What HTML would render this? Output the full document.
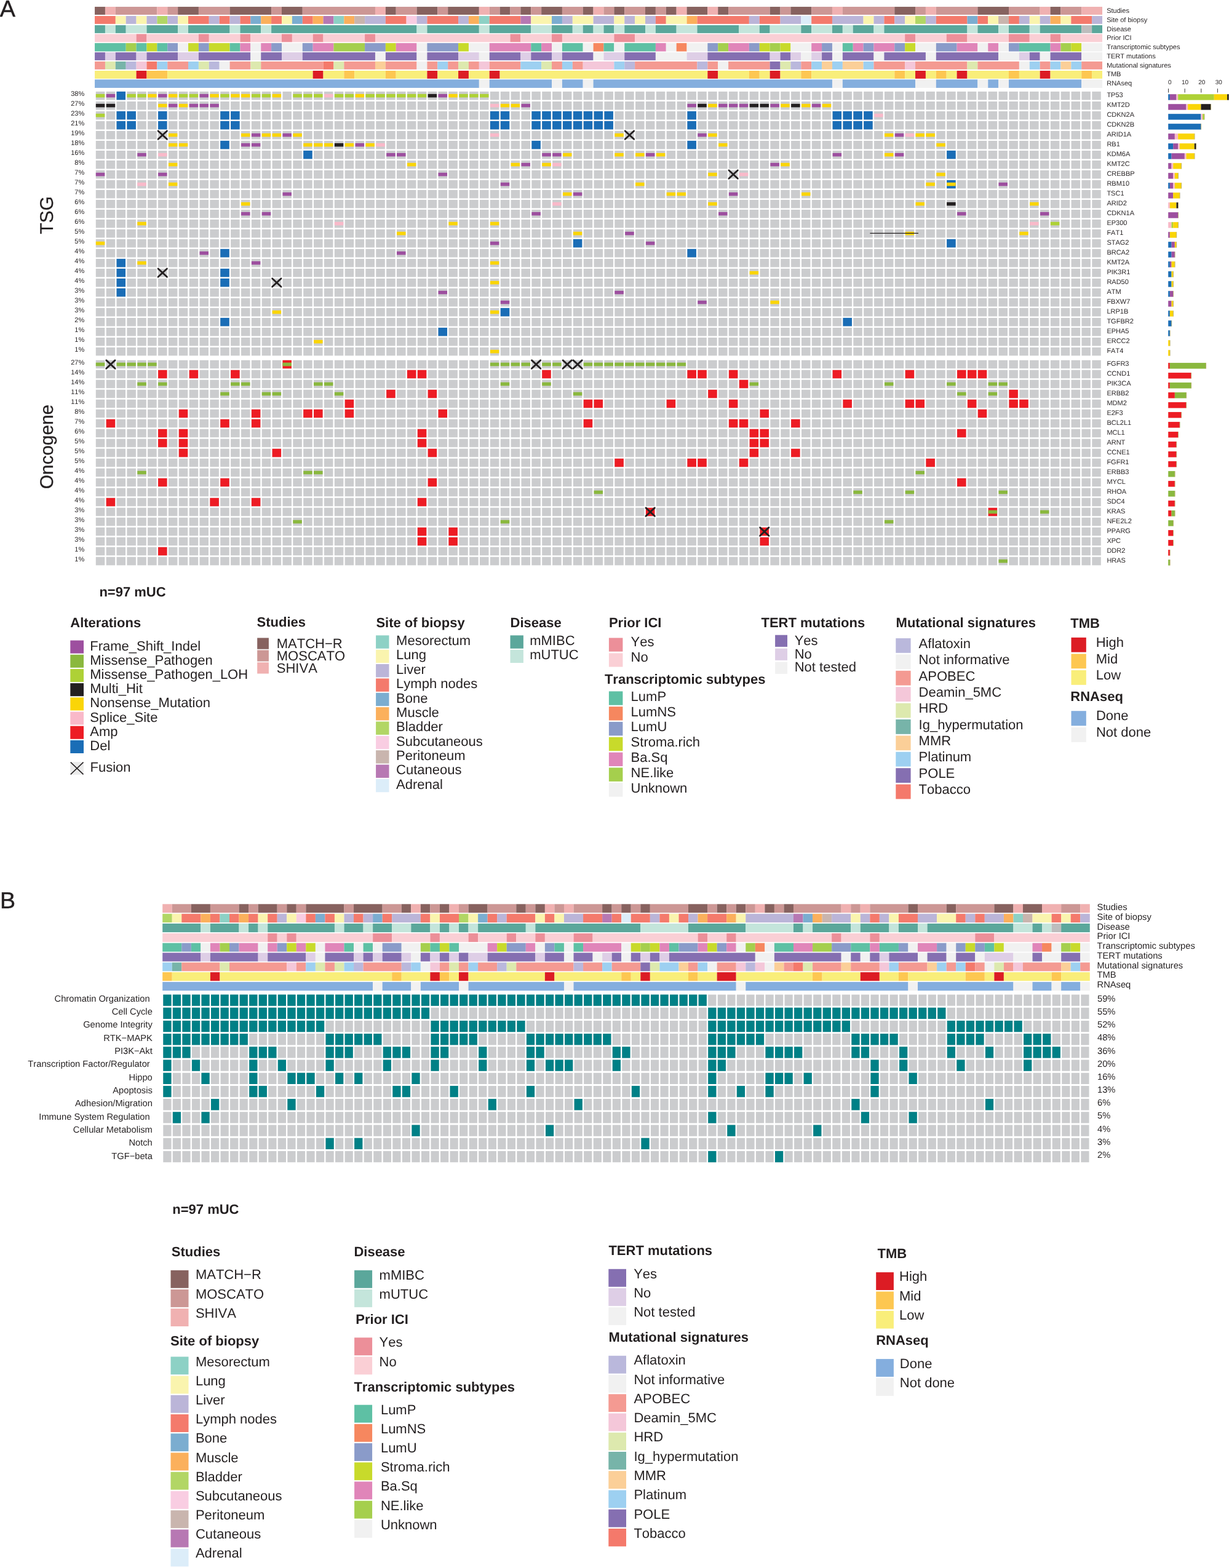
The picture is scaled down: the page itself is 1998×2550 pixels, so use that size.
<!DOCTYPE html>
<html lang="en"><head><meta charset="utf-8"><title>mUC oncoprint</title>
<style>
html,body{margin:0;padding:0;background:#fff}
body{width:1998px;height:2550px;overflow:hidden}
svg{display:block;text-rendering:geometricPrecision;font-kerning:none;font-variant-ligatures:none;font-family:"Liberation Sans",Arial,Helvetica,sans-serif;fill:#231F20}
</style></head><body>
<svg width="1998" height="2550" viewBox="0 0 1998 2550">
<rect width="1998" height="2550" fill="#fff"/>
<g id="panelA">
<text x="-0.3" y="27.2" font-size="37.8" stroke="#231F20" stroke-width="0.5">A</text>
<rect x="154.05" y="11.05" width="16.89" height="12.9" fill="#87625F"/>
<rect x="170.94" y="11.05" width="16.89" height="12.9" fill="#F0B1B1"/>
<rect x="187.82" y="11.05" width="67.54" height="12.9" fill="#CC9795"/>
<rect x="255.37" y="11.05" width="16.89" height="12.9" fill="#F0B1B1"/>
<rect x="272.25" y="11.05" width="16.89" height="12.9" fill="#CC9795"/>
<rect x="289.14" y="11.05" width="33.77" height="12.9" fill="#87625F"/>
<rect x="322.91" y="11.05" width="50.66" height="12.9" fill="#CC9795"/>
<rect x="373.57" y="11.05" width="67.54" height="12.9" fill="#87625F"/>
<rect x="441.11" y="11.05" width="16.89" height="12.9" fill="#CC9795"/>
<rect x="458" y="11.05" width="33.77" height="12.9" fill="#87625F"/>
<rect x="491.77" y="11.05" width="118.2" height="12.9" fill="#CC9795"/>
<rect x="609.97" y="11.05" width="16.89" height="12.9" fill="#F0B1B1"/>
<rect x="626.86" y="11.05" width="16.89" height="12.9" fill="#87625F"/>
<rect x="643.74" y="11.05" width="33.77" height="12.9" fill="#CC9795"/>
<rect x="677.52" y="11.05" width="33.77" height="12.9" fill="#87625F"/>
<rect x="711.29" y="11.05" width="16.89" height="12.9" fill="#CC9795"/>
<rect x="728.17" y="11.05" width="50.66" height="12.9" fill="#87625F"/>
<rect x="778.83" y="11.05" width="16.89" height="12.9" fill="#F0B1B1"/>
<rect x="795.72" y="11.05" width="16.89" height="12.9" fill="#CC9795"/>
<rect x="812.6" y="11.05" width="16.89" height="12.9" fill="#87625F"/>
<rect x="829.49" y="11.05" width="16.89" height="12.9" fill="#CC9795"/>
<rect x="846.38" y="11.05" width="16.89" height="12.9" fill="#87625F"/>
<rect x="863.26" y="11.05" width="16.89" height="12.9" fill="#CC9795"/>
<rect x="880.15" y="11.05" width="33.77" height="12.9" fill="#87625F"/>
<rect x="913.92" y="11.05" width="33.77" height="12.9" fill="#CC9795"/>
<rect x="947.69" y="11.05" width="16.89" height="12.9" fill="#87625F"/>
<rect x="964.58" y="11.05" width="16.89" height="12.9" fill="#F0B1B1"/>
<rect x="981.46" y="11.05" width="16.89" height="12.9" fill="#CC9795"/>
<rect x="998.35" y="11.05" width="16.89" height="12.9" fill="#87625F"/>
<rect x="1015.24" y="11.05" width="33.77" height="12.9" fill="#CC9795"/>
<rect x="1049.01" y="11.05" width="16.89" height="12.9" fill="#87625F"/>
<rect x="1065.89" y="11.05" width="16.89" height="12.9" fill="#CC9795"/>
<rect x="1082.78" y="11.05" width="16.89" height="12.9" fill="#87625F"/>
<rect x="1099.67" y="11.05" width="16.89" height="12.9" fill="#F0B1B1"/>
<rect x="1116.55" y="11.05" width="33.77" height="12.9" fill="#87625F"/>
<rect x="1150.32" y="11.05" width="16.89" height="12.9" fill="#F0B1B1"/>
<rect x="1167.21" y="11.05" width="16.89" height="12.9" fill="#87625F"/>
<rect x="1184.1" y="11.05" width="67.54" height="12.9" fill="#CC9795"/>
<rect x="1251.64" y="11.05" width="16.89" height="12.9" fill="#87625F"/>
<rect x="1268.53" y="11.05" width="16.89" height="12.9" fill="#CC9795"/>
<rect x="1285.41" y="11.05" width="33.77" height="12.9" fill="#87625F"/>
<rect x="1319.18" y="11.05" width="33.77" height="12.9" fill="#CC9795"/>
<rect x="1352.96" y="11.05" width="16.89" height="12.9" fill="#F0B1B1"/>
<rect x="1369.84" y="11.05" width="84.43" height="12.9" fill="#CC9795"/>
<rect x="1454.27" y="11.05" width="33.77" height="12.9" fill="#87625F"/>
<rect x="1488.04" y="11.05" width="16.89" height="12.9" fill="#CC9795"/>
<rect x="1504.93" y="11.05" width="16.89" height="12.9" fill="#F0B1B1"/>
<rect x="1521.82" y="11.05" width="67.54" height="12.9" fill="#CC9795"/>
<rect x="1589.36" y="11.05" width="50.66" height="12.9" fill="#87625F"/>
<rect x="1640.02" y="11.05" width="50.66" height="12.9" fill="#CC9795"/>
<rect x="1690.68" y="11.05" width="16.89" height="12.9" fill="#F0B1B1"/>
<rect x="1707.56" y="11.05" width="16.89" height="12.9" fill="#87625F"/>
<rect x="1724.45" y="11.05" width="33.77" height="12.9" fill="#CC9795"/>
<rect x="1758.22" y="11.05" width="33.77" height="12.9" fill="#F0B1B1"/>
<text x="1799.2" y="21.1" font-size="11">Studies</text>
<rect x="154.05" y="26" width="33.77" height="12.9" fill="#F47A6C"/>
<rect x="187.82" y="26" width="16.89" height="12.9" fill="#FAF4AE"/>
<rect x="204.71" y="26" width="16.89" height="12.9" fill="#BBB5D8"/>
<rect x="221.59" y="26" width="16.89" height="12.9" fill="#FAF4AE"/>
<rect x="238.48" y="26" width="16.89" height="12.9" fill="#BBB5D8"/>
<rect x="255.37" y="26" width="16.89" height="12.9" fill="#B2D665"/>
<rect x="272.25" y="26" width="16.89" height="12.9" fill="#BBB5D8"/>
<rect x="289.14" y="26" width="16.89" height="12.9" fill="#FAF4AE"/>
<rect x="306.02" y="26" width="33.77" height="12.9" fill="#F47A6C"/>
<rect x="339.8" y="26" width="16.89" height="12.9" fill="#BBB5D8"/>
<rect x="356.68" y="26" width="16.89" height="12.9" fill="#F47A6C"/>
<rect x="373.57" y="26" width="16.89" height="12.9" fill="#BBB5D8"/>
<rect x="390.45" y="26" width="16.89" height="12.9" fill="#F47A6C"/>
<rect x="407.34" y="26" width="16.89" height="12.9" fill="#7BADD0"/>
<rect x="424.23" y="26" width="16.89" height="12.9" fill="#FBB05C"/>
<rect x="441.11" y="26" width="16.89" height="12.9" fill="#F47A6C"/>
<rect x="458" y="26" width="16.89" height="12.9" fill="#FAF4AE"/>
<rect x="474.88" y="26" width="16.89" height="12.9" fill="#7BADD0"/>
<rect x="491.77" y="26" width="16.89" height="12.9" fill="#F47A6C"/>
<rect x="508.66" y="26" width="16.89" height="12.9" fill="#FBB05C"/>
<rect x="525.54" y="26" width="16.89" height="12.9" fill="#B778B3"/>
<rect x="542.43" y="26" width="16.89" height="12.9" fill="#8DD1C5"/>
<rect x="559.31" y="26" width="16.89" height="12.9" fill="#FBB05C"/>
<rect x="576.2" y="26" width="16.89" height="12.9" fill="#C9B5AE"/>
<rect x="593.09" y="26" width="33.77" height="12.9" fill="#BBB5D8"/>
<rect x="626.86" y="26" width="33.77" height="12.9" fill="#F47A6C"/>
<rect x="660.63" y="26" width="16.89" height="12.9" fill="#F9CDE2"/>
<rect x="677.52" y="26" width="16.89" height="12.9" fill="#BBB5D8"/>
<rect x="694.4" y="26" width="50.66" height="12.9" fill="#F47A6C"/>
<rect x="745.06" y="26" width="16.89" height="12.9" fill="#BBB5D8"/>
<rect x="761.95" y="26" width="16.89" height="12.9" fill="#FBB05C"/>
<rect x="778.83" y="26" width="16.89" height="12.9" fill="#8DD1C5"/>
<rect x="795.72" y="26" width="50.66" height="12.9" fill="#F47A6C"/>
<rect x="846.38" y="26" width="16.89" height="12.9" fill="#B778B3"/>
<rect x="863.26" y="26" width="33.77" height="12.9" fill="#FAF4AE"/>
<rect x="897.03" y="26" width="16.89" height="12.9" fill="#7BADD0"/>
<rect x="913.92" y="26" width="16.89" height="12.9" fill="#BBB5D8"/>
<rect x="930.81" y="26" width="33.77" height="12.9" fill="#FAF4AE"/>
<rect x="964.58" y="26" width="33.77" height="12.9" fill="#BBB5D8"/>
<rect x="998.35" y="26" width="16.89" height="12.9" fill="#FAF4AE"/>
<rect x="1015.24" y="26" width="16.89" height="12.9" fill="#BBB5D8"/>
<rect x="1032.12" y="26" width="16.89" height="12.9" fill="#FAF4AE"/>
<rect x="1049.01" y="26" width="16.89" height="12.9" fill="#BBB5D8"/>
<rect x="1065.89" y="26" width="16.89" height="12.9" fill="#F47A6C"/>
<rect x="1082.78" y="26" width="33.77" height="12.9" fill="#FAF4AE"/>
<rect x="1116.55" y="26" width="16.89" height="12.9" fill="#FBB05C"/>
<rect x="1133.44" y="26" width="84.43" height="12.9" fill="#F47A6C"/>
<rect x="1217.87" y="26" width="16.89" height="12.9" fill="#BBB5D8"/>
<rect x="1234.75" y="26" width="33.77" height="12.9" fill="#F47A6C"/>
<rect x="1268.53" y="26" width="33.77" height="12.9" fill="#BBB5D8"/>
<rect x="1302.3" y="26" width="16.89" height="12.9" fill="#DCEDF9"/>
<rect x="1319.18" y="26" width="33.77" height="12.9" fill="#F47A6C"/>
<rect x="1352.96" y="26" width="50.66" height="12.9" fill="#BBB5D8"/>
<rect x="1403.61" y="26" width="16.89" height="12.9" fill="#FAF4AE"/>
<rect x="1420.5" y="26" width="16.89" height="12.9" fill="#BBB5D8"/>
<rect x="1437.39" y="26" width="16.89" height="12.9" fill="#F47A6C"/>
<rect x="1454.27" y="26" width="16.89" height="12.9" fill="#BBB5D8"/>
<rect x="1471.16" y="26" width="16.89" height="12.9" fill="#FAF4AE"/>
<rect x="1488.04" y="26" width="16.89" height="12.9" fill="#B2D665"/>
<rect x="1504.93" y="26" width="16.89" height="12.9" fill="#BBB5D8"/>
<rect x="1521.82" y="26" width="50.66" height="12.9" fill="#F47A6C"/>
<rect x="1572.47" y="26" width="16.89" height="12.9" fill="#7BADD0"/>
<rect x="1589.36" y="26" width="16.89" height="12.9" fill="#F47A6C"/>
<rect x="1606.25" y="26" width="16.89" height="12.9" fill="#FAF4AE"/>
<rect x="1623.13" y="26" width="16.89" height="12.9" fill="#C9B5AE"/>
<rect x="1640.02" y="26" width="16.89" height="12.9" fill="#F47A6C"/>
<rect x="1656.9" y="26" width="16.89" height="12.9" fill="#BBB5D8"/>
<rect x="1673.79" y="26" width="16.89" height="12.9" fill="#FAF4AE"/>
<rect x="1690.68" y="26" width="16.89" height="12.9" fill="#BBB5D8"/>
<rect x="1707.56" y="26" width="16.89" height="12.9" fill="#FBB05C"/>
<rect x="1724.45" y="26" width="16.89" height="12.9" fill="#FAF4AE"/>
<rect x="1741.33" y="26" width="33.77" height="12.9" fill="#F47A6C"/>
<rect x="1775.11" y="26" width="16.89" height="12.9" fill="#BBB5D8"/>
<text x="1799.2" y="35.85" font-size="11">Site of biopsy</text>
<rect x="154.05" y="41" width="16.89" height="12.9" fill="#5BA79B"/>
<rect x="170.94" y="41" width="16.89" height="12.9" fill="#C4E5DB"/>
<rect x="187.82" y="41" width="16.89" height="12.9" fill="#5BA79B"/>
<rect x="204.71" y="41" width="33.77" height="12.9" fill="#C4E5DB"/>
<rect x="238.48" y="41" width="50.66" height="12.9" fill="#5BA79B"/>
<rect x="289.14" y="41" width="16.89" height="12.9" fill="#C4E5DB"/>
<rect x="306.02" y="41" width="67.54" height="12.9" fill="#5BA79B"/>
<rect x="373.57" y="41" width="16.89" height="12.9" fill="#C4E5DB"/>
<rect x="390.45" y="41" width="33.77" height="12.9" fill="#5BA79B"/>
<rect x="424.23" y="41" width="16.89" height="12.9" fill="#C4E5DB"/>
<rect x="441.11" y="41" width="236.4" height="12.9" fill="#5BA79B"/>
<rect x="677.52" y="41" width="16.89" height="12.9" fill="#C4E5DB"/>
<rect x="694.4" y="41" width="84.43" height="12.9" fill="#5BA79B"/>
<rect x="778.83" y="41" width="16.89" height="12.9" fill="#C4E5DB"/>
<rect x="795.72" y="41" width="67.54" height="12.9" fill="#5BA79B"/>
<rect x="863.26" y="41" width="33.77" height="12.9" fill="#C4E5DB"/>
<rect x="897.03" y="41" width="33.77" height="12.9" fill="#5BA79B"/>
<rect x="930.81" y="41" width="16.89" height="12.9" fill="#C4E5DB"/>
<rect x="947.69" y="41" width="16.89" height="12.9" fill="#5BA79B"/>
<rect x="964.58" y="41" width="16.89" height="12.9" fill="#C4E5DB"/>
<rect x="981.46" y="41" width="16.89" height="12.9" fill="#5BA79B"/>
<rect x="998.35" y="41" width="16.89" height="12.9" fill="#C4E5DB"/>
<rect x="1015.24" y="41" width="33.77" height="12.9" fill="#5BA79B"/>
<rect x="1049.01" y="41" width="16.89" height="12.9" fill="#C4E5DB"/>
<rect x="1065.89" y="41" width="33.77" height="12.9" fill="#5BA79B"/>
<rect x="1099.67" y="41" width="33.77" height="12.9" fill="#C4E5DB"/>
<rect x="1133.44" y="41" width="67.54" height="12.9" fill="#5BA79B"/>
<rect x="1200.98" y="41" width="33.77" height="12.9" fill="#C4E5DB"/>
<rect x="1234.75" y="41" width="16.89" height="12.9" fill="#5BA79B"/>
<rect x="1251.64" y="41" width="50.66" height="12.9" fill="#C4E5DB"/>
<rect x="1302.3" y="41" width="16.89" height="12.9" fill="#5BA79B"/>
<rect x="1319.18" y="41" width="33.77" height="12.9" fill="#C4E5DB"/>
<rect x="1352.96" y="41" width="16.89" height="12.9" fill="#5BA79B"/>
<rect x="1369.84" y="41" width="16.89" height="12.9" fill="#C4E5DB"/>
<rect x="1386.73" y="41" width="33.77" height="12.9" fill="#5BA79B"/>
<rect x="1420.5" y="41" width="16.89" height="12.9" fill="#C4E5DB"/>
<rect x="1437.39" y="41" width="135.09" height="12.9" fill="#5BA79B"/>
<rect x="1572.47" y="41" width="16.89" height="12.9" fill="#C4E5DB"/>
<rect x="1589.36" y="41" width="33.77" height="12.9" fill="#5BA79B"/>
<rect x="1623.13" y="41" width="16.89" height="12.9" fill="#C4E5DB"/>
<rect x="1640.02" y="41" width="33.77" height="12.9" fill="#5BA79B"/>
<rect x="1673.79" y="41" width="16.89" height="12.9" fill="#C4E5DB"/>
<rect x="1690.68" y="41" width="67.54" height="12.9" fill="#5BA79B"/>
<rect x="1758.22" y="41" width="16.89" height="12.9" fill="#BDBDBD"/>
<rect x="1775.11" y="41" width="16.89" height="12.9" fill="#5BA79B"/>
<text x="1799.2" y="50.6" font-size="11">Disease</text>
<rect x="154.05" y="55.3" width="67.54" height="13.1" fill="#FACFD5"/>
<rect x="221.59" y="55.3" width="16.89" height="13.1" fill="#EC8F99"/>
<rect x="238.48" y="55.3" width="84.43" height="13.1" fill="#FACFD5"/>
<rect x="322.91" y="55.3" width="16.89" height="13.1" fill="#EC8F99"/>
<rect x="339.8" y="55.3" width="50.66" height="13.1" fill="#FACFD5"/>
<rect x="390.45" y="55.3" width="16.89" height="13.1" fill="#EC8F99"/>
<rect x="407.34" y="55.3" width="50.66" height="13.1" fill="#FACFD5"/>
<rect x="458" y="55.3" width="16.89" height="13.1" fill="#EC8F99"/>
<rect x="474.88" y="55.3" width="33.77" height="13.1" fill="#FACFD5"/>
<rect x="508.66" y="55.3" width="16.89" height="13.1" fill="#EC8F99"/>
<rect x="525.54" y="55.3" width="67.54" height="13.1" fill="#FACFD5"/>
<rect x="593.09" y="55.3" width="16.89" height="13.1" fill="#EC8F99"/>
<rect x="609.97" y="55.3" width="219.52" height="13.1" fill="#FACFD5"/>
<rect x="829.49" y="55.3" width="16.89" height="13.1" fill="#EC8F99"/>
<rect x="846.38" y="55.3" width="50.66" height="13.1" fill="#FACFD5"/>
<rect x="897.03" y="55.3" width="16.89" height="13.1" fill="#EC8F99"/>
<rect x="913.92" y="55.3" width="84.43" height="13.1" fill="#FACFD5"/>
<rect x="998.35" y="55.3" width="33.77" height="13.1" fill="#EC8F99"/>
<rect x="1032.12" y="55.3" width="439.04" height="13.1" fill="#FACFD5"/>
<rect x="1471.16" y="55.3" width="16.89" height="13.1" fill="#EC8F99"/>
<rect x="1488.04" y="55.3" width="50.66" height="13.1" fill="#FACFD5"/>
<rect x="1538.7" y="55.3" width="33.77" height="13.1" fill="#EC8F99"/>
<rect x="1572.47" y="55.3" width="67.54" height="13.1" fill="#FACFD5"/>
<rect x="1640.02" y="55.3" width="33.77" height="13.1" fill="#EC8F99"/>
<rect x="1673.79" y="55.3" width="33.77" height="13.1" fill="#FACFD5"/>
<rect x="1707.56" y="55.3" width="16.89" height="13.1" fill="#EC8F99"/>
<rect x="1724.45" y="55.3" width="67.54" height="13.1" fill="#FACFD5"/>
<text x="1799.2" y="65.35" font-size="11">Prior ICI</text>
<rect x="154.05" y="70.1" width="50.66" height="13.5" fill="#5EC0A4"/>
<rect x="204.71" y="70.1" width="16.89" height="13.5" fill="#A5CF4D"/>
<rect x="221.59" y="70.1" width="16.89" height="13.5" fill="#5EC0A4"/>
<rect x="238.48" y="70.1" width="16.89" height="13.5" fill="#C8DA2B"/>
<rect x="255.37" y="70.1" width="16.89" height="13.5" fill="#5EC0A4"/>
<rect x="272.25" y="70.1" width="16.89" height="13.5" fill="#8A9BC9"/>
<rect x="289.14" y="70.1" width="16.89" height="13.5" fill="#F1F1F1"/>
<rect x="306.02" y="70.1" width="16.89" height="13.5" fill="#C8DA2B"/>
<rect x="322.91" y="70.1" width="16.89" height="13.5" fill="#8A9BC9"/>
<rect x="339.8" y="70.1" width="33.77" height="13.5" fill="#C8DA2B"/>
<rect x="373.57" y="70.1" width="16.89" height="13.5" fill="#5EC0A4"/>
<rect x="390.45" y="70.1" width="16.89" height="13.5" fill="#E085B9"/>
<rect x="407.34" y="70.1" width="16.89" height="13.5" fill="#F1F1F1"/>
<rect x="424.23" y="70.1" width="16.89" height="13.5" fill="#E085B9"/>
<rect x="441.11" y="70.1" width="16.89" height="13.5" fill="#8A9BC9"/>
<rect x="458" y="70.1" width="33.77" height="13.5" fill="#F1F1F1"/>
<rect x="491.77" y="70.1" width="16.89" height="13.5" fill="#8A9BC9"/>
<rect x="508.66" y="70.1" width="33.77" height="13.5" fill="#E085B9"/>
<rect x="542.43" y="70.1" width="50.66" height="13.5" fill="#A5CF4D"/>
<rect x="593.09" y="70.1" width="33.77" height="13.5" fill="#8A9BC9"/>
<rect x="626.86" y="70.1" width="16.89" height="13.5" fill="#C8DA2B"/>
<rect x="643.74" y="70.1" width="33.77" height="13.5" fill="#E085B9"/>
<rect x="677.52" y="70.1" width="16.89" height="13.5" fill="#F1F1F1"/>
<rect x="694.4" y="70.1" width="50.66" height="13.5" fill="#8A9BC9"/>
<rect x="745.06" y="70.1" width="16.89" height="13.5" fill="#C8DA2B"/>
<rect x="761.95" y="70.1" width="33.77" height="13.5" fill="#F1F1F1"/>
<rect x="795.72" y="70.1" width="67.54" height="13.5" fill="#E085B9"/>
<rect x="863.26" y="70.1" width="16.89" height="13.5" fill="#5EC0A4"/>
<rect x="880.15" y="70.1" width="16.89" height="13.5" fill="#E085B9"/>
<rect x="897.03" y="70.1" width="16.89" height="13.5" fill="#F1F1F1"/>
<rect x="913.92" y="70.1" width="33.77" height="13.5" fill="#5EC0A4"/>
<rect x="947.69" y="70.1" width="16.89" height="13.5" fill="#F1F1F1"/>
<rect x="964.58" y="70.1" width="16.89" height="13.5" fill="#F6875F"/>
<rect x="981.46" y="70.1" width="16.89" height="13.5" fill="#5EC0A4"/>
<rect x="998.35" y="70.1" width="16.89" height="13.5" fill="#F1F1F1"/>
<rect x="1015.24" y="70.1" width="50.66" height="13.5" fill="#5EC0A4"/>
<rect x="1065.89" y="70.1" width="16.89" height="13.5" fill="#E085B9"/>
<rect x="1082.78" y="70.1" width="16.89" height="13.5" fill="#F1F1F1"/>
<rect x="1099.67" y="70.1" width="16.89" height="13.5" fill="#F6875F"/>
<rect x="1116.55" y="70.1" width="33.77" height="13.5" fill="#F1F1F1"/>
<rect x="1150.32" y="70.1" width="16.89" height="13.5" fill="#8A9BC9"/>
<rect x="1167.21" y="70.1" width="16.89" height="13.5" fill="#A5CF4D"/>
<rect x="1184.1" y="70.1" width="33.77" height="13.5" fill="#E085B9"/>
<rect x="1217.87" y="70.1" width="16.89" height="13.5" fill="#8A9BC9"/>
<rect x="1234.75" y="70.1" width="16.89" height="13.5" fill="#C8DA2B"/>
<rect x="1251.64" y="70.1" width="16.89" height="13.5" fill="#A5CF4D"/>
<rect x="1268.53" y="70.1" width="16.89" height="13.5" fill="#C8DA2B"/>
<rect x="1285.41" y="70.1" width="33.77" height="13.5" fill="#F1F1F1"/>
<rect x="1319.18" y="70.1" width="16.89" height="13.5" fill="#E085B9"/>
<rect x="1336.07" y="70.1" width="16.89" height="13.5" fill="#8A9BC9"/>
<rect x="1352.96" y="70.1" width="16.89" height="13.5" fill="#F1F1F1"/>
<rect x="1369.84" y="70.1" width="16.89" height="13.5" fill="#5EC0A4"/>
<rect x="1386.73" y="70.1" width="16.89" height="13.5" fill="#E085B9"/>
<rect x="1403.61" y="70.1" width="16.89" height="13.5" fill="#8A9BC9"/>
<rect x="1420.5" y="70.1" width="33.77" height="13.5" fill="#E085B9"/>
<rect x="1454.27" y="70.1" width="16.89" height="13.5" fill="#8A9BC9"/>
<rect x="1471.16" y="70.1" width="16.89" height="13.5" fill="#C8DA2B"/>
<rect x="1488.04" y="70.1" width="33.77" height="13.5" fill="#F1F1F1"/>
<rect x="1521.82" y="70.1" width="33.77" height="13.5" fill="#8A9BC9"/>
<rect x="1555.59" y="70.1" width="33.77" height="13.5" fill="#E085B9"/>
<rect x="1589.36" y="70.1" width="16.89" height="13.5" fill="#F1F1F1"/>
<rect x="1606.25" y="70.1" width="16.89" height="13.5" fill="#E085B9"/>
<rect x="1623.13" y="70.1" width="16.89" height="13.5" fill="#F1F1F1"/>
<rect x="1640.02" y="70.1" width="16.89" height="13.5" fill="#8A9BC9"/>
<rect x="1656.9" y="70.1" width="50.66" height="13.5" fill="#5EC0A4"/>
<rect x="1707.56" y="70.1" width="16.89" height="13.5" fill="#E085B9"/>
<rect x="1724.45" y="70.1" width="16.89" height="13.5" fill="#A5CF4D"/>
<rect x="1741.33" y="70.1" width="16.89" height="13.5" fill="#C8DA2B"/>
<rect x="1758.22" y="70.1" width="33.77" height="13.5" fill="#F1F1F1"/>
<text x="1799.2" y="80.1" font-size="11">Transcriptomic subtypes</text>
<rect x="154.05" y="85.1" width="16.89" height="13" fill="#856FB1"/>
<rect x="170.94" y="85.1" width="16.89" height="13" fill="#DECEE6"/>
<rect x="187.82" y="85.1" width="33.77" height="13" fill="#856FB1"/>
<rect x="221.59" y="85.1" width="16.89" height="13" fill="#DECEE6"/>
<rect x="238.48" y="85.1" width="50.66" height="13" fill="#856FB1"/>
<rect x="289.14" y="85.1" width="33.77" height="13" fill="#DECEE6"/>
<rect x="322.91" y="85.1" width="84.43" height="13" fill="#856FB1"/>
<rect x="407.34" y="85.1" width="16.89" height="13" fill="#F1F1F1"/>
<rect x="424.23" y="85.1" width="33.77" height="13" fill="#856FB1"/>
<rect x="458" y="85.1" width="33.77" height="13" fill="#DECEE6"/>
<rect x="491.77" y="85.1" width="118.2" height="13" fill="#856FB1"/>
<rect x="609.97" y="85.1" width="16.89" height="13" fill="#F1F1F1"/>
<rect x="626.86" y="85.1" width="50.66" height="13" fill="#856FB1"/>
<rect x="677.52" y="85.1" width="16.89" height="13" fill="#F1F1F1"/>
<rect x="694.4" y="85.1" width="50.66" height="13" fill="#856FB1"/>
<rect x="745.06" y="85.1" width="33.77" height="13" fill="#DECEE6"/>
<rect x="778.83" y="85.1" width="16.89" height="13" fill="#F1F1F1"/>
<rect x="795.72" y="85.1" width="50.66" height="13" fill="#856FB1"/>
<rect x="846.38" y="85.1" width="16.89" height="13" fill="#DECEE6"/>
<rect x="863.26" y="85.1" width="33.77" height="13" fill="#856FB1"/>
<rect x="897.03" y="85.1" width="16.89" height="13" fill="#DECEE6"/>
<rect x="913.92" y="85.1" width="50.66" height="13" fill="#856FB1"/>
<rect x="964.58" y="85.1" width="16.89" height="13" fill="#F1F1F1"/>
<rect x="981.46" y="85.1" width="33.77" height="13" fill="#DECEE6"/>
<rect x="1015.24" y="85.1" width="50.66" height="13" fill="#856FB1"/>
<rect x="1065.89" y="85.1" width="50.66" height="13" fill="#F1F1F1"/>
<rect x="1116.55" y="85.1" width="33.77" height="13" fill="#DECEE6"/>
<rect x="1150.32" y="85.1" width="101.32" height="13" fill="#856FB1"/>
<rect x="1251.64" y="85.1" width="16.89" height="13" fill="#DECEE6"/>
<rect x="1268.53" y="85.1" width="16.89" height="13" fill="#856FB1"/>
<rect x="1285.41" y="85.1" width="16.89" height="13" fill="#DECEE6"/>
<rect x="1302.3" y="85.1" width="16.89" height="13" fill="#F1F1F1"/>
<rect x="1319.18" y="85.1" width="16.89" height="13" fill="#DECEE6"/>
<rect x="1336.07" y="85.1" width="16.89" height="13" fill="#856FB1"/>
<rect x="1352.96" y="85.1" width="16.89" height="13" fill="#F1F1F1"/>
<rect x="1369.84" y="85.1" width="50.66" height="13" fill="#856FB1"/>
<rect x="1420.5" y="85.1" width="16.89" height="13" fill="#F1F1F1"/>
<rect x="1437.39" y="85.1" width="67.54" height="13" fill="#856FB1"/>
<rect x="1504.93" y="85.1" width="16.89" height="13" fill="#F1F1F1"/>
<rect x="1521.82" y="85.1" width="101.32" height="13" fill="#856FB1"/>
<rect x="1623.13" y="85.1" width="33.77" height="13" fill="#F1F1F1"/>
<rect x="1656.9" y="85.1" width="16.89" height="13" fill="#DECEE6"/>
<rect x="1673.79" y="85.1" width="16.89" height="13" fill="#856FB1"/>
<rect x="1690.68" y="85.1" width="16.89" height="13" fill="#F1F1F1"/>
<rect x="1707.56" y="85.1" width="50.66" height="13" fill="#856FB1"/>
<rect x="1758.22" y="85.1" width="33.77" height="13" fill="#F1F1F1"/>
<text x="1799.2" y="94.85" font-size="11">TERT mutations</text>
<rect x="154.05" y="100" width="16.89" height="12.9" fill="#F49A92"/>
<rect x="170.94" y="100" width="16.89" height="12.9" fill="#DDE9AE"/>
<rect x="187.82" y="100" width="16.89" height="12.9" fill="#77B4A9"/>
<rect x="204.71" y="100" width="16.89" height="12.9" fill="#BAB8DC"/>
<rect x="221.59" y="100" width="16.89" height="12.9" fill="#F4C7D9"/>
<rect x="238.48" y="100" width="16.89" height="12.9" fill="#F4796B"/>
<rect x="255.37" y="100" width="16.89" height="12.9" fill="#9DD0F1"/>
<rect x="272.25" y="100" width="33.77" height="12.9" fill="#F49A92"/>
<rect x="306.02" y="100" width="16.89" height="12.9" fill="#9DD0F1"/>
<rect x="322.91" y="100" width="16.89" height="12.9" fill="#DDE9AE"/>
<rect x="339.8" y="100" width="16.89" height="12.9" fill="#BAB8DC"/>
<rect x="356.68" y="100" width="16.89" height="12.9" fill="#F1F1F1"/>
<rect x="373.57" y="100" width="33.77" height="12.9" fill="#F49A92"/>
<rect x="407.34" y="100" width="16.89" height="12.9" fill="#DDE9AE"/>
<rect x="424.23" y="100" width="101.32" height="12.9" fill="#F49A92"/>
<rect x="525.54" y="100" width="16.89" height="12.9" fill="#F4796B"/>
<rect x="542.43" y="100" width="16.89" height="12.9" fill="#DDE9AE"/>
<rect x="559.31" y="100" width="50.66" height="12.9" fill="#F49A92"/>
<rect x="609.97" y="100" width="16.89" height="12.9" fill="#FBCF98"/>
<rect x="626.86" y="100" width="50.66" height="12.9" fill="#F49A92"/>
<rect x="677.52" y="100" width="16.89" height="12.9" fill="#F1F1F1"/>
<rect x="694.4" y="100" width="16.89" height="12.9" fill="#F49A92"/>
<rect x="711.29" y="100" width="16.89" height="12.9" fill="#9DD0F1"/>
<rect x="728.17" y="100" width="16.89" height="12.9" fill="#F49A92"/>
<rect x="745.06" y="100" width="16.89" height="12.9" fill="#DDE9AE"/>
<rect x="761.95" y="100" width="16.89" height="12.9" fill="#F49A92"/>
<rect x="778.83" y="100" width="16.89" height="12.9" fill="#F4C7D9"/>
<rect x="795.72" y="100" width="50.66" height="12.9" fill="#F49A92"/>
<rect x="846.38" y="100" width="33.77" height="12.9" fill="#9DD0F1"/>
<rect x="880.15" y="100" width="16.89" height="12.9" fill="#DDE9AE"/>
<rect x="897.03" y="100" width="16.89" height="12.9" fill="#F49A92"/>
<rect x="913.92" y="100" width="16.89" height="12.9" fill="#9DD0F1"/>
<rect x="930.81" y="100" width="16.89" height="12.9" fill="#F49A92"/>
<rect x="947.69" y="100" width="50.66" height="12.9" fill="#F4C7D9"/>
<rect x="998.35" y="100" width="16.89" height="12.9" fill="#9DD0F1"/>
<rect x="1015.24" y="100" width="16.89" height="12.9" fill="#BAB8DC"/>
<rect x="1032.12" y="100" width="101.32" height="12.9" fill="#F49A92"/>
<rect x="1133.44" y="100" width="16.89" height="12.9" fill="#BAB8DC"/>
<rect x="1150.32" y="100" width="16.89" height="12.9" fill="#F49A92"/>
<rect x="1167.21" y="100" width="16.89" height="12.9" fill="#F1F1F1"/>
<rect x="1184.1" y="100" width="67.54" height="12.9" fill="#F49A92"/>
<rect x="1251.64" y="100" width="16.89" height="12.9" fill="#856FB1"/>
<rect x="1268.53" y="100" width="16.89" height="12.9" fill="#DDE9AE"/>
<rect x="1285.41" y="100" width="16.89" height="12.9" fill="#BAB8DC"/>
<rect x="1302.3" y="100" width="16.89" height="12.9" fill="#F49A92"/>
<rect x="1319.18" y="100" width="16.89" height="12.9" fill="#9DD0F1"/>
<rect x="1336.07" y="100" width="16.89" height="12.9" fill="#FBCF98"/>
<rect x="1352.96" y="100" width="16.89" height="12.9" fill="#9DD0F1"/>
<rect x="1369.84" y="100" width="33.77" height="12.9" fill="#FBCF98"/>
<rect x="1403.61" y="100" width="16.89" height="12.9" fill="#9DD0F1"/>
<rect x="1420.5" y="100" width="50.66" height="12.9" fill="#F49A92"/>
<rect x="1471.16" y="100" width="16.89" height="12.9" fill="#F4C7D9"/>
<rect x="1488.04" y="100" width="84.43" height="12.9" fill="#F49A92"/>
<rect x="1572.47" y="100" width="16.89" height="12.9" fill="#DDE9AE"/>
<rect x="1589.36" y="100" width="67.54" height="12.9" fill="#F49A92"/>
<rect x="1656.9" y="100" width="16.89" height="12.9" fill="#F1F1F1"/>
<rect x="1673.79" y="100" width="16.89" height="12.9" fill="#9DD0F1"/>
<rect x="1690.68" y="100" width="16.89" height="12.9" fill="#F49A92"/>
<rect x="1707.56" y="100" width="16.89" height="12.9" fill="#9DD0F1"/>
<rect x="1724.45" y="100" width="16.89" height="12.9" fill="#FBCF98"/>
<rect x="1741.33" y="100" width="16.89" height="12.9" fill="#9DD0F1"/>
<rect x="1758.22" y="100" width="33.77" height="12.9" fill="#F49A92"/>
<text x="1799.2" y="109.6" font-size="11">Mutational signatures</text>
<rect x="154.05" y="115" width="67.54" height="12.9" fill="#F9EE7A"/>
<rect x="221.59" y="115" width="16.89" height="12.9" fill="#DC1C24"/>
<rect x="238.48" y="115" width="33.77" height="12.9" fill="#FDC751"/>
<rect x="272.25" y="115" width="236.4" height="12.9" fill="#F9EE7A"/>
<rect x="508.66" y="115" width="16.89" height="12.9" fill="#DC1C24"/>
<rect x="525.54" y="115" width="33.77" height="12.9" fill="#F9EE7A"/>
<rect x="559.31" y="115" width="16.89" height="12.9" fill="#FDC751"/>
<rect x="576.2" y="115" width="50.66" height="12.9" fill="#F9EE7A"/>
<rect x="626.86" y="115" width="16.89" height="12.9" fill="#FDC751"/>
<rect x="643.74" y="115" width="50.66" height="12.9" fill="#F9EE7A"/>
<rect x="694.4" y="115" width="16.89" height="12.9" fill="#DC1C24"/>
<rect x="711.29" y="115" width="33.77" height="12.9" fill="#F9EE7A"/>
<rect x="745.06" y="115" width="16.89" height="12.9" fill="#DC1C24"/>
<rect x="761.95" y="115" width="33.77" height="12.9" fill="#F9EE7A"/>
<rect x="795.72" y="115" width="16.89" height="12.9" fill="#DC1C24"/>
<rect x="812.6" y="115" width="337.72" height="12.9" fill="#F9EE7A"/>
<rect x="1150.32" y="115" width="16.89" height="12.9" fill="#DC1C24"/>
<rect x="1167.21" y="115" width="50.66" height="12.9" fill="#F9EE7A"/>
<rect x="1217.87" y="115" width="16.89" height="12.9" fill="#FDC751"/>
<rect x="1234.75" y="115" width="16.89" height="12.9" fill="#F9EE7A"/>
<rect x="1251.64" y="115" width="16.89" height="12.9" fill="#DC1C24"/>
<rect x="1268.53" y="115" width="33.77" height="12.9" fill="#F9EE7A"/>
<rect x="1302.3" y="115" width="16.89" height="12.9" fill="#FDC751"/>
<rect x="1319.18" y="115" width="135.09" height="12.9" fill="#F9EE7A"/>
<rect x="1454.27" y="115" width="16.89" height="12.9" fill="#FDC751"/>
<rect x="1471.16" y="115" width="16.89" height="12.9" fill="#F9EE7A"/>
<rect x="1488.04" y="115" width="16.89" height="12.9" fill="#DC1C24"/>
<rect x="1504.93" y="115" width="16.89" height="12.9" fill="#F9EE7A"/>
<rect x="1521.82" y="115" width="16.89" height="12.9" fill="#FDC751"/>
<rect x="1538.7" y="115" width="16.89" height="12.9" fill="#F9EE7A"/>
<rect x="1555.59" y="115" width="16.89" height="12.9" fill="#DC1C24"/>
<rect x="1572.47" y="115" width="67.54" height="12.9" fill="#F9EE7A"/>
<rect x="1640.02" y="115" width="16.89" height="12.9" fill="#FDC751"/>
<rect x="1656.9" y="115" width="33.77" height="12.9" fill="#F9EE7A"/>
<rect x="1690.68" y="115" width="16.89" height="12.9" fill="#DC1C24"/>
<rect x="1707.56" y="115" width="50.66" height="12.9" fill="#F9EE7A"/>
<rect x="1758.22" y="115" width="16.89" height="12.9" fill="#FDC751"/>
<rect x="1775.11" y="115" width="16.89" height="12.9" fill="#F9EE7A"/>
<text x="1799.2" y="124.35" font-size="11">TMB</text>
<rect x="154.05" y="129.3" width="624.78" height="13.6" fill="#84AEDE"/>
<rect x="778.83" y="129.3" width="16.89" height="13.6" fill="#F1F1F1"/>
<rect x="795.72" y="129.3" width="101.32" height="13.6" fill="#84AEDE"/>
<rect x="897.03" y="129.3" width="16.89" height="13.6" fill="#F1F1F1"/>
<rect x="913.92" y="129.3" width="33.77" height="13.6" fill="#84AEDE"/>
<rect x="947.69" y="129.3" width="16.89" height="13.6" fill="#F1F1F1"/>
<rect x="964.58" y="129.3" width="388.38" height="13.6" fill="#84AEDE"/>
<rect x="1352.96" y="129.3" width="16.89" height="13.6" fill="#F1F1F1"/>
<rect x="1369.84" y="129.3" width="118.2" height="13.6" fill="#84AEDE"/>
<rect x="1488.04" y="129.3" width="33.77" height="13.6" fill="#F1F1F1"/>
<rect x="1521.82" y="129.3" width="67.54" height="13.6" fill="#84AEDE"/>
<rect x="1589.36" y="129.3" width="16.89" height="13.6" fill="#F1F1F1"/>
<rect x="1606.25" y="129.3" width="16.89" height="13.6" fill="#84AEDE"/>
<rect x="1623.13" y="129.3" width="16.89" height="13.6" fill="#F1F1F1"/>
<rect x="1640.02" y="129.3" width="118.2" height="13.6" fill="#84AEDE"/>
<rect x="1758.22" y="129.3" width="33.77" height="13.6" fill="#F1F1F1"/>
<text x="1799.2" y="139.1" font-size="11">RNAseq</text>
<rect x="155.8" y="148.9" width="1634.02" height="429.5" fill="#CBCCCE"/>
<path d="M171.49 147.9v431.5M188.36 147.9v431.5M205.23 147.9v431.5M222.1 147.9v431.5M238.97 147.9v431.5M255.84 147.9v431.5M272.71 147.9v431.5M289.58 147.9v431.5M306.45 147.9v431.5M323.32 147.9v431.5M340.19 147.9v431.5M357.06 147.9v431.5M373.93 147.9v431.5M390.8 147.9v431.5M407.67 147.9v431.5M424.54 147.9v431.5M441.41 147.9v431.5M458.28 147.9v431.5M475.15 147.9v431.5M492.02 147.9v431.5M508.89 147.9v431.5M525.76 147.9v431.5M542.62 147.9v431.5M559.5 147.9v431.5M576.37 147.9v431.5M593.24 147.9v431.5M610.11 147.9v431.5M626.98 147.9v431.5M643.85 147.9v431.5M660.72 147.9v431.5M677.59 147.9v431.5M694.46 147.9v431.5M711.33 147.9v431.5M728.2 147.9v431.5M745.07 147.9v431.5M761.94 147.9v431.5M778.81 147.9v431.5M795.68 147.9v431.5M812.55 147.9v431.5M829.42 147.9v431.5M846.29 147.9v431.5M863.16 147.9v431.5M880.03 147.9v431.5M896.9 147.9v431.5M913.77 147.9v431.5M930.64 147.9v431.5M947.51 147.9v431.5M964.38 147.9v431.5M981.25 147.9v431.5M998.12 147.9v431.5M1014.99 147.9v431.5M1031.86 147.9v431.5M1048.72 147.9v431.5M1065.6 147.9v431.5M1082.47 147.9v431.5M1099.34 147.9v431.5M1116.2 147.9v431.5M1133.08 147.9v431.5M1149.95 147.9v431.5M1166.82 147.9v431.5M1183.68 147.9v431.5M1200.56 147.9v431.5M1217.43 147.9v431.5M1234.3 147.9v431.5M1251.16 147.9v431.5M1268.03 147.9v431.5M1284.91 147.9v431.5M1301.78 147.9v431.5M1318.64 147.9v431.5M1335.51 147.9v431.5M1352.39 147.9v431.5M1369.26 147.9v431.5M1386.12 147.9v431.5M1402.99 147.9v431.5M1419.87 147.9v431.5M1436.74 147.9v431.5M1453.61 147.9v431.5M1470.47 147.9v431.5M1487.35 147.9v431.5M1504.22 147.9v431.5M1521.09 147.9v431.5M1537.95 147.9v431.5M1554.83 147.9v431.5M1571.7 147.9v431.5M1588.57 147.9v431.5M1605.43 147.9v431.5M1622.31 147.9v431.5M1639.18 147.9v431.5M1656.05 147.9v431.5M1672.91 147.9v431.5M1689.79 147.9v431.5M1706.66 147.9v431.5M1723.53 147.9v431.5M1740.39 147.9v431.5M1757.27 147.9v431.5M1774.14 147.9v431.5" stroke="#fff" stroke-width="2.37" fill="none"/>
<path d="M154.8 163.65h1636.02M154.8 179.65h1636.02M154.8 195.65h1636.02M154.8 211.65h1636.02M154.8 227.65h1636.02M154.8 243.65h1636.02M154.8 259.65h1636.02M154.8 275.65h1636.02M154.8 291.65h1636.02M154.8 307.65h1636.02M154.8 323.65h1636.02M154.8 339.65h1636.02M154.8 355.65h1636.02M154.8 371.65h1636.02M154.8 387.65h1636.02M154.8 403.65h1636.02M154.8 419.65h1636.02M154.8 435.65h1636.02M154.8 451.65h1636.02M154.8 467.65h1636.02M154.8 483.65h1636.02M154.8 499.65h1636.02M154.8 515.65h1636.02M154.8 531.65h1636.02M154.8 547.65h1636.02M154.8 563.65h1636.02" stroke="#fff" stroke-width="2.5" fill="none"/>
<rect x="155.8" y="152.85" width="14.5" height="5.6" fill="#AED136"/>
<rect x="172.67" y="152.85" width="14.5" height="5.6" fill="#9D4F9F"/>
<rect x="189.54" y="148.9" width="14.5" height="13.5" fill="#1A6DB6"/>
<rect x="206.41" y="152.85" width="14.5" height="5.6" fill="#AED136"/>
<rect x="223.28" y="152.85" width="14.5" height="5.6" fill="#AED136"/>
<rect x="240.15" y="152.85" width="14.5" height="5.6" fill="#FAD507"/>
<rect x="257.02" y="152.85" width="14.5" height="5.6" fill="#9D4F9F"/>
<rect x="273.89" y="152.85" width="14.5" height="5.6" fill="#FAD507"/>
<rect x="290.76" y="152.85" width="14.5" height="5.6" fill="#AED136"/>
<rect x="307.63" y="152.85" width="14.5" height="5.6" fill="#AED136"/>
<rect x="324.5" y="152.85" width="14.5" height="5.6" fill="#9D4F9F"/>
<rect x="341.37" y="152.85" width="14.5" height="5.6" fill="#FAD507"/>
<rect x="358.24" y="152.85" width="14.5" height="5.6" fill="#AED136"/>
<rect x="375.11" y="152.85" width="14.5" height="5.6" fill="#FAD507"/>
<rect x="391.98" y="152.85" width="14.5" height="5.6" fill="#FAD507"/>
<rect x="408.85" y="152.85" width="14.5" height="5.6" fill="#AED136"/>
<rect x="425.72" y="152.85" width="14.5" height="5.6" fill="#AED136"/>
<rect x="442.59" y="152.85" width="14.5" height="5.6" fill="#FAD507"/>
<rect x="476.33" y="152.85" width="14.5" height="5.6" fill="#AED136"/>
<rect x="493.2" y="152.85" width="14.5" height="5.6" fill="#AED136"/>
<rect x="510.07" y="152.85" width="14.5" height="5.6" fill="#AED136"/>
<rect x="526.94" y="152.85" width="14.5" height="5.6" fill="#F9B9C9"/>
<rect x="543.81" y="152.85" width="14.5" height="5.6" fill="#AED136"/>
<rect x="560.68" y="152.85" width="14.5" height="5.6" fill="#AED136"/>
<rect x="577.55" y="152.85" width="14.5" height="5.6" fill="#FAD507"/>
<rect x="594.42" y="152.85" width="14.5" height="5.6" fill="#AED136"/>
<rect x="611.29" y="152.85" width="14.5" height="5.6" fill="#AED136"/>
<rect x="628.16" y="152.85" width="14.5" height="5.6" fill="#AED136"/>
<rect x="645.03" y="152.85" width="14.5" height="5.6" fill="#AED136"/>
<rect x="661.9" y="152.85" width="14.5" height="5.6" fill="#AED136"/>
<rect x="678.77" y="152.85" width="14.5" height="5.6" fill="#AED136"/>
<rect x="695.64" y="152.85" width="14.5" height="5.6" fill="#231F20"/>
<rect x="712.51" y="152.85" width="14.5" height="5.6" fill="#9D4F9F"/>
<rect x="729.38" y="152.85" width="14.5" height="5.6" fill="#FAD507"/>
<rect x="746.25" y="152.85" width="14.5" height="5.6" fill="#AED136"/>
<rect x="763.12" y="152.85" width="14.5" height="5.6" fill="#AED136"/>
<rect x="779.99" y="152.85" width="14.5" height="5.6" fill="#AED136"/>
<text x="137.2" y="156.3" font-size="11" text-anchor="end">38%</text>
<text x="1799.4" y="158" font-size="11">TP53</text>
<rect x="1899.2" y="153.2" width="2.66" height="9.5" fill="#1A6DB6"/>
<rect x="1901.86" y="153.2" width="10.65" height="9.5" fill="#9D4F9F"/>
<rect x="1912.52" y="153.2" width="2.66" height="9.5" fill="#F9B9C9"/>
<rect x="1915.18" y="153.2" width="58.59" height="9.5" fill="#AED136"/>
<rect x="1973.76" y="153.2" width="21.3" height="9.5" fill="#FAD507"/>
<rect x="1995.07" y="153.2" width="2.66" height="9.5" fill="#231F20"/>
<rect x="1997.63" y="153.2" width="0.7" height="9.5" fill="#A89A4A"/>
<rect x="155.8" y="168.85" width="14.5" height="5.6" fill="#231F20"/>
<rect x="172.67" y="168.85" width="14.5" height="5.6" fill="#231F20"/>
<rect x="257.02" y="168.85" width="14.5" height="5.6" fill="#FAD507"/>
<rect x="273.89" y="168.85" width="14.5" height="5.6" fill="#9D4F9F"/>
<rect x="290.76" y="168.85" width="14.5" height="5.6" fill="#FAD507"/>
<rect x="307.63" y="168.85" width="14.5" height="5.6" fill="#9D4F9F"/>
<rect x="324.5" y="168.85" width="14.5" height="5.6" fill="#9D4F9F"/>
<rect x="341.37" y="168.85" width="14.5" height="5.6" fill="#9D4F9F"/>
<rect x="796.86" y="168.85" width="14.5" height="5.6" fill="#F9B9C9"/>
<rect x="813.73" y="168.85" width="14.5" height="5.6" fill="#FAD507"/>
<rect x="830.6" y="168.85" width="14.5" height="5.6" fill="#FAD507"/>
<rect x="847.47" y="168.85" width="14.5" height="5.6" fill="#9D4F9F"/>
<rect x="1117.39" y="168.85" width="14.5" height="5.6" fill="#9D4F9F"/>
<rect x="1134.26" y="168.85" width="14.5" height="5.6" fill="#231F20"/>
<rect x="1151.13" y="168.85" width="14.5" height="5.6" fill="#FAD507"/>
<rect x="1168" y="168.85" width="14.5" height="5.6" fill="#9D4F9F"/>
<rect x="1184.87" y="168.85" width="14.5" height="5.6" fill="#9D4F9F"/>
<rect x="1201.74" y="168.85" width="14.5" height="5.6" fill="#9D4F9F"/>
<rect x="1218.61" y="168.85" width="14.5" height="5.6" fill="#231F20"/>
<rect x="1235.48" y="168.85" width="14.5" height="5.6" fill="#231F20"/>
<rect x="1252.35" y="168.85" width="14.5" height="5.6" fill="#9D4F9F"/>
<rect x="1269.22" y="168.85" width="14.5" height="5.6" fill="#FAD507"/>
<rect x="1286.09" y="168.85" width="14.5" height="5.6" fill="#231F20"/>
<rect x="1302.96" y="168.85" width="14.5" height="5.6" fill="#FAD507"/>
<rect x="1319.83" y="168.85" width="14.5" height="5.6" fill="#9D4F9F"/>
<rect x="1336.7" y="168.85" width="14.5" height="5.6" fill="#FAD507"/>
<text x="137.2" y="172.3" font-size="11" text-anchor="end">27%</text>
<text x="1799.4" y="174" font-size="11">KMT2D</text>
<rect x="1899.2" y="169.2" width="29.29" height="9.5" fill="#9D4F9F"/>
<rect x="1928.49" y="169.2" width="2.66" height="9.5" fill="#F9B9C9"/>
<rect x="1931.16" y="169.2" width="21.3" height="9.5" fill="#FAD507"/>
<rect x="1952.46" y="169.2" width="15.98" height="9.5" fill="#231F20"/>
<rect x="1968.34" y="169.2" width="0.7" height="9.5" fill="#A89A4A"/>
<rect x="155.8" y="184.85" width="14.5" height="5.6" fill="#AED136"/>
<rect x="189.54" y="180.9" width="14.5" height="13.5" fill="#1A6DB6"/>
<rect x="206.41" y="180.9" width="14.5" height="13.5" fill="#1A6DB6"/>
<rect x="257.02" y="180.9" width="14.5" height="13.5" fill="#1A6DB6"/>
<rect x="358.24" y="180.9" width="14.5" height="13.5" fill="#1A6DB6"/>
<rect x="375.11" y="180.9" width="14.5" height="13.5" fill="#1A6DB6"/>
<rect x="796.86" y="180.9" width="14.5" height="13.5" fill="#1A6DB6"/>
<rect x="813.73" y="180.9" width="14.5" height="13.5" fill="#1A6DB6"/>
<rect x="864.34" y="180.9" width="14.5" height="13.5" fill="#1A6DB6"/>
<rect x="881.21" y="180.9" width="14.5" height="13.5" fill="#1A6DB6"/>
<rect x="898.08" y="180.9" width="14.5" height="13.5" fill="#1A6DB6"/>
<rect x="914.95" y="180.9" width="14.5" height="13.5" fill="#1A6DB6"/>
<rect x="931.82" y="180.9" width="14.5" height="13.5" fill="#1A6DB6"/>
<rect x="948.69" y="180.9" width="14.5" height="13.5" fill="#1A6DB6"/>
<rect x="965.56" y="180.9" width="14.5" height="13.5" fill="#1A6DB6"/>
<rect x="982.43" y="180.9" width="14.5" height="13.5" fill="#1A6DB6"/>
<rect x="1117.39" y="180.9" width="14.5" height="13.5" fill="#1A6DB6"/>
<rect x="1353.57" y="180.9" width="14.5" height="13.5" fill="#1A6DB6"/>
<rect x="1370.44" y="180.9" width="14.5" height="13.5" fill="#1A6DB6"/>
<rect x="1387.31" y="180.9" width="14.5" height="13.5" fill="#1A6DB6"/>
<rect x="1404.18" y="180.9" width="14.5" height="13.5" fill="#1A6DB6"/>
<rect x="1421.05" y="184.85" width="14.5" height="5.6" fill="#F9B9C9"/>
<text x="137.2" y="188.3" font-size="11" text-anchor="end">23%</text>
<text x="1799.4" y="190" font-size="11">CDKN2A</text>
<rect x="1899.2" y="185.2" width="53.26" height="9.5" fill="#1A6DB6"/>
<rect x="1952.46" y="185.2" width="2.66" height="9.5" fill="#F9B9C9"/>
<rect x="1955.12" y="185.2" width="2.66" height="9.5" fill="#AED136"/>
<rect x="1957.69" y="185.2" width="0.7" height="9.5" fill="#A89A4A"/>
<rect x="189.54" y="196.9" width="14.5" height="13.5" fill="#1A6DB6"/>
<rect x="206.41" y="196.9" width="14.5" height="13.5" fill="#1A6DB6"/>
<rect x="257.02" y="196.9" width="14.5" height="13.5" fill="#1A6DB6"/>
<rect x="358.24" y="196.9" width="14.5" height="13.5" fill="#1A6DB6"/>
<rect x="375.11" y="196.9" width="14.5" height="13.5" fill="#1A6DB6"/>
<rect x="796.86" y="196.9" width="14.5" height="13.5" fill="#1A6DB6"/>
<rect x="813.73" y="196.9" width="14.5" height="13.5" fill="#1A6DB6"/>
<rect x="864.34" y="196.9" width="14.5" height="13.5" fill="#1A6DB6"/>
<rect x="881.21" y="196.9" width="14.5" height="13.5" fill="#1A6DB6"/>
<rect x="898.08" y="196.9" width="14.5" height="13.5" fill="#1A6DB6"/>
<rect x="914.95" y="196.9" width="14.5" height="13.5" fill="#1A6DB6"/>
<rect x="931.82" y="196.9" width="14.5" height="13.5" fill="#1A6DB6"/>
<rect x="948.69" y="196.9" width="14.5" height="13.5" fill="#1A6DB6"/>
<rect x="965.56" y="196.9" width="14.5" height="13.5" fill="#1A6DB6"/>
<rect x="982.43" y="196.9" width="14.5" height="13.5" fill="#1A6DB6"/>
<rect x="1117.39" y="196.9" width="14.5" height="13.5" fill="#1A6DB6"/>
<rect x="1353.57" y="196.9" width="14.5" height="13.5" fill="#1A6DB6"/>
<rect x="1370.44" y="196.9" width="14.5" height="13.5" fill="#1A6DB6"/>
<rect x="1387.31" y="196.9" width="14.5" height="13.5" fill="#1A6DB6"/>
<rect x="1404.18" y="196.9" width="14.5" height="13.5" fill="#1A6DB6"/>
<text x="137.2" y="204.3" font-size="11" text-anchor="end">21%</text>
<text x="1799.4" y="206" font-size="11">CDKN2B</text>
<rect x="1899.2" y="201.2" width="53.26" height="9.5" fill="#1A6DB6"/>
<rect x="1952.36" y="201.2" width="0.7" height="9.5" fill="#A89A4A"/>
<rect x="273.89" y="216.85" width="14.5" height="5.6" fill="#FAD507"/>
<rect x="391.98" y="216.85" width="14.5" height="5.6" fill="#FAD507"/>
<rect x="408.85" y="216.85" width="14.5" height="5.6" fill="#9D4F9F"/>
<rect x="425.72" y="216.85" width="14.5" height="5.6" fill="#FAD507"/>
<rect x="442.59" y="216.85" width="14.5" height="5.6" fill="#FAD507"/>
<rect x="459.46" y="216.85" width="14.5" height="5.6" fill="#9D4F9F"/>
<rect x="476.33" y="216.85" width="14.5" height="5.6" fill="#FAD507"/>
<rect x="796.86" y="216.85" width="14.5" height="5.6" fill="#F9B9C9"/>
<rect x="999.3" y="216.85" width="14.5" height="5.6" fill="#FAD507"/>
<rect x="1134.26" y="216.85" width="14.5" height="5.6" fill="#9D4F9F"/>
<rect x="1151.13" y="216.85" width="14.5" height="5.6" fill="#FAD507"/>
<rect x="1437.92" y="216.85" width="14.5" height="5.6" fill="#FAD507"/>
<rect x="1454.79" y="216.85" width="14.5" height="5.6" fill="#9D4F9F"/>
<rect x="1471.66" y="216.85" width="14.5" height="5.6" fill="#F9B9C9"/>
<rect x="1488.53" y="216.85" width="14.5" height="5.6" fill="#FAD507"/>
<rect x="1505.4" y="216.85" width="14.5" height="5.6" fill="#FAD507"/>
<text x="137.2" y="220.3" font-size="11" text-anchor="end">19%</text>
<text x="1799.4" y="222" font-size="11">ARID1A</text>
<rect x="1899.2" y="217.2" width="10.65" height="9.5" fill="#9D4F9F"/>
<rect x="1909.85" y="217.2" width="5.33" height="9.5" fill="#F9B9C9"/>
<rect x="1915.18" y="217.2" width="26.63" height="9.5" fill="#FAD507"/>
<rect x="1941.71" y="217.2" width="0.7" height="9.5" fill="#A89A4A"/>
<rect x="273.89" y="232.85" width="14.5" height="5.6" fill="#FAD507"/>
<rect x="290.76" y="232.85" width="14.5" height="5.6" fill="#FAD507"/>
<rect x="358.24" y="228.9" width="14.5" height="13.5" fill="#1A6DB6"/>
<rect x="391.98" y="232.85" width="14.5" height="5.6" fill="#9D4F9F"/>
<rect x="408.85" y="232.85" width="14.5" height="5.6" fill="#9D4F9F"/>
<rect x="493.2" y="232.85" width="14.5" height="5.6" fill="#FAD507"/>
<rect x="510.07" y="232.85" width="14.5" height="5.6" fill="#FAD507"/>
<rect x="526.94" y="232.85" width="14.5" height="5.6" fill="#FAD507"/>
<rect x="543.81" y="232.85" width="14.5" height="5.6" fill="#231F20"/>
<rect x="560.68" y="232.85" width="14.5" height="5.6" fill="#FAD507"/>
<rect x="577.55" y="232.85" width="14.5" height="5.6" fill="#9D4F9F"/>
<rect x="594.42" y="232.85" width="14.5" height="5.6" fill="#FAD507"/>
<rect x="611.29" y="232.85" width="14.5" height="5.6" fill="#F9B9C9"/>
<rect x="864.34" y="228.9" width="14.5" height="13.5" fill="#1A6DB6"/>
<rect x="1117.39" y="228.9" width="14.5" height="13.5" fill="#1A6DB6"/>
<rect x="1168" y="232.85" width="14.5" height="5.6" fill="#FAD507"/>
<rect x="1522.27" y="232.85" width="14.5" height="5.6" fill="#FAD507"/>
<text x="137.2" y="236.3" font-size="11" text-anchor="end">18%</text>
<text x="1799.4" y="238" font-size="11">RB1</text>
<rect x="1899.2" y="233.2" width="7.99" height="9.5" fill="#1A6DB6"/>
<rect x="1907.19" y="233.2" width="7.99" height="9.5" fill="#9D4F9F"/>
<rect x="1915.18" y="233.2" width="2.66" height="9.5" fill="#F9B9C9"/>
<rect x="1917.84" y="233.2" width="23.97" height="9.5" fill="#FAD507"/>
<rect x="1941.81" y="233.2" width="2.66" height="9.5" fill="#231F20"/>
<rect x="1944.37" y="233.2" width="0.7" height="9.5" fill="#A89A4A"/>
<rect x="223.28" y="248.85" width="14.5" height="5.6" fill="#9D4F9F"/>
<rect x="257.02" y="248.85" width="14.5" height="5.6" fill="#F9B9C9"/>
<rect x="493.2" y="244.9" width="14.5" height="13.5" fill="#1A6DB6"/>
<rect x="628.16" y="248.85" width="14.5" height="5.6" fill="#9D4F9F"/>
<rect x="645.03" y="248.85" width="14.5" height="5.6" fill="#9D4F9F"/>
<rect x="881.21" y="248.85" width="14.5" height="5.6" fill="#9D4F9F"/>
<rect x="898.08" y="248.85" width="14.5" height="5.6" fill="#9D4F9F"/>
<rect x="914.95" y="248.85" width="14.5" height="5.6" fill="#FAD507"/>
<rect x="999.3" y="248.85" width="14.5" height="5.6" fill="#FAD507"/>
<rect x="1033.04" y="248.85" width="14.5" height="5.6" fill="#FAD507"/>
<rect x="1049.91" y="248.85" width="14.5" height="5.6" fill="#9D4F9F"/>
<rect x="1066.78" y="248.85" width="14.5" height="5.6" fill="#FAD507"/>
<rect x="1353.57" y="248.85" width="14.5" height="5.6" fill="#9D4F9F"/>
<rect x="1437.92" y="248.85" width="14.5" height="5.6" fill="#FAD507"/>
<rect x="1454.79" y="248.85" width="14.5" height="5.6" fill="#9D4F9F"/>
<rect x="1539.14" y="244.9" width="14.5" height="13.5" fill="#1A6DB6"/>
<text x="137.2" y="252.3" font-size="11" text-anchor="end">16%</text>
<text x="1799.4" y="254" font-size="11">KDM6A</text>
<rect x="1899.2" y="249.2" width="5.33" height="9.5" fill="#1A6DB6"/>
<rect x="1904.53" y="249.2" width="21.3" height="9.5" fill="#9D4F9F"/>
<rect x="1925.83" y="249.2" width="2.66" height="9.5" fill="#F9B9C9"/>
<rect x="1928.49" y="249.2" width="13.31" height="9.5" fill="#FAD507"/>
<rect x="1941.71" y="249.2" width="0.7" height="9.5" fill="#A89A4A"/>
<rect x="273.89" y="264.85" width="14.5" height="5.6" fill="#FAD507"/>
<rect x="661.9" y="264.85" width="14.5" height="5.6" fill="#FAD507"/>
<rect x="830.6" y="264.85" width="14.5" height="5.6" fill="#FAD507"/>
<rect x="847.47" y="264.85" width="14.5" height="5.6" fill="#9D4F9F"/>
<rect x="881.21" y="264.85" width="14.5" height="5.6" fill="#FAD507"/>
<rect x="898.08" y="264.85" width="14.5" height="5.6" fill="#F9B9C9"/>
<rect x="1252.35" y="264.85" width="14.5" height="5.6" fill="#9D4F9F"/>
<rect x="1269.22" y="264.85" width="14.5" height="5.6" fill="#FAD507"/>
<text x="137.2" y="268.3" font-size="11" text-anchor="end">8%</text>
<text x="1799.4" y="270" font-size="11">KMT2C</text>
<rect x="1899.2" y="265.2" width="5.33" height="9.5" fill="#9D4F9F"/>
<rect x="1904.53" y="265.2" width="2.66" height="9.5" fill="#F9B9C9"/>
<rect x="1907.19" y="265.2" width="13.31" height="9.5" fill="#FAD507"/>
<rect x="1920.4" y="265.2" width="0.7" height="9.5" fill="#A89A4A"/>
<rect x="155.8" y="280.85" width="14.5" height="5.6" fill="#9D4F9F"/>
<rect x="257.02" y="280.85" width="14.5" height="5.6" fill="#9D4F9F"/>
<rect x="712.51" y="280.85" width="14.5" height="5.6" fill="#9D4F9F"/>
<rect x="1151.13" y="280.85" width="14.5" height="5.6" fill="#FAD507"/>
<rect x="1201.74" y="280.85" width="14.5" height="5.6" fill="#F9B9C9"/>
<rect x="1522.27" y="280.85" width="14.5" height="5.6" fill="#FAD507"/>
<text x="137.2" y="284.3" font-size="11" text-anchor="end">7%</text>
<text x="1799.4" y="286" font-size="11">CREBBP</text>
<rect x="1899.2" y="281.2" width="7.99" height="9.5" fill="#9D4F9F"/>
<rect x="1907.19" y="281.2" width="2.66" height="9.5" fill="#F9B9C9"/>
<rect x="1909.85" y="281.2" width="5.33" height="9.5" fill="#FAD507"/>
<rect x="1915.08" y="281.2" width="0.7" height="9.5" fill="#A89A4A"/>
<rect x="223.28" y="296.85" width="14.5" height="5.6" fill="#F9B9C9"/>
<rect x="273.89" y="296.85" width="14.5" height="5.6" fill="#FAD507"/>
<rect x="813.73" y="296.85" width="14.5" height="5.6" fill="#9D4F9F"/>
<rect x="1033.04" y="296.85" width="14.5" height="5.6" fill="#FAD507"/>
<rect x="1505.4" y="296.85" width="14.5" height="5.6" fill="#FAD507"/>
<rect x="1539.14" y="292.9" width="14.5" height="13.5" fill="#1A6DB6"/>
<rect x="1539.14" y="296.85" width="14.5" height="5.6" fill="#FAD507"/>
<rect x="1623.49" y="296.85" width="14.5" height="5.6" fill="#9D4F9F"/>
<text x="137.2" y="300.3" font-size="11" text-anchor="end">7%</text>
<text x="1799.4" y="302" font-size="11">RBM10</text>
<rect x="1899.2" y="297.2" width="2.66" height="9.5" fill="#1A6DB6"/>
<rect x="1901.86" y="297.2" width="5.33" height="9.5" fill="#9D4F9F"/>
<rect x="1907.19" y="297.2" width="2.66" height="9.5" fill="#F9B9C9"/>
<rect x="1909.85" y="297.2" width="10.65" height="9.5" fill="#FAD507"/>
<rect x="1920.4" y="297.2" width="0.7" height="9.5" fill="#A89A4A"/>
<rect x="459.46" y="312.85" width="14.5" height="5.6" fill="#9D4F9F"/>
<rect x="914.95" y="312.85" width="14.5" height="5.6" fill="#FAD507"/>
<rect x="931.82" y="312.85" width="14.5" height="5.6" fill="#9D4F9F"/>
<rect x="1083.65" y="312.85" width="14.5" height="5.6" fill="#FAD507"/>
<rect x="1100.52" y="312.85" width="14.5" height="5.6" fill="#FAD507"/>
<rect x="1184.87" y="312.85" width="14.5" height="5.6" fill="#9D4F9F"/>
<rect x="1302.96" y="312.85" width="14.5" height="5.6" fill="#FAD507"/>
<text x="137.2" y="316.3" font-size="11" text-anchor="end">7%</text>
<text x="1799.4" y="318" font-size="11">TSC1</text>
<rect x="1899.2" y="313.2" width="7.99" height="9.5" fill="#9D4F9F"/>
<rect x="1907.19" y="313.2" width="10.65" height="9.5" fill="#FAD507"/>
<rect x="1917.74" y="313.2" width="0.7" height="9.5" fill="#A89A4A"/>
<rect x="391.98" y="328.85" width="14.5" height="5.6" fill="#FAD507"/>
<rect x="898.08" y="328.85" width="14.5" height="5.6" fill="#F9B9C9"/>
<rect x="1151.13" y="328.85" width="14.5" height="5.6" fill="#FAD507"/>
<rect x="1488.53" y="328.85" width="14.5" height="5.6" fill="#FAD507"/>
<rect x="1539.14" y="328.85" width="14.5" height="5.6" fill="#231F20"/>
<rect x="1674.1" y="328.85" width="14.5" height="5.6" fill="#FAD507"/>
<text x="137.2" y="332.3" font-size="11" text-anchor="end">6%</text>
<text x="1799.4" y="334" font-size="11">ARID2</text>
<rect x="1899.2" y="329.2" width="2.66" height="9.5" fill="#F9B9C9"/>
<rect x="1901.86" y="329.2" width="10.65" height="9.5" fill="#FAD507"/>
<rect x="1912.52" y="329.2" width="2.66" height="9.5" fill="#231F20"/>
<rect x="1915.08" y="329.2" width="0.7" height="9.5" fill="#A89A4A"/>
<rect x="391.98" y="344.85" width="14.5" height="5.6" fill="#9D4F9F"/>
<rect x="425.72" y="344.85" width="14.5" height="5.6" fill="#9D4F9F"/>
<rect x="864.34" y="344.85" width="14.5" height="5.6" fill="#9D4F9F"/>
<rect x="1168" y="344.85" width="14.5" height="5.6" fill="#9D4F9F"/>
<rect x="1556.01" y="344.85" width="14.5" height="5.6" fill="#9D4F9F"/>
<rect x="1690.97" y="344.85" width="14.5" height="5.6" fill="#9D4F9F"/>
<text x="137.2" y="348.3" font-size="11" text-anchor="end">6%</text>
<text x="1799.4" y="350" font-size="11">CDKN1A</text>
<rect x="1899.2" y="345.2" width="15.98" height="9.5" fill="#9D4F9F"/>
<rect x="1915.08" y="345.2" width="0.7" height="9.5" fill="#A89A4A"/>
<rect x="223.28" y="360.85" width="14.5" height="5.6" fill="#FAD507"/>
<rect x="543.81" y="360.85" width="14.5" height="5.6" fill="#F9B9C9"/>
<rect x="729.38" y="360.85" width="14.5" height="5.6" fill="#FAD507"/>
<rect x="796.86" y="360.85" width="14.5" height="5.6" fill="#FAD507"/>
<rect x="1674.1" y="360.85" width="14.5" height="5.6" fill="#F9B9C9"/>
<rect x="1707.84" y="360.85" width="14.5" height="5.6" fill="#AED136"/>
<text x="137.2" y="364.3" font-size="11" text-anchor="end">6%</text>
<text x="1799.4" y="366" font-size="11">EP300</text>
<rect x="1899.2" y="361.2" width="5.33" height="9.5" fill="#F9B9C9"/>
<rect x="1904.53" y="361.2" width="2.66" height="9.5" fill="#AED136"/>
<rect x="1907.19" y="361.2" width="7.99" height="9.5" fill="#FAD507"/>
<rect x="1915.08" y="361.2" width="0.7" height="9.5" fill="#A89A4A"/>
<rect x="645.03" y="376.85" width="14.5" height="5.6" fill="#FAD507"/>
<rect x="931.82" y="376.85" width="14.5" height="5.6" fill="#FAD507"/>
<rect x="1016.17" y="376.85" width="14.5" height="5.6" fill="#9D4F9F"/>
<rect x="1471.66" y="376.85" width="14.5" height="5.6" fill="#FAD507"/>
<rect x="1657.23" y="376.85" width="14.5" height="5.6" fill="#FAD507"/>
<text x="137.2" y="380.3" font-size="11" text-anchor="end">5%</text>
<text x="1799.4" y="382" font-size="11">FAT1</text>
<rect x="1899.2" y="377.2" width="2.66" height="9.5" fill="#9D4F9F"/>
<rect x="1901.86" y="377.2" width="10.65" height="9.5" fill="#FAD507"/>
<rect x="1912.42" y="377.2" width="0.7" height="9.5" fill="#A89A4A"/>
<rect x="155.8" y="392.85" width="14.5" height="5.6" fill="#FAD507"/>
<rect x="796.86" y="392.85" width="14.5" height="5.6" fill="#9D4F9F"/>
<rect x="931.82" y="388.9" width="14.5" height="13.5" fill="#1A6DB6"/>
<rect x="1049.91" y="392.85" width="14.5" height="5.6" fill="#9D4F9F"/>
<rect x="1539.14" y="388.9" width="14.5" height="13.5" fill="#1A6DB6"/>
<text x="137.2" y="396.3" font-size="11" text-anchor="end">5%</text>
<text x="1799.4" y="398" font-size="11">STAG2</text>
<rect x="1899.2" y="393.2" width="5.33" height="9.5" fill="#1A6DB6"/>
<rect x="1904.53" y="393.2" width="5.33" height="9.5" fill="#9D4F9F"/>
<rect x="1909.85" y="393.2" width="2.66" height="9.5" fill="#FAD507"/>
<rect x="1912.42" y="393.2" width="0.7" height="9.5" fill="#A89A4A"/>
<rect x="324.5" y="408.85" width="14.5" height="5.6" fill="#9D4F9F"/>
<rect x="358.24" y="404.9" width="14.5" height="13.5" fill="#1A6DB6"/>
<rect x="645.03" y="408.85" width="14.5" height="5.6" fill="#9D4F9F"/>
<rect x="1117.39" y="404.9" width="14.5" height="13.5" fill="#1A6DB6"/>
<text x="137.2" y="412.3" font-size="11" text-anchor="end">4%</text>
<text x="1799.4" y="414" font-size="11">BRCA2</text>
<rect x="1899.2" y="409.2" width="5.33" height="9.5" fill="#1A6DB6"/>
<rect x="1904.53" y="409.2" width="5.33" height="9.5" fill="#9D4F9F"/>
<rect x="1909.75" y="409.2" width="0.7" height="9.5" fill="#A89A4A"/>
<rect x="189.54" y="420.9" width="14.5" height="13.5" fill="#1A6DB6"/>
<rect x="223.28" y="424.85" width="14.5" height="5.6" fill="#FAD507"/>
<rect x="408.85" y="424.85" width="14.5" height="5.6" fill="#9D4F9F"/>
<rect x="796.86" y="424.85" width="14.5" height="5.6" fill="#FAD507"/>
<text x="137.2" y="428.3" font-size="11" text-anchor="end">4%</text>
<text x="1799.4" y="430" font-size="11">KMT2A</text>
<rect x="1899.2" y="425.2" width="2.66" height="9.5" fill="#1A6DB6"/>
<rect x="1901.86" y="425.2" width="2.66" height="9.5" fill="#9D4F9F"/>
<rect x="1904.53" y="425.2" width="5.33" height="9.5" fill="#FAD507"/>
<rect x="1909.75" y="425.2" width="0.7" height="9.5" fill="#A89A4A"/>
<rect x="189.54" y="436.9" width="14.5" height="13.5" fill="#1A6DB6"/>
<rect x="358.24" y="436.9" width="14.5" height="13.5" fill="#1A6DB6"/>
<rect x="1218.61" y="440.85" width="14.5" height="5.6" fill="#FAD507"/>
<text x="137.2" y="444.3" font-size="11" text-anchor="end">4%</text>
<text x="1799.4" y="446" font-size="11">PIK3R1</text>
<rect x="1899.2" y="441.2" width="5.33" height="9.5" fill="#1A6DB6"/>
<rect x="1904.53" y="441.2" width="2.66" height="9.5" fill="#FAD507"/>
<rect x="1907.09" y="441.2" width="0.7" height="9.5" fill="#A89A4A"/>
<rect x="189.54" y="452.9" width="14.5" height="13.5" fill="#1A6DB6"/>
<rect x="358.24" y="452.9" width="14.5" height="13.5" fill="#1A6DB6"/>
<rect x="796.86" y="456.85" width="14.5" height="5.6" fill="#FAD507"/>
<text x="137.2" y="460.3" font-size="11" text-anchor="end">4%</text>
<text x="1799.4" y="462" font-size="11">RAD50</text>
<rect x="1899.2" y="457.2" width="5.33" height="9.5" fill="#1A6DB6"/>
<rect x="1904.53" y="457.2" width="2.66" height="9.5" fill="#FAD507"/>
<rect x="1907.09" y="457.2" width="0.7" height="9.5" fill="#A89A4A"/>
<rect x="189.54" y="468.9" width="14.5" height="13.5" fill="#1A6DB6"/>
<rect x="712.51" y="472.85" width="14.5" height="5.6" fill="#9D4F9F"/>
<rect x="999.3" y="472.85" width="14.5" height="5.6" fill="#9D4F9F"/>
<text x="137.2" y="476.3" font-size="11" text-anchor="end">3%</text>
<text x="1799.4" y="478" font-size="11">ATM</text>
<rect x="1899.2" y="473.2" width="2.66" height="9.5" fill="#1A6DB6"/>
<rect x="1901.86" y="473.2" width="5.33" height="9.5" fill="#9D4F9F"/>
<rect x="1907.09" y="473.2" width="0.7" height="9.5" fill="#A89A4A"/>
<rect x="813.73" y="488.85" width="14.5" height="5.6" fill="#9D4F9F"/>
<rect x="1134.26" y="488.85" width="14.5" height="5.6" fill="#9D4F9F"/>
<rect x="1252.35" y="488.85" width="14.5" height="5.6" fill="#FAD507"/>
<text x="137.2" y="492.3" font-size="11" text-anchor="end">3%</text>
<text x="1799.4" y="494" font-size="11">FBXW7</text>
<rect x="1899.2" y="489.2" width="5.33" height="9.5" fill="#9D4F9F"/>
<rect x="1904.53" y="489.2" width="2.66" height="9.5" fill="#FAD507"/>
<rect x="1907.09" y="489.2" width="0.7" height="9.5" fill="#A89A4A"/>
<rect x="442.59" y="504.85" width="14.5" height="5.6" fill="#FAD507"/>
<rect x="796.86" y="504.85" width="14.5" height="5.6" fill="#FAD507"/>
<rect x="813.73" y="500.9" width="14.5" height="13.5" fill="#1A6DB6"/>
<text x="137.2" y="508.3" font-size="11" text-anchor="end">3%</text>
<text x="1799.4" y="510" font-size="11">LRP1B</text>
<rect x="1899.2" y="505.2" width="2.66" height="9.5" fill="#1A6DB6"/>
<rect x="1901.86" y="505.2" width="5.33" height="9.5" fill="#FAD507"/>
<rect x="1907.09" y="505.2" width="0.7" height="9.5" fill="#A89A4A"/>
<rect x="358.24" y="516.9" width="14.5" height="13.5" fill="#1A6DB6"/>
<rect x="1370.44" y="516.9" width="14.5" height="13.5" fill="#1A6DB6"/>
<text x="137.2" y="524.3" font-size="11" text-anchor="end">2%</text>
<text x="1799.4" y="526" font-size="11">TGFBR2</text>
<rect x="1899.2" y="521.2" width="5.33" height="9.5" fill="#1A6DB6"/>
<rect x="1904.43" y="521.2" width="0.7" height="9.5" fill="#A89A4A"/>
<rect x="712.51" y="532.9" width="14.5" height="13.5" fill="#1A6DB6"/>
<text x="137.2" y="540.3" font-size="11" text-anchor="end">1%</text>
<text x="1799.4" y="542" font-size="11">EPHA5</text>
<rect x="1899.2" y="537.2" width="2.66" height="9.5" fill="#1A6DB6"/>
<rect x="1901.76" y="537.2" width="0.7" height="9.5" fill="#A89A4A"/>
<rect x="510.07" y="552.85" width="14.5" height="5.6" fill="#FAD507"/>
<text x="137.2" y="556.3" font-size="11" text-anchor="end">1%</text>
<text x="1799.4" y="558" font-size="11">ERCC2</text>
<rect x="1899.2" y="553.2" width="2.66" height="9.5" fill="#FAD507"/>
<rect x="1901.76" y="553.2" width="0.7" height="9.5" fill="#A89A4A"/>
<rect x="796.86" y="568.85" width="14.5" height="5.6" fill="#FAD507"/>
<text x="137.2" y="572.3" font-size="11" text-anchor="end">1%</text>
<text x="1799.4" y="574" font-size="11">FAT4</text>
<rect x="1899.2" y="569.2" width="2.66" height="9.5" fill="#FAD507"/>
<rect x="1901.76" y="569.2" width="0.7" height="9.5" fill="#A89A4A"/>
<path d="M257.12 213L271.42 226.3M271.42 213L257.12 226.3" stroke="#231F20" stroke-width="2.8" stroke-linecap="round" fill="none"/>
<path d="M1016.27 213L1030.57 226.3M1030.57 213L1016.27 226.3" stroke="#231F20" stroke-width="2.8" stroke-linecap="round" fill="none"/>
<path d="M1184.97 277L1199.27 290.3M1199.27 277L1184.97 290.3" stroke="#231F20" stroke-width="2.8" stroke-linecap="round" fill="none"/>
<path d="M257.12 437L271.42 450.3M271.42 437L257.12 450.3" stroke="#231F20" stroke-width="2.8" stroke-linecap="round" fill="none"/>
<path d="M442.69 453L456.99 466.3M456.99 453L442.69 466.3" stroke="#231F20" stroke-width="2.8" stroke-linecap="round" fill="none"/>
<rect x="155.8" y="585.8" width="1634.02" height="333.5" fill="#CBCCCE"/>
<path d="M171.49 584.8v335.5M188.36 584.8v335.5M205.23 584.8v335.5M222.1 584.8v335.5M238.97 584.8v335.5M255.84 584.8v335.5M272.71 584.8v335.5M289.58 584.8v335.5M306.45 584.8v335.5M323.32 584.8v335.5M340.19 584.8v335.5M357.06 584.8v335.5M373.93 584.8v335.5M390.8 584.8v335.5M407.67 584.8v335.5M424.54 584.8v335.5M441.41 584.8v335.5M458.28 584.8v335.5M475.15 584.8v335.5M492.02 584.8v335.5M508.89 584.8v335.5M525.76 584.8v335.5M542.62 584.8v335.5M559.5 584.8v335.5M576.37 584.8v335.5M593.24 584.8v335.5M610.11 584.8v335.5M626.98 584.8v335.5M643.85 584.8v335.5M660.72 584.8v335.5M677.59 584.8v335.5M694.46 584.8v335.5M711.33 584.8v335.5M728.2 584.8v335.5M745.07 584.8v335.5M761.94 584.8v335.5M778.81 584.8v335.5M795.68 584.8v335.5M812.55 584.8v335.5M829.42 584.8v335.5M846.29 584.8v335.5M863.16 584.8v335.5M880.03 584.8v335.5M896.9 584.8v335.5M913.77 584.8v335.5M930.64 584.8v335.5M947.51 584.8v335.5M964.38 584.8v335.5M981.25 584.8v335.5M998.12 584.8v335.5M1014.99 584.8v335.5M1031.86 584.8v335.5M1048.72 584.8v335.5M1065.6 584.8v335.5M1082.47 584.8v335.5M1099.34 584.8v335.5M1116.2 584.8v335.5M1133.08 584.8v335.5M1149.95 584.8v335.5M1166.82 584.8v335.5M1183.68 584.8v335.5M1200.56 584.8v335.5M1217.43 584.8v335.5M1234.3 584.8v335.5M1251.16 584.8v335.5M1268.03 584.8v335.5M1284.91 584.8v335.5M1301.78 584.8v335.5M1318.64 584.8v335.5M1335.51 584.8v335.5M1352.39 584.8v335.5M1369.26 584.8v335.5M1386.12 584.8v335.5M1402.99 584.8v335.5M1419.87 584.8v335.5M1436.74 584.8v335.5M1453.61 584.8v335.5M1470.47 584.8v335.5M1487.35 584.8v335.5M1504.22 584.8v335.5M1521.09 584.8v335.5M1537.95 584.8v335.5M1554.83 584.8v335.5M1571.7 584.8v335.5M1588.57 584.8v335.5M1605.43 584.8v335.5M1622.31 584.8v335.5M1639.18 584.8v335.5M1656.05 584.8v335.5M1672.91 584.8v335.5M1689.79 584.8v335.5M1706.66 584.8v335.5M1723.53 584.8v335.5M1740.39 584.8v335.5M1757.27 584.8v335.5M1774.14 584.8v335.5" stroke="#fff" stroke-width="2.37" fill="none"/>
<path d="M154.8 600.55h1636.02M154.8 616.55h1636.02M154.8 632.55h1636.02M154.8 648.55h1636.02M154.8 664.55h1636.02M154.8 680.55h1636.02M154.8 696.55h1636.02M154.8 712.55h1636.02M154.8 728.55h1636.02M154.8 744.55h1636.02M154.8 760.55h1636.02M154.8 776.55h1636.02M154.8 792.55h1636.02M154.8 808.55h1636.02M154.8 824.55h1636.02M154.8 840.55h1636.02M154.8 856.55h1636.02M154.8 872.55h1636.02M154.8 888.55h1636.02M154.8 904.55h1636.02" stroke="#fff" stroke-width="2.5" fill="none"/>
<rect x="155.8" y="589.75" width="14.5" height="5.6" fill="#8AB83E"/>
<rect x="189.54" y="589.75" width="14.5" height="5.6" fill="#8AB83E"/>
<rect x="206.41" y="589.75" width="14.5" height="5.6" fill="#8AB83E"/>
<rect x="223.28" y="589.75" width="14.5" height="5.6" fill="#8AB83E"/>
<rect x="240.15" y="589.75" width="14.5" height="5.6" fill="#8AB83E"/>
<rect x="459.46" y="585.8" width="14.5" height="13.5" fill="#ED1C24"/>
<rect x="459.46" y="589.75" width="14.5" height="5.6" fill="#8AB83E"/>
<rect x="796.86" y="589.75" width="14.5" height="5.6" fill="#8AB83E"/>
<rect x="813.73" y="589.75" width="14.5" height="5.6" fill="#8AB83E"/>
<rect x="830.6" y="589.75" width="14.5" height="5.6" fill="#8AB83E"/>
<rect x="847.47" y="589.75" width="14.5" height="5.6" fill="#8AB83E"/>
<rect x="881.21" y="589.75" width="14.5" height="5.6" fill="#8AB83E"/>
<rect x="898.08" y="589.75" width="14.5" height="5.6" fill="#8AB83E"/>
<rect x="948.69" y="589.75" width="14.5" height="5.6" fill="#8AB83E"/>
<rect x="965.56" y="589.75" width="14.5" height="5.6" fill="#8AB83E"/>
<rect x="982.43" y="589.75" width="14.5" height="5.6" fill="#8AB83E"/>
<rect x="999.3" y="589.75" width="14.5" height="5.6" fill="#8AB83E"/>
<rect x="1016.17" y="589.75" width="14.5" height="5.6" fill="#8AB83E"/>
<rect x="1033.04" y="589.75" width="14.5" height="5.6" fill="#8AB83E"/>
<rect x="1049.91" y="589.75" width="14.5" height="5.6" fill="#8AB83E"/>
<rect x="1066.78" y="589.75" width="14.5" height="5.6" fill="#8AB83E"/>
<rect x="1083.65" y="589.75" width="14.5" height="5.6" fill="#8AB83E"/>
<rect x="1100.52" y="589.75" width="14.5" height="5.6" fill="#8AB83E"/>
<text x="137.2" y="593.2" font-size="11" text-anchor="end">27%</text>
<text x="1799.4" y="594.9" font-size="11">FGFR3</text>
<rect x="1899.2" y="590.1" width="2.66" height="9.5" fill="#ED1C24"/>
<rect x="1901.86" y="590.1" width="58.59" height="9.5" fill="#8AB83E"/>
<rect x="1960.35" y="590.1" width="0.7" height="9.5" fill="#A89A4A"/>
<rect x="257.02" y="601.8" width="14.5" height="13.5" fill="#ED1C24"/>
<rect x="307.63" y="601.8" width="14.5" height="13.5" fill="#ED1C24"/>
<rect x="375.11" y="601.8" width="14.5" height="13.5" fill="#ED1C24"/>
<rect x="661.9" y="601.8" width="14.5" height="13.5" fill="#ED1C24"/>
<rect x="678.77" y="601.8" width="14.5" height="13.5" fill="#ED1C24"/>
<rect x="881.21" y="601.8" width="14.5" height="13.5" fill="#ED1C24"/>
<rect x="1117.39" y="601.8" width="14.5" height="13.5" fill="#ED1C24"/>
<rect x="1134.26" y="601.8" width="14.5" height="13.5" fill="#ED1C24"/>
<rect x="1184.87" y="601.8" width="14.5" height="13.5" fill="#ED1C24"/>
<rect x="1353.57" y="601.8" width="14.5" height="13.5" fill="#ED1C24"/>
<rect x="1471.66" y="601.8" width="14.5" height="13.5" fill="#ED1C24"/>
<rect x="1556.01" y="601.8" width="14.5" height="13.5" fill="#ED1C24"/>
<rect x="1572.88" y="601.8" width="14.5" height="13.5" fill="#ED1C24"/>
<rect x="1589.75" y="601.8" width="14.5" height="13.5" fill="#ED1C24"/>
<text x="137.2" y="609.2" font-size="11" text-anchor="end">14%</text>
<text x="1799.4" y="610.9" font-size="11">CCND1</text>
<rect x="1899.2" y="606.1" width="37.28" height="9.5" fill="#ED1C24"/>
<rect x="1936.38" y="606.1" width="0.7" height="9.5" fill="#A89A4A"/>
<rect x="223.28" y="621.75" width="14.5" height="5.6" fill="#8AB83E"/>
<rect x="257.02" y="621.75" width="14.5" height="5.6" fill="#8AB83E"/>
<rect x="375.11" y="621.75" width="14.5" height="5.6" fill="#8AB83E"/>
<rect x="391.98" y="621.75" width="14.5" height="5.6" fill="#8AB83E"/>
<rect x="510.07" y="621.75" width="14.5" height="5.6" fill="#8AB83E"/>
<rect x="526.94" y="621.75" width="14.5" height="5.6" fill="#8AB83E"/>
<rect x="813.73" y="621.75" width="14.5" height="5.6" fill="#8AB83E"/>
<rect x="881.21" y="621.75" width="14.5" height="5.6" fill="#8AB83E"/>
<rect x="1201.74" y="617.8" width="14.5" height="13.5" fill="#ED1C24"/>
<rect x="1218.61" y="621.75" width="14.5" height="5.6" fill="#8AB83E"/>
<rect x="1437.92" y="621.75" width="14.5" height="5.6" fill="#8AB83E"/>
<rect x="1539.14" y="621.75" width="14.5" height="5.6" fill="#8AB83E"/>
<rect x="1606.62" y="621.75" width="14.5" height="5.6" fill="#8AB83E"/>
<rect x="1623.49" y="621.75" width="14.5" height="5.6" fill="#8AB83E"/>
<text x="137.2" y="625.2" font-size="11" text-anchor="end">14%</text>
<text x="1799.4" y="626.9" font-size="11">PIK3CA</text>
<rect x="1899.2" y="622.1" width="2.66" height="9.5" fill="#ED1C24"/>
<rect x="1901.86" y="622.1" width="34.62" height="9.5" fill="#8AB83E"/>
<rect x="1936.38" y="622.1" width="0.7" height="9.5" fill="#A89A4A"/>
<rect x="358.24" y="637.75" width="14.5" height="5.6" fill="#8AB83E"/>
<rect x="425.72" y="637.75" width="14.5" height="5.6" fill="#8AB83E"/>
<rect x="442.59" y="637.75" width="14.5" height="5.6" fill="#8AB83E"/>
<rect x="543.81" y="637.75" width="14.5" height="5.6" fill="#8AB83E"/>
<rect x="628.16" y="633.8" width="14.5" height="13.5" fill="#ED1C24"/>
<rect x="695.64" y="633.8" width="14.5" height="13.5" fill="#ED1C24"/>
<rect x="931.82" y="637.75" width="14.5" height="5.6" fill="#8AB83E"/>
<rect x="1151.13" y="633.8" width="14.5" height="13.5" fill="#ED1C24"/>
<rect x="1556.01" y="637.75" width="14.5" height="5.6" fill="#8AB83E"/>
<rect x="1606.62" y="637.75" width="14.5" height="5.6" fill="#8AB83E"/>
<rect x="1640.36" y="633.8" width="14.5" height="13.5" fill="#ED1C24"/>
<text x="137.2" y="641.2" font-size="11" text-anchor="end">11%</text>
<text x="1799.4" y="642.9" font-size="11">ERBB2</text>
<rect x="1899.2" y="638.1" width="10.65" height="9.5" fill="#ED1C24"/>
<rect x="1909.85" y="638.1" width="18.64" height="9.5" fill="#8AB83E"/>
<rect x="1928.39" y="638.1" width="0.7" height="9.5" fill="#A89A4A"/>
<rect x="560.68" y="649.8" width="14.5" height="13.5" fill="#ED1C24"/>
<rect x="948.69" y="649.8" width="14.5" height="13.5" fill="#ED1C24"/>
<rect x="965.56" y="649.8" width="14.5" height="13.5" fill="#ED1C24"/>
<rect x="1083.65" y="649.8" width="14.5" height="13.5" fill="#ED1C24"/>
<rect x="1184.87" y="649.8" width="14.5" height="13.5" fill="#ED1C24"/>
<rect x="1370.44" y="649.8" width="14.5" height="13.5" fill="#ED1C24"/>
<rect x="1471.66" y="649.8" width="14.5" height="13.5" fill="#ED1C24"/>
<rect x="1488.53" y="649.8" width="14.5" height="13.5" fill="#ED1C24"/>
<rect x="1572.88" y="649.8" width="14.5" height="13.5" fill="#ED1C24"/>
<rect x="1640.36" y="649.8" width="14.5" height="13.5" fill="#ED1C24"/>
<rect x="1657.23" y="649.8" width="14.5" height="13.5" fill="#ED1C24"/>
<text x="137.2" y="657.2" font-size="11" text-anchor="end">11%</text>
<text x="1799.4" y="658.9" font-size="11">MDM2</text>
<rect x="1899.2" y="654.1" width="29.29" height="9.5" fill="#ED1C24"/>
<rect x="1928.39" y="654.1" width="0.7" height="9.5" fill="#A89A4A"/>
<rect x="290.76" y="665.8" width="14.5" height="13.5" fill="#ED1C24"/>
<rect x="408.85" y="665.8" width="14.5" height="13.5" fill="#ED1C24"/>
<rect x="493.2" y="665.8" width="14.5" height="13.5" fill="#ED1C24"/>
<rect x="510.07" y="665.8" width="14.5" height="13.5" fill="#ED1C24"/>
<rect x="560.68" y="665.8" width="14.5" height="13.5" fill="#ED1C24"/>
<rect x="712.51" y="665.8" width="14.5" height="13.5" fill="#ED1C24"/>
<rect x="1235.48" y="665.8" width="14.5" height="13.5" fill="#ED1C24"/>
<rect x="1589.75" y="665.8" width="14.5" height="13.5" fill="#ED1C24"/>
<text x="137.2" y="673.2" font-size="11" text-anchor="end">8%</text>
<text x="1799.4" y="674.9" font-size="11">E2F3</text>
<rect x="1899.2" y="670.1" width="21.3" height="9.5" fill="#ED1C24"/>
<rect x="1920.4" y="670.1" width="0.7" height="9.5" fill="#A89A4A"/>
<rect x="172.67" y="681.8" width="14.5" height="13.5" fill="#ED1C24"/>
<rect x="358.24" y="681.8" width="14.5" height="13.5" fill="#ED1C24"/>
<rect x="408.85" y="681.8" width="14.5" height="13.5" fill="#ED1C24"/>
<rect x="948.69" y="681.8" width="14.5" height="13.5" fill="#ED1C24"/>
<rect x="1184.87" y="681.8" width="14.5" height="13.5" fill="#ED1C24"/>
<rect x="1201.74" y="681.8" width="14.5" height="13.5" fill="#ED1C24"/>
<rect x="1286.09" y="681.8" width="14.5" height="13.5" fill="#ED1C24"/>
<text x="137.2" y="689.2" font-size="11" text-anchor="end">7%</text>
<text x="1799.4" y="690.9" font-size="11">BCL2L1</text>
<rect x="1899.2" y="686.1" width="18.64" height="9.5" fill="#ED1C24"/>
<rect x="1917.74" y="686.1" width="0.7" height="9.5" fill="#A89A4A"/>
<rect x="257.02" y="697.8" width="14.5" height="13.5" fill="#ED1C24"/>
<rect x="290.76" y="697.8" width="14.5" height="13.5" fill="#ED1C24"/>
<rect x="678.77" y="697.8" width="14.5" height="13.5" fill="#ED1C24"/>
<rect x="1218.61" y="697.8" width="14.5" height="13.5" fill="#ED1C24"/>
<rect x="1235.48" y="697.8" width="14.5" height="13.5" fill="#ED1C24"/>
<rect x="1556.01" y="697.8" width="14.5" height="13.5" fill="#ED1C24"/>
<text x="137.2" y="705.2" font-size="11" text-anchor="end">6%</text>
<text x="1799.4" y="706.9" font-size="11">MCL1</text>
<rect x="1899.2" y="702.1" width="15.98" height="9.5" fill="#ED1C24"/>
<rect x="1915.08" y="702.1" width="0.7" height="9.5" fill="#A89A4A"/>
<rect x="257.02" y="713.8" width="14.5" height="13.5" fill="#ED1C24"/>
<rect x="290.76" y="713.8" width="14.5" height="13.5" fill="#ED1C24"/>
<rect x="678.77" y="713.8" width="14.5" height="13.5" fill="#ED1C24"/>
<rect x="1218.61" y="713.8" width="14.5" height="13.5" fill="#ED1C24"/>
<rect x="1235.48" y="713.8" width="14.5" height="13.5" fill="#ED1C24"/>
<text x="137.2" y="721.2" font-size="11" text-anchor="end">5%</text>
<text x="1799.4" y="722.9" font-size="11">ARNT</text>
<rect x="1899.2" y="718.1" width="13.31" height="9.5" fill="#ED1C24"/>
<rect x="1912.42" y="718.1" width="0.7" height="9.5" fill="#A89A4A"/>
<rect x="290.76" y="729.8" width="14.5" height="13.5" fill="#ED1C24"/>
<rect x="442.59" y="729.8" width="14.5" height="13.5" fill="#ED1C24"/>
<rect x="695.64" y="729.8" width="14.5" height="13.5" fill="#ED1C24"/>
<rect x="1218.61" y="729.8" width="14.5" height="13.5" fill="#ED1C24"/>
<rect x="1286.09" y="729.8" width="14.5" height="13.5" fill="#ED1C24"/>
<text x="137.2" y="737.2" font-size="11" text-anchor="end">5%</text>
<text x="1799.4" y="738.9" font-size="11">CCNE1</text>
<rect x="1899.2" y="734.1" width="13.31" height="9.5" fill="#ED1C24"/>
<rect x="1912.42" y="734.1" width="0.7" height="9.5" fill="#A89A4A"/>
<rect x="999.3" y="745.8" width="14.5" height="13.5" fill="#ED1C24"/>
<rect x="1117.39" y="745.8" width="14.5" height="13.5" fill="#ED1C24"/>
<rect x="1134.26" y="745.8" width="14.5" height="13.5" fill="#ED1C24"/>
<rect x="1201.74" y="745.8" width="14.5" height="13.5" fill="#ED1C24"/>
<rect x="1505.4" y="745.8" width="14.5" height="13.5" fill="#ED1C24"/>
<text x="137.2" y="753.2" font-size="11" text-anchor="end">5%</text>
<text x="1799.4" y="754.9" font-size="11">FGFR1</text>
<rect x="1899.2" y="750.1" width="13.31" height="9.5" fill="#ED1C24"/>
<rect x="1912.42" y="750.1" width="0.7" height="9.5" fill="#A89A4A"/>
<rect x="223.28" y="765.75" width="14.5" height="5.6" fill="#8AB83E"/>
<rect x="493.2" y="765.75" width="14.5" height="5.6" fill="#8AB83E"/>
<rect x="510.07" y="765.75" width="14.5" height="5.6" fill="#8AB83E"/>
<rect x="1488.53" y="765.75" width="14.5" height="5.6" fill="#8AB83E"/>
<text x="137.2" y="769.2" font-size="11" text-anchor="end">4%</text>
<text x="1799.4" y="770.9" font-size="11">ERBB3</text>
<rect x="1899.2" y="766.1" width="10.65" height="9.5" fill="#8AB83E"/>
<rect x="1909.75" y="766.1" width="0.7" height="9.5" fill="#A89A4A"/>
<rect x="257.02" y="777.8" width="14.5" height="13.5" fill="#ED1C24"/>
<rect x="358.24" y="777.8" width="14.5" height="13.5" fill="#ED1C24"/>
<rect x="695.64" y="777.8" width="14.5" height="13.5" fill="#ED1C24"/>
<rect x="1556.01" y="777.8" width="14.5" height="13.5" fill="#ED1C24"/>
<text x="137.2" y="785.2" font-size="11" text-anchor="end">4%</text>
<text x="1799.4" y="786.9" font-size="11">MYCL</text>
<rect x="1899.2" y="782.1" width="10.65" height="9.5" fill="#ED1C24"/>
<rect x="1909.75" y="782.1" width="0.7" height="9.5" fill="#A89A4A"/>
<rect x="965.56" y="797.75" width="14.5" height="5.6" fill="#8AB83E"/>
<rect x="1387.31" y="797.75" width="14.5" height="5.6" fill="#8AB83E"/>
<rect x="1471.66" y="797.75" width="14.5" height="5.6" fill="#8AB83E"/>
<rect x="1623.49" y="797.75" width="14.5" height="5.6" fill="#8AB83E"/>
<text x="137.2" y="801.2" font-size="11" text-anchor="end">4%</text>
<text x="1799.4" y="802.9" font-size="11">RHOA</text>
<rect x="1899.2" y="798.1" width="10.65" height="9.5" fill="#8AB83E"/>
<rect x="1909.75" y="798.1" width="0.7" height="9.5" fill="#A89A4A"/>
<rect x="172.67" y="809.8" width="14.5" height="13.5" fill="#ED1C24"/>
<rect x="341.37" y="809.8" width="14.5" height="13.5" fill="#ED1C24"/>
<rect x="408.85" y="809.8" width="14.5" height="13.5" fill="#ED1C24"/>
<rect x="678.77" y="809.8" width="14.5" height="13.5" fill="#ED1C24"/>
<text x="137.2" y="817.2" font-size="11" text-anchor="end">4%</text>
<text x="1799.4" y="818.9" font-size="11">SDC4</text>
<rect x="1899.2" y="814.1" width="10.65" height="9.5" fill="#ED1C24"/>
<rect x="1909.75" y="814.1" width="0.7" height="9.5" fill="#A89A4A"/>
<rect x="1049.91" y="825.8" width="14.5" height="13.5" fill="#ED1C24"/>
<rect x="1606.62" y="825.8" width="14.5" height="13.5" fill="#ED1C24"/>
<rect x="1606.62" y="829.75" width="14.5" height="5.6" fill="#8AB83E"/>
<rect x="1690.97" y="829.75" width="14.5" height="5.6" fill="#8AB83E"/>
<text x="137.2" y="833.2" font-size="11" text-anchor="end">3%</text>
<text x="1799.4" y="834.9" font-size="11">KRAS</text>
<rect x="1899.2" y="830.1" width="5.33" height="9.5" fill="#ED1C24"/>
<rect x="1904.53" y="830.1" width="5.33" height="9.5" fill="#8AB83E"/>
<rect x="1909.75" y="830.1" width="0.7" height="9.5" fill="#A89A4A"/>
<rect x="476.33" y="845.75" width="14.5" height="5.6" fill="#8AB83E"/>
<rect x="813.73" y="845.75" width="14.5" height="5.6" fill="#8AB83E"/>
<rect x="1437.92" y="845.75" width="14.5" height="5.6" fill="#8AB83E"/>
<text x="137.2" y="849.2" font-size="11" text-anchor="end">3%</text>
<text x="1799.4" y="850.9" font-size="11">NFE2L2</text>
<rect x="1899.2" y="846.1" width="7.99" height="9.5" fill="#8AB83E"/>
<rect x="1907.09" y="846.1" width="0.7" height="9.5" fill="#A89A4A"/>
<rect x="678.77" y="857.8" width="14.5" height="13.5" fill="#ED1C24"/>
<rect x="729.38" y="857.8" width="14.5" height="13.5" fill="#ED1C24"/>
<rect x="1235.48" y="857.8" width="14.5" height="13.5" fill="#ED1C24"/>
<text x="137.2" y="865.2" font-size="11" text-anchor="end">3%</text>
<text x="1799.4" y="866.9" font-size="11">PPARG</text>
<rect x="1899.2" y="862.1" width="7.99" height="9.5" fill="#ED1C24"/>
<rect x="1907.09" y="862.1" width="0.7" height="9.5" fill="#A89A4A"/>
<rect x="678.77" y="873.8" width="14.5" height="13.5" fill="#ED1C24"/>
<rect x="729.38" y="873.8" width="14.5" height="13.5" fill="#ED1C24"/>
<rect x="1235.48" y="873.8" width="14.5" height="13.5" fill="#ED1C24"/>
<text x="137.2" y="881.2" font-size="11" text-anchor="end">3%</text>
<text x="1799.4" y="882.9" font-size="11">XPC</text>
<rect x="1899.2" y="878.1" width="7.99" height="9.5" fill="#ED1C24"/>
<rect x="1907.09" y="878.1" width="0.7" height="9.5" fill="#A89A4A"/>
<rect x="257.02" y="889.8" width="14.5" height="13.5" fill="#ED1C24"/>
<text x="137.2" y="897.2" font-size="11" text-anchor="end">1%</text>
<text x="1799.4" y="898.9" font-size="11">DDR2</text>
<rect x="1899.2" y="894.1" width="2.66" height="9.5" fill="#ED1C24"/>
<rect x="1901.76" y="894.1" width="0.7" height="9.5" fill="#A89A4A"/>
<rect x="1623.49" y="909.75" width="14.5" height="5.6" fill="#8AB83E"/>
<text x="137.2" y="913.2" font-size="11" text-anchor="end">1%</text>
<text x="1799.4" y="914.9" font-size="11">HRAS</text>
<rect x="1899.2" y="910.1" width="2.66" height="9.5" fill="#8AB83E"/>
<rect x="1901.76" y="910.1" width="0.7" height="9.5" fill="#A89A4A"/>
<path d="M172.77 585.9L187.07 599.2M187.07 585.9L172.77 599.2" stroke="#231F20" stroke-width="2.8" stroke-linecap="round" fill="none"/>
<path d="M864.44 585.9L878.74 599.2M878.74 585.9L864.44 599.2" stroke="#231F20" stroke-width="2.8" stroke-linecap="round" fill="none"/>
<path d="M915.05 585.9L929.35 599.2M929.35 585.9L915.05 599.2" stroke="#231F20" stroke-width="2.8" stroke-linecap="round" fill="none"/>
<path d="M931.92 585.9L946.22 599.2M946.22 585.9L931.92 599.2" stroke="#231F20" stroke-width="2.8" stroke-linecap="round" fill="none"/>
<path d="M1050.01 825.9L1064.31 839.2M1064.31 825.9L1050.01 839.2" stroke="#231F20" stroke-width="2.8" stroke-linecap="round" fill="none"/>
<path d="M1235.58 857.9L1249.88 871.2M1249.88 857.9L1235.58 871.2" stroke="#231F20" stroke-width="2.8" stroke-linecap="round" fill="none"/>
<path d="M1414.4 379.3H1493" stroke="#231F20" stroke-width="1.3"/>
<path d="M1899.5 144.1V150.6" stroke="#231F20" stroke-width="0.9"/>
<text x="1901.9" y="137.3" font-size="10" text-anchor="middle">0</text>
<path d="M1926.13 144.1V150.6" stroke="#231F20" stroke-width="0.9"/>
<text x="1926.53" y="137.3" font-size="10" text-anchor="middle">10</text>
<path d="M1952.76 144.1V150.6" stroke="#231F20" stroke-width="0.9"/>
<text x="1953.76" y="137.3" font-size="10" text-anchor="middle">20</text>
<path d="M1979.39 144.1V150.6" stroke="#231F20" stroke-width="0.9"/>
<text x="1981.29" y="137.3" font-size="10" text-anchor="middle">30</text>
<text transform="translate(86.2 349.9) rotate(-90)" font-size="30" text-anchor="middle" stroke="#231F20" stroke-width="0.25">TSG</text>
<text transform="translate(86.2 726.6) rotate(-90)" font-size="29.8" text-anchor="middle" stroke="#231F20" stroke-width="0.25">Oncogene</text>
<text x="161.4" y="969.5" font-size="22" font-weight="bold">n=97 mUC</text>
<text x="114.3" y="1019.9" font-size="22" font-weight="bold">Alterations</text>
<rect x="114.3" y="1041.5" width="21.7" height="21.1" fill="#9D4F9F"/>
<text x="146.3" y="1057.6" font-size="22">Frame_Shift_Indel</text>
<rect x="114.3" y="1064.7" width="21.7" height="21.1" fill="#8AB83E"/>
<text x="146.3" y="1080.8" font-size="22">Missense_Pathogen</text>
<rect x="114.3" y="1087.9" width="21.7" height="21.1" fill="#AED136"/>
<text x="146.3" y="1104" font-size="22">Missense_Pathogen_LOH</text>
<rect x="114.3" y="1111.1" width="21.7" height="21.1" fill="#231F20"/>
<text x="146.3" y="1127.2" font-size="22">Multi_Hit</text>
<rect x="114.3" y="1134.3" width="21.7" height="21.1" fill="#FAD507"/>
<text x="146.3" y="1150.4" font-size="22">Nonsense_Mutation</text>
<rect x="114.3" y="1157.5" width="21.7" height="21.1" fill="#F9B9C9"/>
<text x="146.3" y="1173.6" font-size="22">Splice_Site</text>
<rect x="114.3" y="1180.7" width="21.7" height="21.1" fill="#ED1C24"/>
<text x="146.3" y="1196.8" font-size="22">Amp</text>
<rect x="114.3" y="1203.9" width="21.7" height="21.1" fill="#1A6DB6"/>
<text x="146.3" y="1220" font-size="22">Del</text>
<rect x="114.3" y="1239.1" width="21.7" height="20.8" fill="#EBEBEB"/>
<path d="M114.8 1239.6L135.5 1259.4M135.5 1239.6L114.8 1259.4" stroke="#231F20" stroke-width="1.5" fill="none"/>
<text x="146.5" y="1254.9" font-size="22">Fusion</text>
<text x="417.6" y="1018.7" font-size="22" font-weight="bold">Studies</text>
<rect x="418.2" y="1037.4" width="18.7" height="18.3" fill="#87625F"/>
<text x="449.8" y="1053.5" font-size="22">MATCH−R</text>
<rect x="418.2" y="1057.3" width="18.7" height="18.3" fill="#CC9795"/>
<text x="449.8" y="1073.55" font-size="22">MOSCATO</text>
<rect x="418.2" y="1077.2" width="18.7" height="18.3" fill="#F0B1B1"/>
<text x="449.8" y="1093.6" font-size="22">SHIVA</text>
<text x="611.4" y="1019.5" font-size="22" font-weight="bold">Site of biopsy</text>
<rect x="611.1" y="1033.3" width="21.4" height="21.4" fill="#8DD1C5"/>
<text x="644.1" y="1049.1" font-size="22">Mesorectum</text>
<rect x="611.1" y="1056.66" width="21.4" height="21.4" fill="#FAF4AE"/>
<text x="644.1" y="1072.46" font-size="22">Lung</text>
<rect x="611.1" y="1080.02" width="21.4" height="21.4" fill="#BBB5D8"/>
<text x="644.1" y="1095.82" font-size="22">Liver</text>
<rect x="611.1" y="1103.38" width="21.4" height="21.4" fill="#F47A6C"/>
<text x="644.1" y="1119.18" font-size="22">Lymph nodes</text>
<rect x="611.1" y="1126.74" width="21.4" height="21.4" fill="#7BADD0"/>
<text x="644.1" y="1142.54" font-size="22">Bone</text>
<rect x="611.1" y="1150.1" width="21.4" height="21.4" fill="#FBB05C"/>
<text x="644.1" y="1165.9" font-size="22">Muscle</text>
<rect x="611.1" y="1173.46" width="21.4" height="21.4" fill="#B2D665"/>
<text x="644.1" y="1189.26" font-size="22">Bladder</text>
<rect x="611.1" y="1196.82" width="21.4" height="21.4" fill="#F9CDE2"/>
<text x="644.1" y="1212.62" font-size="22">Subcutaneous</text>
<rect x="611.1" y="1220.18" width="21.4" height="21.4" fill="#C9B5AE"/>
<text x="644.1" y="1235.98" font-size="22">Peritoneum</text>
<rect x="611.1" y="1243.54" width="21.4" height="21.4" fill="#B778B3"/>
<text x="644.1" y="1259.34" font-size="22">Cutaneous</text>
<rect x="611.1" y="1266.9" width="21.4" height="21.4" fill="#DCEDF9"/>
<text x="644.1" y="1282.7" font-size="22">Adrenal</text>
<text x="829.5" y="1019.5" font-size="22" font-weight="bold">Disease</text>
<rect x="829.5" y="1033.3" width="21.4" height="21.4" fill="#5BA79B"/>
<text x="861.2" y="1049.1" font-size="22">mMIBC</text>
<rect x="829.5" y="1056.66" width="21.4" height="21.4" fill="#C4E5DB"/>
<text x="861.2" y="1072.46" font-size="22">mUTUC</text>
<text x="989.9" y="1019.5" font-size="22" font-weight="bold">Prior ICI</text>
<rect x="989.9" y="1037.4" width="22.5" height="22.2" fill="#EC8F99"/>
<text x="1025.6" y="1050.8" font-size="22">Yes</text>
<rect x="989.9" y="1062.3" width="22.5" height="22.2" fill="#FACFD5"/>
<text x="1025.6" y="1075.7" font-size="22">No</text>
<text x="982.9" y="1111.7" font-size="22" font-weight="bold">Transcriptomic subtypes</text>
<rect x="989.9" y="1124.3" width="22.5" height="22.4" fill="#5EC0A4"/>
<text x="1025.6" y="1139.8" font-size="22">LumP</text>
<rect x="989.9" y="1149.13" width="22.5" height="22.4" fill="#F6875F"/>
<text x="1025.6" y="1164.63" font-size="22">LumNS</text>
<rect x="989.9" y="1173.96" width="22.5" height="22.4" fill="#8A9BC9"/>
<text x="1025.6" y="1189.46" font-size="22">LumU</text>
<rect x="989.9" y="1198.79" width="22.5" height="22.4" fill="#C8DA2B"/>
<text x="1025.6" y="1214.29" font-size="22">Stroma.rich</text>
<rect x="989.9" y="1223.62" width="22.5" height="22.4" fill="#E085B9"/>
<text x="1025.6" y="1239.12" font-size="22">Ba.Sq</text>
<rect x="989.9" y="1248.45" width="22.5" height="22.4" fill="#A5CF4D"/>
<text x="1025.6" y="1263.95" font-size="22">NE.like</text>
<rect x="989.9" y="1273.28" width="22.5" height="22.4" fill="#F1F1F1"/>
<text x="1025.6" y="1288.78" font-size="22">Unknown</text>
<text x="1237.5" y="1019.5" font-size="22" font-weight="bold">TERT mutations</text>
<rect x="1260.1" y="1032.7" width="19.9" height="19.2" fill="#856FB1"/>
<text x="1291.7" y="1049.1" font-size="22">Yes</text>
<rect x="1260.1" y="1054.65" width="19.9" height="19.2" fill="#DECEE6"/>
<text x="1291.7" y="1070.7" font-size="22">No</text>
<rect x="1260.1" y="1076.6" width="19.9" height="19.2" fill="#F1F1F1"/>
<text x="1291.7" y="1092.3" font-size="22">Not tested</text>
<text x="1456.6" y="1019.7" font-size="22" font-weight="bold">Mutational signatures</text>
<rect x="1456.3" y="1038" width="24.3" height="23.8" fill="#BAB8DC"/>
<text x="1493.6" y="1054" font-size="22">Aflatoxin</text>
<rect x="1456.3" y="1064.4" width="24.3" height="23.8" fill="#F1F1F1"/>
<text x="1493.6" y="1080.35" font-size="22">Not informative</text>
<rect x="1456.3" y="1090.8" width="24.3" height="23.8" fill="#F49A92"/>
<text x="1493.6" y="1106.7" font-size="22">APOBEC</text>
<rect x="1456.3" y="1117.2" width="24.3" height="23.8" fill="#F4C7D9"/>
<text x="1493.6" y="1133.05" font-size="22">Deamin_5MC</text>
<rect x="1456.3" y="1143.6" width="24.3" height="23.8" fill="#DDE9AE"/>
<text x="1493.6" y="1159.4" font-size="22">HRD</text>
<rect x="1456.3" y="1170" width="24.3" height="23.8" fill="#77B4A9"/>
<text x="1493.6" y="1185.75" font-size="22">Ig_hypermutation</text>
<rect x="1456.3" y="1196.4" width="24.3" height="23.8" fill="#FBCF98"/>
<text x="1493.6" y="1212.1" font-size="22">MMR</text>
<rect x="1456.3" y="1222.8" width="24.3" height="23.8" fill="#9DD0F1"/>
<text x="1493.6" y="1238.45" font-size="22">Platinum</text>
<rect x="1456.3" y="1249.2" width="24.3" height="23.8" fill="#856FB1"/>
<text x="1493.6" y="1264.8" font-size="22">POLE</text>
<rect x="1456.3" y="1275.6" width="24.3" height="23.8" fill="#F4796B"/>
<text x="1493.6" y="1291.15" font-size="22">Tobacco</text>
<text x="1740.3" y="1021" font-size="22" font-weight="bold">TMB</text>
<rect x="1741.5" y="1036.8" width="24.3" height="23.8" fill="#DC1C24"/>
<text x="1781.7" y="1052" font-size="22">High</text>
<rect x="1741.5" y="1063.4" width="24.3" height="23.8" fill="#FDC751"/>
<text x="1781.7" y="1078.65" font-size="22">Mid</text>
<rect x="1741.5" y="1090" width="24.3" height="23.8" fill="#F9EE7A"/>
<text x="1781.7" y="1105.3" font-size="22">Low</text>
<text x="1740.3" y="1139.5" font-size="22" font-weight="bold">RNAseq</text>
<rect x="1741.5" y="1156.2" width="24.3" height="24.1" fill="#84AEDE"/>
<text x="1781.9" y="1171.4" font-size="22">Done</text>
<rect x="1741.5" y="1182.8" width="24.3" height="24.1" fill="#F1F1F1"/>
<text x="1781.9" y="1198.4" font-size="22">Not done</text>
</g>
<g id="panelB">
<text x="0" y="1476.5" font-size="37.6" stroke="#231F20" stroke-width="0.5">B</text>
<rect x="264.2" y="1470.3" width="15.54" height="14.1" fill="#F0B1B1"/>
<rect x="279.74" y="1470.3" width="31.08" height="14.1" fill="#CC9795"/>
<rect x="310.83" y="1470.3" width="31.08" height="14.1" fill="#87625F"/>
<rect x="341.91" y="1470.3" width="46.63" height="14.1" fill="#CC9795"/>
<rect x="388.54" y="1470.3" width="15.54" height="14.1" fill="#87625F"/>
<rect x="404.08" y="1470.3" width="15.54" height="14.1" fill="#CC9795"/>
<rect x="419.62" y="1470.3" width="31.08" height="14.1" fill="#87625F"/>
<rect x="450.7" y="1470.3" width="15.54" height="14.1" fill="#CC9795"/>
<rect x="466.25" y="1470.3" width="15.54" height="14.1" fill="#87625F"/>
<rect x="481.79" y="1470.3" width="15.54" height="14.1" fill="#CC9795"/>
<rect x="497.33" y="1470.3" width="62.17" height="14.1" fill="#87625F"/>
<rect x="559.5" y="1470.3" width="15.54" height="14.1" fill="#CC9795"/>
<rect x="575.04" y="1470.3" width="46.63" height="14.1" fill="#87625F"/>
<rect x="621.67" y="1470.3" width="31.08" height="14.1" fill="#CC9795"/>
<rect x="652.75" y="1470.3" width="15.54" height="14.1" fill="#87625F"/>
<rect x="668.29" y="1470.3" width="15.54" height="14.1" fill="#F0B1B1"/>
<rect x="683.83" y="1470.3" width="15.54" height="14.1" fill="#87625F"/>
<rect x="699.38" y="1470.3" width="15.54" height="14.1" fill="#CC9795"/>
<rect x="714.92" y="1470.3" width="15.54" height="14.1" fill="#87625F"/>
<rect x="730.46" y="1470.3" width="15.54" height="14.1" fill="#F0B1B1"/>
<rect x="746" y="1470.3" width="15.54" height="14.1" fill="#CC9795"/>
<rect x="761.54" y="1470.3" width="31.08" height="14.1" fill="#87625F"/>
<rect x="792.63" y="1470.3" width="46.63" height="14.1" fill="#CC9795"/>
<rect x="839.25" y="1470.3" width="15.54" height="14.1" fill="#87625F"/>
<rect x="854.8" y="1470.3" width="15.54" height="14.1" fill="#CC9795"/>
<rect x="870.34" y="1470.3" width="15.54" height="14.1" fill="#87625F"/>
<rect x="885.88" y="1470.3" width="15.54" height="14.1" fill="#F0B1B1"/>
<rect x="901.42" y="1470.3" width="15.54" height="14.1" fill="#CC9795"/>
<rect x="916.96" y="1470.3" width="15.54" height="14.1" fill="#F0B1B1"/>
<rect x="932.51" y="1470.3" width="46.63" height="14.1" fill="#CC9795"/>
<rect x="979.13" y="1470.3" width="15.54" height="14.1" fill="#87625F"/>
<rect x="994.67" y="1470.3" width="15.54" height="14.1" fill="#CC9795"/>
<rect x="1010.22" y="1470.3" width="15.54" height="14.1" fill="#87625F"/>
<rect x="1025.76" y="1470.3" width="15.54" height="14.1" fill="#CC9795"/>
<rect x="1041.3" y="1470.3" width="15.54" height="14.1" fill="#87625F"/>
<rect x="1056.84" y="1470.3" width="62.17" height="14.1" fill="#CC9795"/>
<rect x="1119.01" y="1470.3" width="31.08" height="14.1" fill="#87625F"/>
<rect x="1150.09" y="1470.3" width="15.54" height="14.1" fill="#CC9795"/>
<rect x="1165.64" y="1470.3" width="15.54" height="14.1" fill="#87625F"/>
<rect x="1181.18" y="1470.3" width="15.54" height="14.1" fill="#CC9795"/>
<rect x="1196.72" y="1470.3" width="15.54" height="14.1" fill="#87625F"/>
<rect x="1212.26" y="1470.3" width="15.54" height="14.1" fill="#CC9795"/>
<rect x="1227.8" y="1470.3" width="15.54" height="14.1" fill="#F0B1B1"/>
<rect x="1243.35" y="1470.3" width="15.54" height="14.1" fill="#87625F"/>
<rect x="1258.89" y="1470.3" width="15.54" height="14.1" fill="#CC9795"/>
<rect x="1274.43" y="1470.3" width="15.54" height="14.1" fill="#87625F"/>
<rect x="1289.97" y="1470.3" width="77.71" height="14.1" fill="#CC9795"/>
<rect x="1367.68" y="1470.3" width="15.54" height="14.1" fill="#F0B1B1"/>
<rect x="1383.22" y="1470.3" width="15.54" height="14.1" fill="#CC9795"/>
<rect x="1398.77" y="1470.3" width="15.54" height="14.1" fill="#F0B1B1"/>
<rect x="1414.31" y="1470.3" width="62.17" height="14.1" fill="#CC9795"/>
<rect x="1476.48" y="1470.3" width="15.54" height="14.1" fill="#87625F"/>
<rect x="1492.02" y="1470.3" width="46.63" height="14.1" fill="#CC9795"/>
<rect x="1538.64" y="1470.3" width="15.54" height="14.1" fill="#87625F"/>
<rect x="1554.19" y="1470.3" width="62.17" height="14.1" fill="#CC9795"/>
<rect x="1616.35" y="1470.3" width="31.08" height="14.1" fill="#87625F"/>
<rect x="1647.44" y="1470.3" width="15.54" height="14.1" fill="#F0B1B1"/>
<rect x="1662.98" y="1470.3" width="31.08" height="14.1" fill="#87625F"/>
<rect x="1694.06" y="1470.3" width="31.08" height="14.1" fill="#F0B1B1"/>
<rect x="1725.15" y="1470.3" width="31.08" height="14.1" fill="#CC9795"/>
<rect x="1756.23" y="1470.3" width="15.54" height="14.1" fill="#F0B1B1"/>
<text x="1783.6" y="1480.1" font-size="14.7">Studies</text>
<rect x="264.2" y="1486.13" width="15.54" height="14.1" fill="#B2D665"/>
<rect x="279.74" y="1486.13" width="15.54" height="14.1" fill="#FAF4AE"/>
<rect x="295.28" y="1486.13" width="31.08" height="14.1" fill="#F47A6C"/>
<rect x="326.37" y="1486.13" width="15.54" height="14.1" fill="#FBB05C"/>
<rect x="341.91" y="1486.13" width="15.54" height="14.1" fill="#F47A6C"/>
<rect x="357.45" y="1486.13" width="15.54" height="14.1" fill="#8DD1C5"/>
<rect x="372.99" y="1486.13" width="15.54" height="14.1" fill="#F47A6C"/>
<rect x="388.54" y="1486.13" width="15.54" height="14.1" fill="#FBB05C"/>
<rect x="404.08" y="1486.13" width="15.54" height="14.1" fill="#F47A6C"/>
<rect x="419.62" y="1486.13" width="15.54" height="14.1" fill="#FAF4AE"/>
<rect x="435.16" y="1486.13" width="15.54" height="14.1" fill="#F47A6C"/>
<rect x="450.7" y="1486.13" width="15.54" height="14.1" fill="#BBB5D8"/>
<rect x="466.25" y="1486.13" width="15.54" height="14.1" fill="#FAF4AE"/>
<rect x="481.79" y="1486.13" width="15.54" height="14.1" fill="#F9CDE2"/>
<rect x="497.33" y="1486.13" width="15.54" height="14.1" fill="#F47A6C"/>
<rect x="512.87" y="1486.13" width="15.54" height="14.1" fill="#7BADD0"/>
<rect x="528.41" y="1486.13" width="15.54" height="14.1" fill="#F47A6C"/>
<rect x="543.96" y="1486.13" width="15.54" height="14.1" fill="#FAF4AE"/>
<rect x="559.5" y="1486.13" width="15.54" height="14.1" fill="#BBB5D8"/>
<rect x="575.04" y="1486.13" width="15.54" height="14.1" fill="#F47A6C"/>
<rect x="590.58" y="1486.13" width="15.54" height="14.1" fill="#BBB5D8"/>
<rect x="606.12" y="1486.13" width="15.54" height="14.1" fill="#7BADD0"/>
<rect x="621.67" y="1486.13" width="15.54" height="14.1" fill="#F47A6C"/>
<rect x="637.21" y="1486.13" width="46.63" height="14.1" fill="#BBB5D8"/>
<rect x="683.83" y="1486.13" width="15.54" height="14.1" fill="#F47A6C"/>
<rect x="699.38" y="1486.13" width="15.54" height="14.1" fill="#FAF4AE"/>
<rect x="714.92" y="1486.13" width="31.08" height="14.1" fill="#F47A6C"/>
<rect x="746" y="1486.13" width="15.54" height="14.1" fill="#B2D665"/>
<rect x="761.54" y="1486.13" width="15.54" height="14.1" fill="#FAF4AE"/>
<rect x="777.09" y="1486.13" width="15.54" height="14.1" fill="#7BADD0"/>
<rect x="792.63" y="1486.13" width="15.54" height="14.1" fill="#F47A6C"/>
<rect x="808.17" y="1486.13" width="15.54" height="14.1" fill="#BBB5D8"/>
<rect x="823.71" y="1486.13" width="46.63" height="14.1" fill="#F47A6C"/>
<rect x="870.34" y="1486.13" width="15.54" height="14.1" fill="#FAF4AE"/>
<rect x="885.88" y="1486.13" width="15.54" height="14.1" fill="#F47A6C"/>
<rect x="901.42" y="1486.13" width="15.54" height="14.1" fill="#FAF4AE"/>
<rect x="916.96" y="1486.13" width="31.08" height="14.1" fill="#BBB5D8"/>
<rect x="948.05" y="1486.13" width="31.08" height="14.1" fill="#F47A6C"/>
<rect x="979.13" y="1486.13" width="15.54" height="14.1" fill="#B778B3"/>
<rect x="994.67" y="1486.13" width="15.54" height="14.1" fill="#F47A6C"/>
<rect x="1010.22" y="1486.13" width="15.54" height="14.1" fill="#DCEDF9"/>
<rect x="1025.76" y="1486.13" width="31.08" height="14.1" fill="#F47A6C"/>
<rect x="1056.84" y="1486.13" width="15.54" height="14.1" fill="#BBB5D8"/>
<rect x="1072.38" y="1486.13" width="15.54" height="14.1" fill="#F47A6C"/>
<rect x="1087.93" y="1486.13" width="15.54" height="14.1" fill="#FAF4AE"/>
<rect x="1103.47" y="1486.13" width="15.54" height="14.1" fill="#F47A6C"/>
<rect x="1119.01" y="1486.13" width="15.54" height="14.1" fill="#BBB5D8"/>
<rect x="1134.55" y="1486.13" width="15.54" height="14.1" fill="#FBB05C"/>
<rect x="1150.09" y="1486.13" width="31.08" height="14.1" fill="#F47A6C"/>
<rect x="1181.18" y="1486.13" width="15.54" height="14.1" fill="#FBB05C"/>
<rect x="1196.72" y="1486.13" width="15.54" height="14.1" fill="#FAF4AE"/>
<rect x="1212.26" y="1486.13" width="77.71" height="14.1" fill="#BBB5D8"/>
<rect x="1289.97" y="1486.13" width="15.54" height="14.1" fill="#B778B3"/>
<rect x="1305.51" y="1486.13" width="15.54" height="14.1" fill="#7BADD0"/>
<rect x="1321.06" y="1486.13" width="15.54" height="14.1" fill="#FBB05C"/>
<rect x="1336.6" y="1486.13" width="15.54" height="14.1" fill="#C9B5AE"/>
<rect x="1352.14" y="1486.13" width="31.08" height="14.1" fill="#BBB5D8"/>
<rect x="1383.22" y="1486.13" width="15.54" height="14.1" fill="#FAF4AE"/>
<rect x="1398.77" y="1486.13" width="15.54" height="14.1" fill="#BBB5D8"/>
<rect x="1414.31" y="1486.13" width="15.54" height="14.1" fill="#F47A6C"/>
<rect x="1429.85" y="1486.13" width="15.54" height="14.1" fill="#BBB5D8"/>
<rect x="1445.39" y="1486.13" width="15.54" height="14.1" fill="#FAF4AE"/>
<rect x="1460.93" y="1486.13" width="31.08" height="14.1" fill="#F47A6C"/>
<rect x="1492.02" y="1486.13" width="31.08" height="14.1" fill="#BBB5D8"/>
<rect x="1523.1" y="1486.13" width="31.08" height="14.1" fill="#FAF4AE"/>
<rect x="1554.19" y="1486.13" width="15.54" height="14.1" fill="#F47A6C"/>
<rect x="1569.73" y="1486.13" width="15.54" height="14.1" fill="#BBB5D8"/>
<rect x="1585.27" y="1486.13" width="15.54" height="14.1" fill="#F47A6C"/>
<rect x="1600.81" y="1486.13" width="31.08" height="14.1" fill="#BBB5D8"/>
<rect x="1631.9" y="1486.13" width="15.54" height="14.1" fill="#FBB05C"/>
<rect x="1647.44" y="1486.13" width="15.54" height="14.1" fill="#8DD1C5"/>
<rect x="1662.98" y="1486.13" width="15.54" height="14.1" fill="#C9B5AE"/>
<rect x="1678.52" y="1486.13" width="31.08" height="14.1" fill="#FAF4AE"/>
<rect x="1709.61" y="1486.13" width="15.54" height="14.1" fill="#F47A6C"/>
<rect x="1725.15" y="1486.13" width="15.54" height="14.1" fill="#FAF4AE"/>
<rect x="1740.69" y="1486.13" width="15.54" height="14.1" fill="#F47A6C"/>
<rect x="1756.23" y="1486.13" width="15.54" height="14.1" fill="#BBB5D8"/>
<text x="1783.6" y="1495.85" font-size="14.7">Site of biopsy</text>
<rect x="264.2" y="1501.96" width="62.17" height="14.1" fill="#5BA79B"/>
<rect x="326.37" y="1501.96" width="15.54" height="14.1" fill="#C4E5DB"/>
<rect x="341.91" y="1501.96" width="46.63" height="14.1" fill="#5BA79B"/>
<rect x="388.54" y="1501.96" width="15.54" height="14.1" fill="#C4E5DB"/>
<rect x="404.08" y="1501.96" width="15.54" height="14.1" fill="#5BA79B"/>
<rect x="419.62" y="1501.96" width="15.54" height="14.1" fill="#C4E5DB"/>
<rect x="435.16" y="1501.96" width="108.79" height="14.1" fill="#5BA79B"/>
<rect x="543.96" y="1501.96" width="15.54" height="14.1" fill="#C4E5DB"/>
<rect x="559.5" y="1501.96" width="31.08" height="14.1" fill="#5BA79B"/>
<rect x="590.58" y="1501.96" width="15.54" height="14.1" fill="#C4E5DB"/>
<rect x="606.12" y="1501.96" width="31.08" height="14.1" fill="#5BA79B"/>
<rect x="637.21" y="1501.96" width="31.08" height="14.1" fill="#C4E5DB"/>
<rect x="668.29" y="1501.96" width="31.08" height="14.1" fill="#5BA79B"/>
<rect x="699.38" y="1501.96" width="15.54" height="14.1" fill="#C4E5DB"/>
<rect x="714.92" y="1501.96" width="15.54" height="14.1" fill="#5BA79B"/>
<rect x="730.46" y="1501.96" width="15.54" height="14.1" fill="#C4E5DB"/>
<rect x="746" y="1501.96" width="15.54" height="14.1" fill="#5BA79B"/>
<rect x="761.54" y="1501.96" width="15.54" height="14.1" fill="#C4E5DB"/>
<rect x="777.09" y="1501.96" width="77.71" height="14.1" fill="#5BA79B"/>
<rect x="854.8" y="1501.96" width="15.54" height="14.1" fill="#C4E5DB"/>
<rect x="870.34" y="1501.96" width="170.96" height="14.1" fill="#5BA79B"/>
<rect x="1041.3" y="1501.96" width="77.71" height="14.1" fill="#C4E5DB"/>
<rect x="1119.01" y="1501.96" width="93.25" height="14.1" fill="#5BA79B"/>
<rect x="1212.26" y="1501.96" width="77.71" height="14.1" fill="#C4E5DB"/>
<rect x="1289.97" y="1501.96" width="15.54" height="14.1" fill="#5BA79B"/>
<rect x="1305.51" y="1501.96" width="15.54" height="14.1" fill="#C4E5DB"/>
<rect x="1321.06" y="1501.96" width="62.17" height="14.1" fill="#5BA79B"/>
<rect x="1383.22" y="1501.96" width="15.54" height="14.1" fill="#C4E5DB"/>
<rect x="1398.77" y="1501.96" width="46.63" height="14.1" fill="#5BA79B"/>
<rect x="1445.39" y="1501.96" width="15.54" height="14.1" fill="#C4E5DB"/>
<rect x="1460.93" y="1501.96" width="31.08" height="14.1" fill="#5BA79B"/>
<rect x="1492.02" y="1501.96" width="15.54" height="14.1" fill="#C4E5DB"/>
<rect x="1507.56" y="1501.96" width="139.88" height="14.1" fill="#5BA79B"/>
<rect x="1647.44" y="1501.96" width="31.08" height="14.1" fill="#C4E5DB"/>
<rect x="1678.52" y="1501.96" width="15.54" height="14.1" fill="#5BA79B"/>
<rect x="1694.06" y="1501.96" width="15.54" height="14.1" fill="#C4E5DB"/>
<rect x="1709.61" y="1501.96" width="15.54" height="14.1" fill="#BDBDBD"/>
<rect x="1725.15" y="1501.96" width="46.63" height="14.1" fill="#5BA79B"/>
<text x="1783.6" y="1511.6" font-size="14.7">Disease</text>
<rect x="264.2" y="1517.79" width="170.96" height="14.1" fill="#FACFD5"/>
<rect x="435.16" y="1517.79" width="15.54" height="14.1" fill="#EC8F99"/>
<rect x="450.7" y="1517.79" width="15.54" height="14.1" fill="#FACFD5"/>
<rect x="466.25" y="1517.79" width="15.54" height="14.1" fill="#EC8F99"/>
<rect x="481.79" y="1517.79" width="124.34" height="14.1" fill="#FACFD5"/>
<rect x="606.12" y="1517.79" width="31.08" height="14.1" fill="#EC8F99"/>
<rect x="637.21" y="1517.79" width="62.17" height="14.1" fill="#FACFD5"/>
<rect x="699.38" y="1517.79" width="15.54" height="14.1" fill="#EC8F99"/>
<rect x="714.92" y="1517.79" width="46.63" height="14.1" fill="#FACFD5"/>
<rect x="761.54" y="1517.79" width="15.54" height="14.1" fill="#EC8F99"/>
<rect x="777.09" y="1517.79" width="46.63" height="14.1" fill="#FACFD5"/>
<rect x="823.71" y="1517.79" width="15.54" height="14.1" fill="#EC8F99"/>
<rect x="839.25" y="1517.79" width="31.08" height="14.1" fill="#FACFD5"/>
<rect x="870.34" y="1517.79" width="15.54" height="14.1" fill="#EC8F99"/>
<rect x="885.88" y="1517.79" width="46.63" height="14.1" fill="#FACFD5"/>
<rect x="932.51" y="1517.79" width="31.08" height="14.1" fill="#EC8F99"/>
<rect x="963.59" y="1517.79" width="170.96" height="14.1" fill="#FACFD5"/>
<rect x="1134.55" y="1517.79" width="15.54" height="14.1" fill="#EC8F99"/>
<rect x="1150.09" y="1517.79" width="31.08" height="14.1" fill="#FACFD5"/>
<rect x="1181.18" y="1517.79" width="15.54" height="14.1" fill="#EC8F99"/>
<rect x="1196.72" y="1517.79" width="155.42" height="14.1" fill="#FACFD5"/>
<rect x="1352.14" y="1517.79" width="15.54" height="14.1" fill="#EC8F99"/>
<rect x="1367.68" y="1517.79" width="46.63" height="14.1" fill="#FACFD5"/>
<rect x="1414.31" y="1517.79" width="15.54" height="14.1" fill="#EC8F99"/>
<rect x="1429.85" y="1517.79" width="155.42" height="14.1" fill="#FACFD5"/>
<rect x="1585.27" y="1517.79" width="31.08" height="14.1" fill="#EC8F99"/>
<rect x="1616.35" y="1517.79" width="155.42" height="14.1" fill="#FACFD5"/>
<text x="1783.6" y="1527.35" font-size="14.7">Prior ICI</text>
<rect x="264.2" y="1533.62" width="31.08" height="14.1" fill="#5EC0A4"/>
<rect x="295.28" y="1533.62" width="15.54" height="14.1" fill="#8A9BC9"/>
<rect x="310.83" y="1533.62" width="15.54" height="14.1" fill="#5EC0A4"/>
<rect x="326.37" y="1533.62" width="15.54" height="14.1" fill="#F1F1F1"/>
<rect x="341.91" y="1533.62" width="15.54" height="14.1" fill="#E085B9"/>
<rect x="357.45" y="1533.62" width="15.54" height="14.1" fill="#A5CF4D"/>
<rect x="372.99" y="1533.62" width="15.54" height="14.1" fill="#8A9BC9"/>
<rect x="388.54" y="1533.62" width="31.08" height="14.1" fill="#E085B9"/>
<rect x="419.62" y="1533.62" width="15.54" height="14.1" fill="#F1F1F1"/>
<rect x="435.16" y="1533.62" width="15.54" height="14.1" fill="#E085B9"/>
<rect x="450.7" y="1533.62" width="15.54" height="14.1" fill="#8A9BC9"/>
<rect x="466.25" y="1533.62" width="15.54" height="14.1" fill="#C8DA2B"/>
<rect x="481.79" y="1533.62" width="15.54" height="14.1" fill="#E085B9"/>
<rect x="497.33" y="1533.62" width="15.54" height="14.1" fill="#C8DA2B"/>
<rect x="512.87" y="1533.62" width="15.54" height="14.1" fill="#F1F1F1"/>
<rect x="528.41" y="1533.62" width="31.08" height="14.1" fill="#E085B9"/>
<rect x="559.5" y="1533.62" width="15.54" height="14.1" fill="#5EC0A4"/>
<rect x="575.04" y="1533.62" width="15.54" height="14.1" fill="#F1F1F1"/>
<rect x="590.58" y="1533.62" width="15.54" height="14.1" fill="#5EC0A4"/>
<rect x="606.12" y="1533.62" width="15.54" height="14.1" fill="#F1F1F1"/>
<rect x="621.67" y="1533.62" width="31.08" height="14.1" fill="#8A9BC9"/>
<rect x="652.75" y="1533.62" width="31.08" height="14.1" fill="#F1F1F1"/>
<rect x="683.83" y="1533.62" width="15.54" height="14.1" fill="#A5CF4D"/>
<rect x="699.38" y="1533.62" width="15.54" height="14.1" fill="#5EC0A4"/>
<rect x="714.92" y="1533.62" width="15.54" height="14.1" fill="#C8DA2B"/>
<rect x="730.46" y="1533.62" width="15.54" height="14.1" fill="#5EC0A4"/>
<rect x="746" y="1533.62" width="46.63" height="14.1" fill="#F1F1F1"/>
<rect x="792.63" y="1533.62" width="15.54" height="14.1" fill="#E085B9"/>
<rect x="808.17" y="1533.62" width="15.54" height="14.1" fill="#C8DA2B"/>
<rect x="823.71" y="1533.62" width="31.08" height="14.1" fill="#8A9BC9"/>
<rect x="854.8" y="1533.62" width="15.54" height="14.1" fill="#E085B9"/>
<rect x="870.34" y="1533.62" width="15.54" height="14.1" fill="#F1F1F1"/>
<rect x="885.88" y="1533.62" width="15.54" height="14.1" fill="#8A9BC9"/>
<rect x="901.42" y="1533.62" width="15.54" height="14.1" fill="#5EC0A4"/>
<rect x="916.96" y="1533.62" width="15.54" height="14.1" fill="#F1F1F1"/>
<rect x="932.51" y="1533.62" width="15.54" height="14.1" fill="#5EC0A4"/>
<rect x="948.05" y="1533.62" width="62.17" height="14.1" fill="#E085B9"/>
<rect x="1010.22" y="1533.62" width="15.54" height="14.1" fill="#F1F1F1"/>
<rect x="1025.76" y="1533.62" width="15.54" height="14.1" fill="#C8DA2B"/>
<rect x="1041.3" y="1533.62" width="15.54" height="14.1" fill="#A5CF4D"/>
<rect x="1056.84" y="1533.62" width="15.54" height="14.1" fill="#C8DA2B"/>
<rect x="1072.38" y="1533.62" width="15.54" height="14.1" fill="#E085B9"/>
<rect x="1087.93" y="1533.62" width="15.54" height="14.1" fill="#5EC0A4"/>
<rect x="1103.47" y="1533.62" width="31.08" height="14.1" fill="#8A9BC9"/>
<rect x="1134.55" y="1533.62" width="15.54" height="14.1" fill="#E085B9"/>
<rect x="1150.09" y="1533.62" width="15.54" height="14.1" fill="#C8DA2B"/>
<rect x="1165.64" y="1533.62" width="15.54" height="14.1" fill="#8A9BC9"/>
<rect x="1181.18" y="1533.62" width="15.54" height="14.1" fill="#E085B9"/>
<rect x="1196.72" y="1533.62" width="15.54" height="14.1" fill="#F1F1F1"/>
<rect x="1212.26" y="1533.62" width="15.54" height="14.1" fill="#A5CF4D"/>
<rect x="1227.8" y="1533.62" width="15.54" height="14.1" fill="#F6875F"/>
<rect x="1243.35" y="1533.62" width="15.54" height="14.1" fill="#F1F1F1"/>
<rect x="1258.89" y="1533.62" width="31.08" height="14.1" fill="#5EC0A4"/>
<rect x="1289.97" y="1533.62" width="31.08" height="14.1" fill="#E085B9"/>
<rect x="1321.06" y="1533.62" width="31.08" height="14.1" fill="#A5CF4D"/>
<rect x="1352.14" y="1533.62" width="31.08" height="14.1" fill="#8A9BC9"/>
<rect x="1383.22" y="1533.62" width="31.08" height="14.1" fill="#5EC0A4"/>
<rect x="1414.31" y="1533.62" width="15.54" height="14.1" fill="#E085B9"/>
<rect x="1429.85" y="1533.62" width="31.08" height="14.1" fill="#5EC0A4"/>
<rect x="1460.93" y="1533.62" width="15.54" height="14.1" fill="#8A9BC9"/>
<rect x="1476.48" y="1533.62" width="15.54" height="14.1" fill="#F1F1F1"/>
<rect x="1492.02" y="1533.62" width="31.08" height="14.1" fill="#E085B9"/>
<rect x="1523.1" y="1533.62" width="15.54" height="14.1" fill="#8A9BC9"/>
<rect x="1538.64" y="1533.62" width="15.54" height="14.1" fill="#F1F1F1"/>
<rect x="1554.19" y="1533.62" width="15.54" height="14.1" fill="#8A9BC9"/>
<rect x="1569.73" y="1533.62" width="15.54" height="14.1" fill="#C8DA2B"/>
<rect x="1585.27" y="1533.62" width="15.54" height="14.1" fill="#8A9BC9"/>
<rect x="1600.81" y="1533.62" width="15.54" height="14.1" fill="#5EC0A4"/>
<rect x="1616.35" y="1533.62" width="15.54" height="14.1" fill="#C8DA2B"/>
<rect x="1631.9" y="1533.62" width="46.63" height="14.1" fill="#F1F1F1"/>
<rect x="1678.52" y="1533.62" width="15.54" height="14.1" fill="#E085B9"/>
<rect x="1694.06" y="1533.62" width="15.54" height="14.1" fill="#F6875F"/>
<rect x="1709.61" y="1533.62" width="15.54" height="14.1" fill="#F1F1F1"/>
<rect x="1725.15" y="1533.62" width="15.54" height="14.1" fill="#A5CF4D"/>
<rect x="1740.69" y="1533.62" width="15.54" height="14.1" fill="#C8DA2B"/>
<rect x="1756.23" y="1533.62" width="15.54" height="14.1" fill="#F1F1F1"/>
<text x="1783.6" y="1543.1" font-size="14.7">Transcriptomic subtypes</text>
<rect x="264.2" y="1549.45" width="62.17" height="14.1" fill="#856FB1"/>
<rect x="326.37" y="1549.45" width="15.54" height="14.1" fill="#DECEE6"/>
<rect x="341.91" y="1549.45" width="77.71" height="14.1" fill="#856FB1"/>
<rect x="419.62" y="1549.45" width="15.54" height="14.1" fill="#DECEE6"/>
<rect x="435.16" y="1549.45" width="62.17" height="14.1" fill="#856FB1"/>
<rect x="497.33" y="1549.45" width="15.54" height="14.1" fill="#DECEE6"/>
<rect x="512.87" y="1549.45" width="15.54" height="14.1" fill="#F1F1F1"/>
<rect x="528.41" y="1549.45" width="46.63" height="14.1" fill="#856FB1"/>
<rect x="575.04" y="1549.45" width="15.54" height="14.1" fill="#DECEE6"/>
<rect x="590.58" y="1549.45" width="15.54" height="14.1" fill="#856FB1"/>
<rect x="606.12" y="1549.45" width="15.54" height="14.1" fill="#DECEE6"/>
<rect x="621.67" y="1549.45" width="31.08" height="14.1" fill="#856FB1"/>
<rect x="652.75" y="1549.45" width="15.54" height="14.1" fill="#DECEE6"/>
<rect x="668.29" y="1549.45" width="15.54" height="14.1" fill="#F1F1F1"/>
<rect x="683.83" y="1549.45" width="15.54" height="14.1" fill="#856FB1"/>
<rect x="699.38" y="1549.45" width="15.54" height="14.1" fill="#DECEE6"/>
<rect x="714.92" y="1549.45" width="15.54" height="14.1" fill="#856FB1"/>
<rect x="730.46" y="1549.45" width="15.54" height="14.1" fill="#DECEE6"/>
<rect x="746" y="1549.45" width="15.54" height="14.1" fill="#856FB1"/>
<rect x="761.54" y="1549.45" width="31.08" height="14.1" fill="#DECEE6"/>
<rect x="792.63" y="1549.45" width="77.71" height="14.1" fill="#856FB1"/>
<rect x="870.34" y="1549.45" width="15.54" height="14.1" fill="#DECEE6"/>
<rect x="885.88" y="1549.45" width="31.08" height="14.1" fill="#856FB1"/>
<rect x="916.96" y="1549.45" width="15.54" height="14.1" fill="#F1F1F1"/>
<rect x="932.51" y="1549.45" width="31.08" height="14.1" fill="#856FB1"/>
<rect x="963.59" y="1549.45" width="15.54" height="14.1" fill="#F1F1F1"/>
<rect x="979.13" y="1549.45" width="15.54" height="14.1" fill="#DECEE6"/>
<rect x="994.67" y="1549.45" width="15.54" height="14.1" fill="#856FB1"/>
<rect x="1010.22" y="1549.45" width="15.54" height="14.1" fill="#F1F1F1"/>
<rect x="1025.76" y="1549.45" width="15.54" height="14.1" fill="#856FB1"/>
<rect x="1041.3" y="1549.45" width="15.54" height="14.1" fill="#DECEE6"/>
<rect x="1056.84" y="1549.45" width="15.54" height="14.1" fill="#856FB1"/>
<rect x="1072.38" y="1549.45" width="15.54" height="14.1" fill="#DECEE6"/>
<rect x="1087.93" y="1549.45" width="139.88" height="14.1" fill="#856FB1"/>
<rect x="1227.8" y="1549.45" width="31.08" height="14.1" fill="#F1F1F1"/>
<rect x="1258.89" y="1549.45" width="108.79" height="14.1" fill="#856FB1"/>
<rect x="1367.68" y="1549.45" width="15.54" height="14.1" fill="#F1F1F1"/>
<rect x="1383.22" y="1549.45" width="15.54" height="14.1" fill="#856FB1"/>
<rect x="1398.77" y="1549.45" width="15.54" height="14.1" fill="#F1F1F1"/>
<rect x="1414.31" y="1549.45" width="15.54" height="14.1" fill="#856FB1"/>
<rect x="1429.85" y="1549.45" width="15.54" height="14.1" fill="#DECEE6"/>
<rect x="1445.39" y="1549.45" width="46.63" height="14.1" fill="#856FB1"/>
<rect x="1492.02" y="1549.45" width="15.54" height="14.1" fill="#F1F1F1"/>
<rect x="1507.56" y="1549.45" width="31.08" height="14.1" fill="#856FB1"/>
<rect x="1538.64" y="1549.45" width="15.54" height="14.1" fill="#F1F1F1"/>
<rect x="1554.19" y="1549.45" width="31.08" height="14.1" fill="#856FB1"/>
<rect x="1585.27" y="1549.45" width="15.54" height="14.1" fill="#F1F1F1"/>
<rect x="1600.81" y="1549.45" width="46.63" height="14.1" fill="#DECEE6"/>
<rect x="1647.44" y="1549.45" width="31.08" height="14.1" fill="#F1F1F1"/>
<rect x="1678.52" y="1549.45" width="15.54" height="14.1" fill="#856FB1"/>
<rect x="1694.06" y="1549.45" width="31.08" height="14.1" fill="#F1F1F1"/>
<rect x="1725.15" y="1549.45" width="31.08" height="14.1" fill="#856FB1"/>
<rect x="1756.23" y="1549.45" width="15.54" height="14.1" fill="#F1F1F1"/>
<text x="1783.6" y="1558.85" font-size="14.7">TERT mutations</text>
<rect x="264.2" y="1565.28" width="15.54" height="14.1" fill="#9DD0F1"/>
<rect x="279.74" y="1565.28" width="15.54" height="14.1" fill="#77B4A9"/>
<rect x="295.28" y="1565.28" width="62.17" height="14.1" fill="#F49A92"/>
<rect x="357.45" y="1565.28" width="15.54" height="14.1" fill="#DDE9AE"/>
<rect x="372.99" y="1565.28" width="93.25" height="14.1" fill="#F49A92"/>
<rect x="466.25" y="1565.28" width="15.54" height="14.1" fill="#F4C7D9"/>
<rect x="481.79" y="1565.28" width="15.54" height="14.1" fill="#F49A92"/>
<rect x="497.33" y="1565.28" width="15.54" height="14.1" fill="#9DD0F1"/>
<rect x="512.87" y="1565.28" width="15.54" height="14.1" fill="#DDE9AE"/>
<rect x="528.41" y="1565.28" width="15.54" height="14.1" fill="#F49A92"/>
<rect x="543.96" y="1565.28" width="15.54" height="14.1" fill="#DDE9AE"/>
<rect x="559.5" y="1565.28" width="15.54" height="14.1" fill="#9DD0F1"/>
<rect x="575.04" y="1565.28" width="15.54" height="14.1" fill="#BAB8DC"/>
<rect x="590.58" y="1565.28" width="62.17" height="14.1" fill="#F49A92"/>
<rect x="652.75" y="1565.28" width="15.54" height="14.1" fill="#BAB8DC"/>
<rect x="668.29" y="1565.28" width="15.54" height="14.1" fill="#9DD0F1"/>
<rect x="683.83" y="1565.28" width="15.54" height="14.1" fill="#F1F1F1"/>
<rect x="699.38" y="1565.28" width="15.54" height="14.1" fill="#F4C7D9"/>
<rect x="714.92" y="1565.28" width="15.54" height="14.1" fill="#F49A92"/>
<rect x="730.46" y="1565.28" width="15.54" height="14.1" fill="#DDE9AE"/>
<rect x="746" y="1565.28" width="15.54" height="14.1" fill="#F49A92"/>
<rect x="761.54" y="1565.28" width="15.54" height="14.1" fill="#9DD0F1"/>
<rect x="777.09" y="1565.28" width="31.08" height="14.1" fill="#F49A92"/>
<rect x="808.17" y="1565.28" width="15.54" height="14.1" fill="#BAB8DC"/>
<rect x="823.71" y="1565.28" width="15.54" height="14.1" fill="#DDE9AE"/>
<rect x="839.25" y="1565.28" width="93.25" height="14.1" fill="#F49A92"/>
<rect x="932.51" y="1565.28" width="15.54" height="14.1" fill="#BAB8DC"/>
<rect x="948.05" y="1565.28" width="31.08" height="14.1" fill="#F49A92"/>
<rect x="979.13" y="1565.28" width="15.54" height="14.1" fill="#9DD0F1"/>
<rect x="994.67" y="1565.28" width="46.63" height="14.1" fill="#F49A92"/>
<rect x="1041.3" y="1565.28" width="15.54" height="14.1" fill="#856FB1"/>
<rect x="1056.84" y="1565.28" width="15.54" height="14.1" fill="#DDE9AE"/>
<rect x="1072.38" y="1565.28" width="31.08" height="14.1" fill="#9DD0F1"/>
<rect x="1103.47" y="1565.28" width="15.54" height="14.1" fill="#FBCF98"/>
<rect x="1119.01" y="1565.28" width="15.54" height="14.1" fill="#F49A92"/>
<rect x="1134.55" y="1565.28" width="15.54" height="14.1" fill="#9DD0F1"/>
<rect x="1150.09" y="1565.28" width="15.54" height="14.1" fill="#F1F1F1"/>
<rect x="1165.64" y="1565.28" width="31.08" height="14.1" fill="#F49A92"/>
<rect x="1196.72" y="1565.28" width="15.54" height="14.1" fill="#F4C7D9"/>
<rect x="1212.26" y="1565.28" width="15.54" height="14.1" fill="#BAB8DC"/>
<rect x="1227.8" y="1565.28" width="15.54" height="14.1" fill="#F4C7D9"/>
<rect x="1243.35" y="1565.28" width="15.54" height="14.1" fill="#F1F1F1"/>
<rect x="1258.89" y="1565.28" width="15.54" height="14.1" fill="#FBCF98"/>
<rect x="1274.43" y="1565.28" width="15.54" height="14.1" fill="#F49A92"/>
<rect x="1289.97" y="1565.28" width="15.54" height="14.1" fill="#F4796B"/>
<rect x="1305.51" y="1565.28" width="15.54" height="14.1" fill="#DDE9AE"/>
<rect x="1321.06" y="1565.28" width="46.63" height="14.1" fill="#F49A92"/>
<rect x="1367.68" y="1565.28" width="15.54" height="14.1" fill="#FBCF98"/>
<rect x="1383.22" y="1565.28" width="46.63" height="14.1" fill="#F49A92"/>
<rect x="1429.85" y="1565.28" width="15.54" height="14.1" fill="#F4C7D9"/>
<rect x="1445.39" y="1565.28" width="15.54" height="14.1" fill="#9DD0F1"/>
<rect x="1460.93" y="1565.28" width="46.63" height="14.1" fill="#F49A92"/>
<rect x="1507.56" y="1565.28" width="15.54" height="14.1" fill="#FBCF98"/>
<rect x="1523.1" y="1565.28" width="15.54" height="14.1" fill="#9DD0F1"/>
<rect x="1538.64" y="1565.28" width="15.54" height="14.1" fill="#F49A92"/>
<rect x="1554.19" y="1565.28" width="15.54" height="14.1" fill="#9DD0F1"/>
<rect x="1569.73" y="1565.28" width="15.54" height="14.1" fill="#F4796B"/>
<rect x="1585.27" y="1565.28" width="15.54" height="14.1" fill="#F49A92"/>
<rect x="1600.81" y="1565.28" width="15.54" height="14.1" fill="#F1F1F1"/>
<rect x="1616.35" y="1565.28" width="15.54" height="14.1" fill="#DDE9AE"/>
<rect x="1631.9" y="1565.28" width="15.54" height="14.1" fill="#F49A92"/>
<rect x="1647.44" y="1565.28" width="15.54" height="14.1" fill="#F4C7D9"/>
<rect x="1662.98" y="1565.28" width="62.17" height="14.1" fill="#F49A92"/>
<rect x="1725.15" y="1565.28" width="15.54" height="14.1" fill="#FBCF98"/>
<rect x="1740.69" y="1565.28" width="15.54" height="14.1" fill="#9DD0F1"/>
<rect x="1756.23" y="1565.28" width="15.54" height="14.1" fill="#F49A92"/>
<text x="1783.6" y="1574.6" font-size="14.7">Mutational signatures</text>
<rect x="264.2" y="1581.11" width="15.54" height="14.1" fill="#FDC751"/>
<rect x="279.74" y="1581.11" width="62.17" height="14.1" fill="#F9EE7A"/>
<rect x="341.91" y="1581.11" width="15.54" height="14.1" fill="#DC1C24"/>
<rect x="357.45" y="1581.11" width="279.76" height="14.1" fill="#F9EE7A"/>
<rect x="637.21" y="1581.11" width="15.54" height="14.1" fill="#FDC751"/>
<rect x="652.75" y="1581.11" width="46.63" height="14.1" fill="#F9EE7A"/>
<rect x="699.38" y="1581.11" width="15.54" height="14.1" fill="#DC1C24"/>
<rect x="714.92" y="1581.11" width="15.54" height="14.1" fill="#FDC751"/>
<rect x="730.46" y="1581.11" width="15.54" height="14.1" fill="#F9EE7A"/>
<rect x="746" y="1581.11" width="15.54" height="14.1" fill="#DC1C24"/>
<rect x="761.54" y="1581.11" width="124.34" height="14.1" fill="#F9EE7A"/>
<rect x="885.88" y="1581.11" width="15.54" height="14.1" fill="#DC1C24"/>
<rect x="901.42" y="1581.11" width="108.79" height="14.1" fill="#F9EE7A"/>
<rect x="1010.22" y="1581.11" width="15.54" height="14.1" fill="#FDC751"/>
<rect x="1025.76" y="1581.11" width="15.54" height="14.1" fill="#F9EE7A"/>
<rect x="1041.3" y="1581.11" width="15.54" height="14.1" fill="#DC1C24"/>
<rect x="1056.84" y="1581.11" width="62.17" height="14.1" fill="#F9EE7A"/>
<rect x="1119.01" y="1581.11" width="15.54" height="14.1" fill="#FDC751"/>
<rect x="1134.55" y="1581.11" width="31.08" height="14.1" fill="#F9EE7A"/>
<rect x="1165.64" y="1581.11" width="31.08" height="14.1" fill="#DC1C24"/>
<rect x="1196.72" y="1581.11" width="124.34" height="14.1" fill="#F9EE7A"/>
<rect x="1321.06" y="1581.11" width="15.54" height="14.1" fill="#FDC751"/>
<rect x="1336.6" y="1581.11" width="62.17" height="14.1" fill="#F9EE7A"/>
<rect x="1398.77" y="1581.11" width="31.08" height="14.1" fill="#DC1C24"/>
<rect x="1429.85" y="1581.11" width="31.08" height="14.1" fill="#F9EE7A"/>
<rect x="1460.93" y="1581.11" width="15.54" height="14.1" fill="#FDC751"/>
<rect x="1476.48" y="1581.11" width="93.25" height="14.1" fill="#F9EE7A"/>
<rect x="1569.73" y="1581.11" width="31.08" height="14.1" fill="#FDC751"/>
<rect x="1600.81" y="1581.11" width="15.54" height="14.1" fill="#F9EE7A"/>
<rect x="1616.35" y="1581.11" width="15.54" height="14.1" fill="#DC1C24"/>
<rect x="1631.9" y="1581.11" width="77.71" height="14.1" fill="#F9EE7A"/>
<rect x="1709.61" y="1581.11" width="15.54" height="14.1" fill="#FDC751"/>
<rect x="1725.15" y="1581.11" width="46.63" height="14.1" fill="#F9EE7A"/>
<text x="1783.6" y="1590.35" font-size="14.7">TMB</text>
<rect x="264.2" y="1596.94" width="341.92" height="14.1" fill="#84AEDE"/>
<rect x="606.12" y="1596.94" width="15.54" height="14.1" fill="#F1F1F1"/>
<rect x="621.67" y="1596.94" width="46.63" height="14.1" fill="#84AEDE"/>
<rect x="668.29" y="1596.94" width="15.54" height="14.1" fill="#F1F1F1"/>
<rect x="683.83" y="1596.94" width="62.17" height="14.1" fill="#84AEDE"/>
<rect x="746" y="1596.94" width="15.54" height="14.1" fill="#F1F1F1"/>
<rect x="761.54" y="1596.94" width="155.42" height="14.1" fill="#84AEDE"/>
<rect x="916.96" y="1596.94" width="15.54" height="14.1" fill="#F1F1F1"/>
<rect x="932.51" y="1596.94" width="264.21" height="14.1" fill="#84AEDE"/>
<rect x="1196.72" y="1596.94" width="15.54" height="14.1" fill="#F1F1F1"/>
<rect x="1212.26" y="1596.94" width="264.21" height="14.1" fill="#84AEDE"/>
<rect x="1476.48" y="1596.94" width="15.54" height="14.1" fill="#F1F1F1"/>
<rect x="1492.02" y="1596.94" width="155.42" height="14.1" fill="#84AEDE"/>
<rect x="1647.44" y="1596.94" width="31.08" height="14.1" fill="#F1F1F1"/>
<rect x="1678.52" y="1596.94" width="31.08" height="14.1" fill="#84AEDE"/>
<rect x="1709.61" y="1596.94" width="15.54" height="14.1" fill="#F1F1F1"/>
<rect x="1725.15" y="1596.94" width="31.08" height="14.1" fill="#84AEDE"/>
<rect x="1756.23" y="1596.94" width="15.54" height="14.1" fill="#F1F1F1"/>
<text x="1783.6" y="1606.1" font-size="14.7">RNAseq</text>
<rect x="265.3" y="1617.5" width="1505.23" height="272.7" fill="#CBCCCE"/>
<path d="M279.67 1616.5v274.7M295.21 1616.5v274.7M310.75 1616.5v274.7M326.3 1616.5v274.7M341.84 1616.5v274.7M357.38 1616.5v274.7M372.92 1616.5v274.7M388.46 1616.5v274.7M404.01 1616.5v274.7M419.55 1616.5v274.7M435.09 1616.5v274.7M450.63 1616.5v274.7M466.17 1616.5v274.7M481.72 1616.5v274.7M497.26 1616.5v274.7M512.8 1616.5v274.7M528.34 1616.5v274.7M543.88 1616.5v274.7M559.43 1616.5v274.7M574.97 1616.5v274.7M590.51 1616.5v274.7M606.05 1616.5v274.7M621.6 1616.5v274.7M637.14 1616.5v274.7M652.68 1616.5v274.7M668.22 1616.5v274.7M683.76 1616.5v274.7M699.31 1616.5v274.7M714.85 1616.5v274.7M730.39 1616.5v274.7M745.93 1616.5v274.7M761.47 1616.5v274.7M777.01 1616.5v274.7M792.56 1616.5v274.7M808.1 1616.5v274.7M823.64 1616.5v274.7M839.18 1616.5v274.7M854.72 1616.5v274.7M870.27 1616.5v274.7M885.81 1616.5v274.7M901.35 1616.5v274.7M916.89 1616.5v274.7M932.43 1616.5v274.7M947.98 1616.5v274.7M963.52 1616.5v274.7M979.06 1616.5v274.7M994.6 1616.5v274.7M1010.14 1616.5v274.7M1025.69 1616.5v274.7M1041.23 1616.5v274.7M1056.77 1616.5v274.7M1072.31 1616.5v274.7M1087.86 1616.5v274.7M1103.4 1616.5v274.7M1118.94 1616.5v274.7M1134.48 1616.5v274.7M1150.02 1616.5v274.7M1165.57 1616.5v274.7M1181.11 1616.5v274.7M1196.65 1616.5v274.7M1212.19 1616.5v274.7M1227.73 1616.5v274.7M1243.28 1616.5v274.7M1258.82 1616.5v274.7M1274.36 1616.5v274.7M1289.9 1616.5v274.7M1305.44 1616.5v274.7M1320.99 1616.5v274.7M1336.53 1616.5v274.7M1352.07 1616.5v274.7M1367.61 1616.5v274.7M1383.15 1616.5v274.7M1398.69 1616.5v274.7M1414.24 1616.5v274.7M1429.78 1616.5v274.7M1445.32 1616.5v274.7M1460.86 1616.5v274.7M1476.4 1616.5v274.7M1491.95 1616.5v274.7M1507.49 1616.5v274.7M1523.03 1616.5v274.7M1538.57 1616.5v274.7M1554.12 1616.5v274.7M1569.66 1616.5v274.7M1585.2 1616.5v274.7M1600.74 1616.5v274.7M1616.28 1616.5v274.7M1631.83 1616.5v274.7M1647.37 1616.5v274.7M1662.91 1616.5v274.7M1678.45 1616.5v274.7M1693.99 1616.5v274.7M1709.54 1616.5v274.7M1725.08 1616.5v274.7M1740.62 1616.5v274.7M1756.16 1616.5v274.7" stroke="#fff" stroke-width="2.34" fill="none"/>
<path d="M264.3 1637.25h1507.23M264.3 1658.45h1507.23M264.3 1679.65h1507.23M264.3 1700.85h1507.23M264.3 1722.05h1507.23M264.3 1743.25h1507.23M264.3 1764.45h1507.23M264.3 1785.65h1507.23M264.3 1806.85h1507.23M264.3 1828.05h1507.23M264.3 1849.25h1507.23M264.3 1870.45h1507.23" stroke="#fff" stroke-width="2.9" fill="none"/>
<rect x="265.3" y="1617.5" width="13.2" height="18.3" fill="#008086"/>
<rect x="280.84" y="1617.5" width="13.2" height="18.3" fill="#008086"/>
<rect x="296.38" y="1617.5" width="13.2" height="18.3" fill="#008086"/>
<rect x="311.93" y="1617.5" width="13.2" height="18.3" fill="#008086"/>
<rect x="327.47" y="1617.5" width="13.2" height="18.3" fill="#008086"/>
<rect x="343.01" y="1617.5" width="13.2" height="18.3" fill="#008086"/>
<rect x="358.55" y="1617.5" width="13.2" height="18.3" fill="#008086"/>
<rect x="374.09" y="1617.5" width="13.2" height="18.3" fill="#008086"/>
<rect x="389.64" y="1617.5" width="13.2" height="18.3" fill="#008086"/>
<rect x="405.18" y="1617.5" width="13.2" height="18.3" fill="#008086"/>
<rect x="420.72" y="1617.5" width="13.2" height="18.3" fill="#008086"/>
<rect x="436.26" y="1617.5" width="13.2" height="18.3" fill="#008086"/>
<rect x="451.8" y="1617.5" width="13.2" height="18.3" fill="#008086"/>
<rect x="467.35" y="1617.5" width="13.2" height="18.3" fill="#008086"/>
<rect x="482.89" y="1617.5" width="13.2" height="18.3" fill="#008086"/>
<rect x="498.43" y="1617.5" width="13.2" height="18.3" fill="#008086"/>
<rect x="513.97" y="1617.5" width="13.2" height="18.3" fill="#008086"/>
<rect x="529.51" y="1617.5" width="13.2" height="18.3" fill="#008086"/>
<rect x="545.06" y="1617.5" width="13.2" height="18.3" fill="#008086"/>
<rect x="560.6" y="1617.5" width="13.2" height="18.3" fill="#008086"/>
<rect x="576.14" y="1617.5" width="13.2" height="18.3" fill="#008086"/>
<rect x="591.68" y="1617.5" width="13.2" height="18.3" fill="#008086"/>
<rect x="607.22" y="1617.5" width="13.2" height="18.3" fill="#008086"/>
<rect x="622.77" y="1617.5" width="13.2" height="18.3" fill="#008086"/>
<rect x="638.31" y="1617.5" width="13.2" height="18.3" fill="#008086"/>
<rect x="653.85" y="1617.5" width="13.2" height="18.3" fill="#008086"/>
<rect x="669.39" y="1617.5" width="13.2" height="18.3" fill="#008086"/>
<rect x="684.93" y="1617.5" width="13.2" height="18.3" fill="#008086"/>
<rect x="700.48" y="1617.5" width="13.2" height="18.3" fill="#008086"/>
<rect x="716.02" y="1617.5" width="13.2" height="18.3" fill="#008086"/>
<rect x="731.56" y="1617.5" width="13.2" height="18.3" fill="#008086"/>
<rect x="747.1" y="1617.5" width="13.2" height="18.3" fill="#008086"/>
<rect x="762.64" y="1617.5" width="13.2" height="18.3" fill="#008086"/>
<rect x="778.19" y="1617.5" width="13.2" height="18.3" fill="#008086"/>
<rect x="793.73" y="1617.5" width="13.2" height="18.3" fill="#008086"/>
<rect x="809.27" y="1617.5" width="13.2" height="18.3" fill="#008086"/>
<rect x="824.81" y="1617.5" width="13.2" height="18.3" fill="#008086"/>
<rect x="840.35" y="1617.5" width="13.2" height="18.3" fill="#008086"/>
<rect x="855.9" y="1617.5" width="13.2" height="18.3" fill="#008086"/>
<rect x="871.44" y="1617.5" width="13.2" height="18.3" fill="#008086"/>
<rect x="886.98" y="1617.5" width="13.2" height="18.3" fill="#008086"/>
<rect x="902.52" y="1617.5" width="13.2" height="18.3" fill="#008086"/>
<rect x="918.06" y="1617.5" width="13.2" height="18.3" fill="#008086"/>
<rect x="933.61" y="1617.5" width="13.2" height="18.3" fill="#008086"/>
<rect x="949.15" y="1617.5" width="13.2" height="18.3" fill="#008086"/>
<rect x="964.69" y="1617.5" width="13.2" height="18.3" fill="#008086"/>
<rect x="980.23" y="1617.5" width="13.2" height="18.3" fill="#008086"/>
<rect x="995.77" y="1617.5" width="13.2" height="18.3" fill="#008086"/>
<rect x="1011.32" y="1617.5" width="13.2" height="18.3" fill="#008086"/>
<rect x="1026.86" y="1617.5" width="13.2" height="18.3" fill="#008086"/>
<rect x="1042.4" y="1617.5" width="13.2" height="18.3" fill="#008086"/>
<rect x="1057.94" y="1617.5" width="13.2" height="18.3" fill="#008086"/>
<rect x="1073.48" y="1617.5" width="13.2" height="18.3" fill="#008086"/>
<rect x="1089.03" y="1617.5" width="13.2" height="18.3" fill="#008086"/>
<rect x="1104.57" y="1617.5" width="13.2" height="18.3" fill="#008086"/>
<rect x="1120.11" y="1617.5" width="13.2" height="18.3" fill="#008086"/>
<rect x="1135.65" y="1617.5" width="13.2" height="18.3" fill="#008086"/>
<text x="247.8" y="1628.7" font-size="14.7" text-anchor="end" xml:space="preserve">Chromatin Organization </text>
<text x="1784" y="1628.8" font-size="14.7">59%</text>
<rect x="265.3" y="1638.7" width="13.2" height="18.3" fill="#008086"/>
<rect x="280.84" y="1638.7" width="13.2" height="18.3" fill="#008086"/>
<rect x="296.38" y="1638.7" width="13.2" height="18.3" fill="#008086"/>
<rect x="311.93" y="1638.7" width="13.2" height="18.3" fill="#008086"/>
<rect x="327.47" y="1638.7" width="13.2" height="18.3" fill="#008086"/>
<rect x="343.01" y="1638.7" width="13.2" height="18.3" fill="#008086"/>
<rect x="358.55" y="1638.7" width="13.2" height="18.3" fill="#008086"/>
<rect x="374.09" y="1638.7" width="13.2" height="18.3" fill="#008086"/>
<rect x="389.64" y="1638.7" width="13.2" height="18.3" fill="#008086"/>
<rect x="405.18" y="1638.7" width="13.2" height="18.3" fill="#008086"/>
<rect x="420.72" y="1638.7" width="13.2" height="18.3" fill="#008086"/>
<rect x="436.26" y="1638.7" width="13.2" height="18.3" fill="#008086"/>
<rect x="451.8" y="1638.7" width="13.2" height="18.3" fill="#008086"/>
<rect x="467.35" y="1638.7" width="13.2" height="18.3" fill="#008086"/>
<rect x="482.89" y="1638.7" width="13.2" height="18.3" fill="#008086"/>
<rect x="498.43" y="1638.7" width="13.2" height="18.3" fill="#008086"/>
<rect x="513.97" y="1638.7" width="13.2" height="18.3" fill="#008086"/>
<rect x="529.51" y="1638.7" width="13.2" height="18.3" fill="#008086"/>
<rect x="545.06" y="1638.7" width="13.2" height="18.3" fill="#008086"/>
<rect x="560.6" y="1638.7" width="13.2" height="18.3" fill="#008086"/>
<rect x="576.14" y="1638.7" width="13.2" height="18.3" fill="#008086"/>
<rect x="591.68" y="1638.7" width="13.2" height="18.3" fill="#008086"/>
<rect x="607.22" y="1638.7" width="13.2" height="18.3" fill="#008086"/>
<rect x="622.77" y="1638.7" width="13.2" height="18.3" fill="#008086"/>
<rect x="638.31" y="1638.7" width="13.2" height="18.3" fill="#008086"/>
<rect x="653.85" y="1638.7" width="13.2" height="18.3" fill="#008086"/>
<rect x="669.39" y="1638.7" width="13.2" height="18.3" fill="#008086"/>
<rect x="684.93" y="1638.7" width="13.2" height="18.3" fill="#008086"/>
<rect x="1151.19" y="1638.7" width="13.2" height="18.3" fill="#008086"/>
<rect x="1166.74" y="1638.7" width="13.2" height="18.3" fill="#008086"/>
<rect x="1182.28" y="1638.7" width="13.2" height="18.3" fill="#008086"/>
<rect x="1197.82" y="1638.7" width="13.2" height="18.3" fill="#008086"/>
<rect x="1213.36" y="1638.7" width="13.2" height="18.3" fill="#008086"/>
<rect x="1228.9" y="1638.7" width="13.2" height="18.3" fill="#008086"/>
<rect x="1244.45" y="1638.7" width="13.2" height="18.3" fill="#008086"/>
<rect x="1259.99" y="1638.7" width="13.2" height="18.3" fill="#008086"/>
<rect x="1275.53" y="1638.7" width="13.2" height="18.3" fill="#008086"/>
<rect x="1291.07" y="1638.7" width="13.2" height="18.3" fill="#008086"/>
<rect x="1306.61" y="1638.7" width="13.2" height="18.3" fill="#008086"/>
<rect x="1322.16" y="1638.7" width="13.2" height="18.3" fill="#008086"/>
<rect x="1337.7" y="1638.7" width="13.2" height="18.3" fill="#008086"/>
<rect x="1353.24" y="1638.7" width="13.2" height="18.3" fill="#008086"/>
<rect x="1368.78" y="1638.7" width="13.2" height="18.3" fill="#008086"/>
<rect x="1384.32" y="1638.7" width="13.2" height="18.3" fill="#008086"/>
<rect x="1399.87" y="1638.7" width="13.2" height="18.3" fill="#008086"/>
<rect x="1415.41" y="1638.7" width="13.2" height="18.3" fill="#008086"/>
<rect x="1430.95" y="1638.7" width="13.2" height="18.3" fill="#008086"/>
<rect x="1446.49" y="1638.7" width="13.2" height="18.3" fill="#008086"/>
<rect x="1462.03" y="1638.7" width="13.2" height="18.3" fill="#008086"/>
<rect x="1477.58" y="1638.7" width="13.2" height="18.3" fill="#008086"/>
<rect x="1493.12" y="1638.7" width="13.2" height="18.3" fill="#008086"/>
<rect x="1508.66" y="1638.7" width="13.2" height="18.3" fill="#008086"/>
<rect x="1524.2" y="1638.7" width="13.2" height="18.3" fill="#008086"/>
<text x="247.8" y="1650.02" font-size="14.7" text-anchor="end" xml:space="preserve">Cell Cycle</text>
<text x="1784" y="1649.98" font-size="14.7">55%</text>
<rect x="265.3" y="1659.9" width="13.2" height="18.3" fill="#008086"/>
<rect x="280.84" y="1659.9" width="13.2" height="18.3" fill="#008086"/>
<rect x="296.38" y="1659.9" width="13.2" height="18.3" fill="#008086"/>
<rect x="311.93" y="1659.9" width="13.2" height="18.3" fill="#008086"/>
<rect x="327.47" y="1659.9" width="13.2" height="18.3" fill="#008086"/>
<rect x="343.01" y="1659.9" width="13.2" height="18.3" fill="#008086"/>
<rect x="358.55" y="1659.9" width="13.2" height="18.3" fill="#008086"/>
<rect x="374.09" y="1659.9" width="13.2" height="18.3" fill="#008086"/>
<rect x="389.64" y="1659.9" width="13.2" height="18.3" fill="#008086"/>
<rect x="405.18" y="1659.9" width="13.2" height="18.3" fill="#008086"/>
<rect x="420.72" y="1659.9" width="13.2" height="18.3" fill="#008086"/>
<rect x="436.26" y="1659.9" width="13.2" height="18.3" fill="#008086"/>
<rect x="451.8" y="1659.9" width="13.2" height="18.3" fill="#008086"/>
<rect x="467.35" y="1659.9" width="13.2" height="18.3" fill="#008086"/>
<rect x="482.89" y="1659.9" width="13.2" height="18.3" fill="#008086"/>
<rect x="498.43" y="1659.9" width="13.2" height="18.3" fill="#008086"/>
<rect x="513.97" y="1659.9" width="13.2" height="18.3" fill="#008086"/>
<rect x="700.48" y="1659.9" width="13.2" height="18.3" fill="#008086"/>
<rect x="716.02" y="1659.9" width="13.2" height="18.3" fill="#008086"/>
<rect x="731.56" y="1659.9" width="13.2" height="18.3" fill="#008086"/>
<rect x="747.1" y="1659.9" width="13.2" height="18.3" fill="#008086"/>
<rect x="762.64" y="1659.9" width="13.2" height="18.3" fill="#008086"/>
<rect x="778.19" y="1659.9" width="13.2" height="18.3" fill="#008086"/>
<rect x="793.73" y="1659.9" width="13.2" height="18.3" fill="#008086"/>
<rect x="809.27" y="1659.9" width="13.2" height="18.3" fill="#008086"/>
<rect x="824.81" y="1659.9" width="13.2" height="18.3" fill="#008086"/>
<rect x="840.35" y="1659.9" width="13.2" height="18.3" fill="#008086"/>
<rect x="1151.19" y="1659.9" width="13.2" height="18.3" fill="#008086"/>
<rect x="1166.74" y="1659.9" width="13.2" height="18.3" fill="#008086"/>
<rect x="1182.28" y="1659.9" width="13.2" height="18.3" fill="#008086"/>
<rect x="1197.82" y="1659.9" width="13.2" height="18.3" fill="#008086"/>
<rect x="1213.36" y="1659.9" width="13.2" height="18.3" fill="#008086"/>
<rect x="1228.9" y="1659.9" width="13.2" height="18.3" fill="#008086"/>
<rect x="1244.45" y="1659.9" width="13.2" height="18.3" fill="#008086"/>
<rect x="1259.99" y="1659.9" width="13.2" height="18.3" fill="#008086"/>
<rect x="1275.53" y="1659.9" width="13.2" height="18.3" fill="#008086"/>
<rect x="1291.07" y="1659.9" width="13.2" height="18.3" fill="#008086"/>
<rect x="1306.61" y="1659.9" width="13.2" height="18.3" fill="#008086"/>
<rect x="1322.16" y="1659.9" width="13.2" height="18.3" fill="#008086"/>
<rect x="1337.7" y="1659.9" width="13.2" height="18.3" fill="#008086"/>
<rect x="1353.24" y="1659.9" width="13.2" height="18.3" fill="#008086"/>
<rect x="1368.78" y="1659.9" width="13.2" height="18.3" fill="#008086"/>
<rect x="1539.74" y="1659.9" width="13.2" height="18.3" fill="#008086"/>
<rect x="1555.29" y="1659.9" width="13.2" height="18.3" fill="#008086"/>
<rect x="1570.83" y="1659.9" width="13.2" height="18.3" fill="#008086"/>
<rect x="1586.37" y="1659.9" width="13.2" height="18.3" fill="#008086"/>
<rect x="1601.91" y="1659.9" width="13.2" height="18.3" fill="#008086"/>
<rect x="1617.45" y="1659.9" width="13.2" height="18.3" fill="#008086"/>
<rect x="1633" y="1659.9" width="13.2" height="18.3" fill="#008086"/>
<rect x="1648.54" y="1659.9" width="13.2" height="18.3" fill="#008086"/>
<text x="247.8" y="1671.34" font-size="14.7" text-anchor="end" xml:space="preserve">Genome Integrity</text>
<text x="1784" y="1671.16" font-size="14.7">52%</text>
<rect x="265.3" y="1681.1" width="13.2" height="18.3" fill="#008086"/>
<rect x="280.84" y="1681.1" width="13.2" height="18.3" fill="#008086"/>
<rect x="296.38" y="1681.1" width="13.2" height="18.3" fill="#008086"/>
<rect x="311.93" y="1681.1" width="13.2" height="18.3" fill="#008086"/>
<rect x="327.47" y="1681.1" width="13.2" height="18.3" fill="#008086"/>
<rect x="343.01" y="1681.1" width="13.2" height="18.3" fill="#008086"/>
<rect x="358.55" y="1681.1" width="13.2" height="18.3" fill="#008086"/>
<rect x="374.09" y="1681.1" width="13.2" height="18.3" fill="#008086"/>
<rect x="389.64" y="1681.1" width="13.2" height="18.3" fill="#008086"/>
<rect x="529.51" y="1681.1" width="13.2" height="18.3" fill="#008086"/>
<rect x="545.06" y="1681.1" width="13.2" height="18.3" fill="#008086"/>
<rect x="560.6" y="1681.1" width="13.2" height="18.3" fill="#008086"/>
<rect x="576.14" y="1681.1" width="13.2" height="18.3" fill="#008086"/>
<rect x="591.68" y="1681.1" width="13.2" height="18.3" fill="#008086"/>
<rect x="607.22" y="1681.1" width="13.2" height="18.3" fill="#008086"/>
<rect x="700.48" y="1681.1" width="13.2" height="18.3" fill="#008086"/>
<rect x="716.02" y="1681.1" width="13.2" height="18.3" fill="#008086"/>
<rect x="731.56" y="1681.1" width="13.2" height="18.3" fill="#008086"/>
<rect x="747.1" y="1681.1" width="13.2" height="18.3" fill="#008086"/>
<rect x="762.64" y="1681.1" width="13.2" height="18.3" fill="#008086"/>
<rect x="855.9" y="1681.1" width="13.2" height="18.3" fill="#008086"/>
<rect x="871.44" y="1681.1" width="13.2" height="18.3" fill="#008086"/>
<rect x="886.98" y="1681.1" width="13.2" height="18.3" fill="#008086"/>
<rect x="902.52" y="1681.1" width="13.2" height="18.3" fill="#008086"/>
<rect x="918.06" y="1681.1" width="13.2" height="18.3" fill="#008086"/>
<rect x="933.61" y="1681.1" width="13.2" height="18.3" fill="#008086"/>
<rect x="949.15" y="1681.1" width="13.2" height="18.3" fill="#008086"/>
<rect x="964.69" y="1681.1" width="13.2" height="18.3" fill="#008086"/>
<rect x="980.23" y="1681.1" width="13.2" height="18.3" fill="#008086"/>
<rect x="1151.19" y="1681.1" width="13.2" height="18.3" fill="#008086"/>
<rect x="1166.74" y="1681.1" width="13.2" height="18.3" fill="#008086"/>
<rect x="1182.28" y="1681.1" width="13.2" height="18.3" fill="#008086"/>
<rect x="1197.82" y="1681.1" width="13.2" height="18.3" fill="#008086"/>
<rect x="1213.36" y="1681.1" width="13.2" height="18.3" fill="#008086"/>
<rect x="1228.9" y="1681.1" width="13.2" height="18.3" fill="#008086"/>
<rect x="1384.32" y="1681.1" width="13.2" height="18.3" fill="#008086"/>
<rect x="1399.87" y="1681.1" width="13.2" height="18.3" fill="#008086"/>
<rect x="1415.41" y="1681.1" width="13.2" height="18.3" fill="#008086"/>
<rect x="1430.95" y="1681.1" width="13.2" height="18.3" fill="#008086"/>
<rect x="1446.49" y="1681.1" width="13.2" height="18.3" fill="#008086"/>
<rect x="1539.74" y="1681.1" width="13.2" height="18.3" fill="#008086"/>
<rect x="1555.29" y="1681.1" width="13.2" height="18.3" fill="#008086"/>
<rect x="1570.83" y="1681.1" width="13.2" height="18.3" fill="#008086"/>
<rect x="1586.37" y="1681.1" width="13.2" height="18.3" fill="#008086"/>
<rect x="1664.08" y="1681.1" width="13.2" height="18.3" fill="#008086"/>
<rect x="1679.62" y="1681.1" width="13.2" height="18.3" fill="#008086"/>
<rect x="1695.16" y="1681.1" width="13.2" height="18.3" fill="#008086"/>
<text x="247.8" y="1692.66" font-size="14.7" text-anchor="end" xml:space="preserve">RTK−MAPK</text>
<text x="1784" y="1692.34" font-size="14.7">48%</text>
<rect x="265.3" y="1702.3" width="13.2" height="18.3" fill="#008086"/>
<rect x="280.84" y="1702.3" width="13.2" height="18.3" fill="#008086"/>
<rect x="296.38" y="1702.3" width="13.2" height="18.3" fill="#008086"/>
<rect x="405.18" y="1702.3" width="13.2" height="18.3" fill="#008086"/>
<rect x="420.72" y="1702.3" width="13.2" height="18.3" fill="#008086"/>
<rect x="436.26" y="1702.3" width="13.2" height="18.3" fill="#008086"/>
<rect x="529.51" y="1702.3" width="13.2" height="18.3" fill="#008086"/>
<rect x="545.06" y="1702.3" width="13.2" height="18.3" fill="#008086"/>
<rect x="560.6" y="1702.3" width="13.2" height="18.3" fill="#008086"/>
<rect x="622.77" y="1702.3" width="13.2" height="18.3" fill="#008086"/>
<rect x="638.31" y="1702.3" width="13.2" height="18.3" fill="#008086"/>
<rect x="653.85" y="1702.3" width="13.2" height="18.3" fill="#008086"/>
<rect x="700.48" y="1702.3" width="13.2" height="18.3" fill="#008086"/>
<rect x="716.02" y="1702.3" width="13.2" height="18.3" fill="#008086"/>
<rect x="778.19" y="1702.3" width="13.2" height="18.3" fill="#008086"/>
<rect x="855.9" y="1702.3" width="13.2" height="18.3" fill="#008086"/>
<rect x="871.44" y="1702.3" width="13.2" height="18.3" fill="#008086"/>
<rect x="995.77" y="1702.3" width="13.2" height="18.3" fill="#008086"/>
<rect x="1011.32" y="1702.3" width="13.2" height="18.3" fill="#008086"/>
<rect x="1151.19" y="1702.3" width="13.2" height="18.3" fill="#008086"/>
<rect x="1166.74" y="1702.3" width="13.2" height="18.3" fill="#008086"/>
<rect x="1182.28" y="1702.3" width="13.2" height="18.3" fill="#008086"/>
<rect x="1244.45" y="1702.3" width="13.2" height="18.3" fill="#008086"/>
<rect x="1259.99" y="1702.3" width="13.2" height="18.3" fill="#008086"/>
<rect x="1275.53" y="1702.3" width="13.2" height="18.3" fill="#008086"/>
<rect x="1291.07" y="1702.3" width="13.2" height="18.3" fill="#008086"/>
<rect x="1384.32" y="1702.3" width="13.2" height="18.3" fill="#008086"/>
<rect x="1399.87" y="1702.3" width="13.2" height="18.3" fill="#008086"/>
<rect x="1462.03" y="1702.3" width="13.2" height="18.3" fill="#008086"/>
<rect x="1539.74" y="1702.3" width="13.2" height="18.3" fill="#008086"/>
<rect x="1601.91" y="1702.3" width="13.2" height="18.3" fill="#008086"/>
<rect x="1664.08" y="1702.3" width="13.2" height="18.3" fill="#008086"/>
<rect x="1679.62" y="1702.3" width="13.2" height="18.3" fill="#008086"/>
<rect x="1695.16" y="1702.3" width="13.2" height="18.3" fill="#008086"/>
<rect x="1710.71" y="1702.3" width="13.2" height="18.3" fill="#008086"/>
<text x="247.8" y="1713.98" font-size="14.7" text-anchor="end" xml:space="preserve">PI3K−Akt</text>
<text x="1784" y="1713.52" font-size="14.7">36%</text>
<rect x="265.3" y="1723.5" width="13.2" height="18.3" fill="#008086"/>
<rect x="311.93" y="1723.5" width="13.2" height="18.3" fill="#008086"/>
<rect x="405.18" y="1723.5" width="13.2" height="18.3" fill="#008086"/>
<rect x="451.8" y="1723.5" width="13.2" height="18.3" fill="#008086"/>
<rect x="529.51" y="1723.5" width="13.2" height="18.3" fill="#008086"/>
<rect x="622.77" y="1723.5" width="13.2" height="18.3" fill="#008086"/>
<rect x="700.48" y="1723.5" width="13.2" height="18.3" fill="#008086"/>
<rect x="778.19" y="1723.5" width="13.2" height="18.3" fill="#008086"/>
<rect x="855.9" y="1723.5" width="13.2" height="18.3" fill="#008086"/>
<rect x="886.98" y="1723.5" width="13.2" height="18.3" fill="#008086"/>
<rect x="902.52" y="1723.5" width="13.2" height="18.3" fill="#008086"/>
<rect x="918.06" y="1723.5" width="13.2" height="18.3" fill="#008086"/>
<rect x="995.77" y="1723.5" width="13.2" height="18.3" fill="#008086"/>
<rect x="1151.19" y="1723.5" width="13.2" height="18.3" fill="#008086"/>
<rect x="1166.74" y="1723.5" width="13.2" height="18.3" fill="#008086"/>
<rect x="1415.41" y="1723.5" width="13.2" height="18.3" fill="#008086"/>
<rect x="1462.03" y="1723.5" width="13.2" height="18.3" fill="#008086"/>
<rect x="1555.29" y="1723.5" width="13.2" height="18.3" fill="#008086"/>
<rect x="1664.08" y="1723.5" width="13.2" height="18.3" fill="#008086"/>
<text x="247.8" y="1735.3" font-size="14.7" text-anchor="end" xml:space="preserve">Transcription Factor/Regulator </text>
<text x="1784" y="1734.7" font-size="14.7">20%</text>
<rect x="265.3" y="1744.7" width="13.2" height="18.3" fill="#008086"/>
<rect x="327.47" y="1744.7" width="13.2" height="18.3" fill="#008086"/>
<rect x="405.18" y="1744.7" width="13.2" height="18.3" fill="#008086"/>
<rect x="467.35" y="1744.7" width="13.2" height="18.3" fill="#008086"/>
<rect x="482.89" y="1744.7" width="13.2" height="18.3" fill="#008086"/>
<rect x="498.43" y="1744.7" width="13.2" height="18.3" fill="#008086"/>
<rect x="545.06" y="1744.7" width="13.2" height="18.3" fill="#008086"/>
<rect x="576.14" y="1744.7" width="13.2" height="18.3" fill="#008086"/>
<rect x="669.39" y="1744.7" width="13.2" height="18.3" fill="#008086"/>
<rect x="1151.19" y="1744.7" width="13.2" height="18.3" fill="#008086"/>
<rect x="1244.45" y="1744.7" width="13.2" height="18.3" fill="#008086"/>
<rect x="1259.99" y="1744.7" width="13.2" height="18.3" fill="#008086"/>
<rect x="1275.53" y="1744.7" width="13.2" height="18.3" fill="#008086"/>
<rect x="1306.61" y="1744.7" width="13.2" height="18.3" fill="#008086"/>
<rect x="1415.41" y="1744.7" width="13.2" height="18.3" fill="#008086"/>
<rect x="1477.58" y="1744.7" width="13.2" height="18.3" fill="#008086"/>
<text x="247.8" y="1756.62" font-size="14.7" text-anchor="end" xml:space="preserve">Hippo</text>
<text x="1784" y="1755.88" font-size="14.7">16%</text>
<rect x="265.3" y="1765.9" width="13.2" height="18.3" fill="#008086"/>
<rect x="405.18" y="1765.9" width="13.2" height="18.3" fill="#008086"/>
<rect x="420.72" y="1765.9" width="13.2" height="18.3" fill="#008086"/>
<rect x="513.97" y="1765.9" width="13.2" height="18.3" fill="#008086"/>
<rect x="638.31" y="1765.9" width="13.2" height="18.3" fill="#008086"/>
<rect x="653.85" y="1765.9" width="13.2" height="18.3" fill="#008086"/>
<rect x="731.56" y="1765.9" width="13.2" height="18.3" fill="#008086"/>
<rect x="855.9" y="1765.9" width="13.2" height="18.3" fill="#008086"/>
<rect x="1026.86" y="1765.9" width="13.2" height="18.3" fill="#008086"/>
<rect x="1151.19" y="1765.9" width="13.2" height="18.3" fill="#008086"/>
<rect x="1197.82" y="1765.9" width="13.2" height="18.3" fill="#008086"/>
<rect x="1244.45" y="1765.9" width="13.2" height="18.3" fill="#008086"/>
<rect x="1415.41" y="1765.9" width="13.2" height="18.3" fill="#008086"/>
<text x="247.8" y="1777.94" font-size="14.7" text-anchor="end" xml:space="preserve">Apoptosis</text>
<text x="1784" y="1777.06" font-size="14.7">13%</text>
<rect x="343.01" y="1787.1" width="13.2" height="18.3" fill="#008086"/>
<rect x="467.35" y="1787.1" width="13.2" height="18.3" fill="#008086"/>
<rect x="793.73" y="1787.1" width="13.2" height="18.3" fill="#008086"/>
<rect x="933.61" y="1787.1" width="13.2" height="18.3" fill="#008086"/>
<rect x="1384.32" y="1787.1" width="13.2" height="18.3" fill="#008086"/>
<rect x="1601.91" y="1787.1" width="13.2" height="18.3" fill="#008086"/>
<text x="247.8" y="1799.26" font-size="14.7" text-anchor="end" xml:space="preserve">Adhesion/Migration</text>
<text x="1784" y="1798.24" font-size="14.7">6%</text>
<rect x="280.84" y="1808.3" width="13.2" height="18.3" fill="#008086"/>
<rect x="327.47" y="1808.3" width="13.2" height="18.3" fill="#008086"/>
<rect x="1151.19" y="1808.3" width="13.2" height="18.3" fill="#008086"/>
<rect x="1399.87" y="1808.3" width="13.2" height="18.3" fill="#008086"/>
<rect x="1477.58" y="1808.3" width="13.2" height="18.3" fill="#008086"/>
<text x="247.8" y="1820.58" font-size="14.7" text-anchor="end" xml:space="preserve">Immune System Regulation </text>
<text x="1784" y="1819.42" font-size="14.7">5%</text>
<rect x="669.39" y="1829.5" width="13.2" height="18.3" fill="#008086"/>
<rect x="886.98" y="1829.5" width="13.2" height="18.3" fill="#008086"/>
<rect x="1182.28" y="1829.5" width="13.2" height="18.3" fill="#008086"/>
<rect x="1322.16" y="1829.5" width="13.2" height="18.3" fill="#008086"/>
<text x="247.8" y="1841.9" font-size="14.7" text-anchor="end" xml:space="preserve">Cellular Metabolism</text>
<text x="1784" y="1840.6" font-size="14.7">4%</text>
<rect x="529.51" y="1850.7" width="13.2" height="18.3" fill="#008086"/>
<rect x="576.14" y="1850.7" width="13.2" height="18.3" fill="#008086"/>
<rect x="1042.4" y="1850.7" width="13.2" height="18.3" fill="#008086"/>
<text x="247.8" y="1863.22" font-size="14.7" text-anchor="end" xml:space="preserve">Notch</text>
<text x="1784" y="1861.78" font-size="14.7">3%</text>
<rect x="1151.19" y="1871.9" width="13.2" height="18.3" fill="#008086"/>
<rect x="1259.99" y="1871.9" width="13.2" height="18.3" fill="#008086"/>
<text x="247.8" y="1884.54" font-size="14.7" text-anchor="end" xml:space="preserve">TGF−beta</text>
<text x="1784" y="1882.96" font-size="14.7">2%</text>
<text x="280.3" y="1974.3" font-size="22" font-weight="bold">n=97 mUC</text>
<text x="278.8" y="2043.1" font-size="22" font-weight="bold">Studies</text>
<rect x="277.5" y="2065.8" width="29" height="28.9" fill="#87625F"/>
<text x="317.9" y="2080.4" font-size="22">MATCH−R</text>
<rect x="277.5" y="2096.95" width="29" height="28.9" fill="#CC9795"/>
<text x="317.9" y="2111.5" font-size="22">MOSCATO</text>
<rect x="277.5" y="2128.1" width="29" height="28.9" fill="#F0B1B1"/>
<text x="317.9" y="2142.6" font-size="22">SHIVA</text>
<text x="277" y="2188.2" font-size="22" font-weight="bold">Site of biopsy</text>
<rect x="277.5" y="2206.4" width="29" height="28.9" fill="#8DD1C5"/>
<text x="317.9" y="2222" font-size="22">Mesorectum</text>
<rect x="277.5" y="2237.63" width="29" height="28.9" fill="#FAF4AE"/>
<text x="317.9" y="2253.12" font-size="22">Lung</text>
<rect x="277.5" y="2268.86" width="29" height="28.9" fill="#BBB5D8"/>
<text x="317.9" y="2284.24" font-size="22">Liver</text>
<rect x="277.5" y="2300.09" width="29" height="28.9" fill="#F47A6C"/>
<text x="317.9" y="2315.36" font-size="22">Lymph nodes</text>
<rect x="277.5" y="2331.32" width="29" height="28.9" fill="#7BADD0"/>
<text x="317.9" y="2346.48" font-size="22">Bone</text>
<rect x="277.5" y="2362.55" width="29" height="28.9" fill="#FBB05C"/>
<text x="317.9" y="2377.6" font-size="22">Muscle</text>
<rect x="277.5" y="2393.78" width="29" height="28.9" fill="#B2D665"/>
<text x="317.9" y="2408.72" font-size="22">Bladder</text>
<rect x="277.5" y="2425.01" width="29" height="28.9" fill="#F9CDE2"/>
<text x="317.9" y="2439.84" font-size="22">Subcutaneous</text>
<rect x="277.5" y="2456.24" width="29" height="28.9" fill="#C9B5AE"/>
<text x="317.9" y="2470.96" font-size="22">Peritoneum</text>
<rect x="277.5" y="2487.47" width="29" height="28.9" fill="#B778B3"/>
<text x="317.9" y="2502.08" font-size="22">Cutaneous</text>
<rect x="277.5" y="2518.7" width="29" height="28.9" fill="#DCEDF9"/>
<text x="317.9" y="2533.2" font-size="22">Adrenal</text>
<text x="575.4" y="2043.1" font-size="22" font-weight="bold">Disease</text>
<rect x="576.1" y="2065.8" width="29" height="28.9" fill="#5BA79B"/>
<text x="616.6" y="2080.8" font-size="22">mMIBC</text>
<rect x="576.1" y="2096.95" width="29" height="28.9" fill="#C4E5DB"/>
<text x="616.6" y="2112.2" font-size="22">mUTUC</text>
<text x="578.3" y="2153.4" font-size="22" font-weight="bold">Prior ICI</text>
<rect x="576.1" y="2175.3" width="29" height="28.9" fill="#EC8F99"/>
<text x="616.6" y="2190.2" font-size="22">Yes</text>
<rect x="576.1" y="2206.45" width="29" height="28.9" fill="#FACFD5"/>
<text x="616.6" y="2222.2" font-size="22">No</text>
<text x="575.4" y="2262.8" font-size="22" font-weight="bold">Transcriptomic subtypes</text>
<rect x="576.1" y="2284.7" width="29" height="28.9" fill="#5EC0A4"/>
<text x="618.9" y="2299.5" font-size="22">LumP</text>
<rect x="576.1" y="2315.9" width="29" height="28.9" fill="#F6875F"/>
<text x="618.9" y="2330.7" font-size="22">LumNS</text>
<rect x="576.1" y="2347.1" width="29" height="28.9" fill="#8A9BC9"/>
<text x="618.9" y="2361.9" font-size="22">LumU</text>
<rect x="576.1" y="2378.3" width="29" height="28.9" fill="#C8DA2B"/>
<text x="618.9" y="2393.1" font-size="22">Stroma.rich</text>
<rect x="576.1" y="2409.5" width="29" height="28.9" fill="#E085B9"/>
<text x="618.9" y="2424.3" font-size="22">Ba.Sq</text>
<rect x="576.1" y="2440.7" width="29" height="28.9" fill="#A5CF4D"/>
<text x="618.9" y="2455.5" font-size="22">NE.like</text>
<rect x="576.1" y="2471.9" width="29" height="28.9" fill="#F1F1F1"/>
<text x="618.9" y="2486.7" font-size="22">Unknown</text>
<text x="989.4" y="2041.2" font-size="22" font-weight="bold">TERT mutations</text>
<rect x="989.3" y="2063.8" width="28.7" height="28.9" fill="#856FB1"/>
<text x="1030.2" y="2079" font-size="22">Yes</text>
<rect x="989.3" y="2094.95" width="28.7" height="28.9" fill="#DECEE6"/>
<text x="1030.2" y="2110" font-size="22">No</text>
<rect x="989.3" y="2126.1" width="28.7" height="28.9" fill="#F1F1F1"/>
<text x="1030.2" y="2141" font-size="22">Not tested</text>
<text x="989.6" y="2181.5" font-size="22" font-weight="bold">Mutational signatures</text>
<rect x="989.3" y="2204.8" width="28.7" height="28.9" fill="#BAB8DC"/>
<text x="1030.4" y="2219.2" font-size="22">Aflatoxin</text>
<rect x="989.3" y="2236.04" width="28.7" height="28.9" fill="#F1F1F1"/>
<text x="1030.4" y="2250.5" font-size="22">Not informative</text>
<rect x="989.3" y="2267.28" width="28.7" height="28.9" fill="#F49A92"/>
<text x="1030.4" y="2281.8" font-size="22">APOBEC</text>
<rect x="989.3" y="2298.52" width="28.7" height="28.9" fill="#F4C7D9"/>
<text x="1030.4" y="2313.1" font-size="22">Deamin_5MC</text>
<rect x="989.3" y="2329.76" width="28.7" height="28.9" fill="#DDE9AE"/>
<text x="1030.4" y="2344.4" font-size="22">HRD</text>
<rect x="989.3" y="2361" width="28.7" height="28.9" fill="#77B4A9"/>
<text x="1030.4" y="2375.7" font-size="22">Ig_hypermutation</text>
<rect x="989.3" y="2392.24" width="28.7" height="28.9" fill="#FBCF98"/>
<text x="1030.4" y="2407" font-size="22">MMR</text>
<rect x="989.3" y="2423.48" width="28.7" height="28.9" fill="#9DD0F1"/>
<text x="1030.4" y="2438.3" font-size="22">Platinum</text>
<rect x="989.3" y="2454.72" width="28.7" height="28.9" fill="#856FB1"/>
<text x="1030.4" y="2469.6" font-size="22">POLE</text>
<rect x="989.3" y="2485.96" width="28.7" height="28.9" fill="#F4796B"/>
<text x="1030.4" y="2500.9" font-size="22">Tobacco</text>
<text x="1426.6" y="2046.4" font-size="22" font-weight="bold">TMB</text>
<rect x="1424.2" y="2069.1" width="28.7" height="28.9" fill="#DC1C24"/>
<text x="1462" y="2083.3" font-size="22">High</text>
<rect x="1424.2" y="2100.4" width="28.7" height="28.9" fill="#FDC751"/>
<text x="1462" y="2114.85" font-size="22">Mid</text>
<rect x="1424.2" y="2131.7" width="28.7" height="28.9" fill="#F9EE7A"/>
<text x="1462" y="2146.4" font-size="22">Low</text>
<text x="1424.2" y="2186.8" font-size="22" font-weight="bold">RNAseq</text>
<rect x="1424.2" y="2210.1" width="28.7" height="28.9" fill="#84AEDE"/>
<text x="1462.8" y="2224.5" font-size="22">Done</text>
<rect x="1424.2" y="2241.25" width="28.7" height="28.9" fill="#F1F1F1"/>
<text x="1462.8" y="2255.6" font-size="22">Not done</text>
</g>
</svg>
</body></html>
